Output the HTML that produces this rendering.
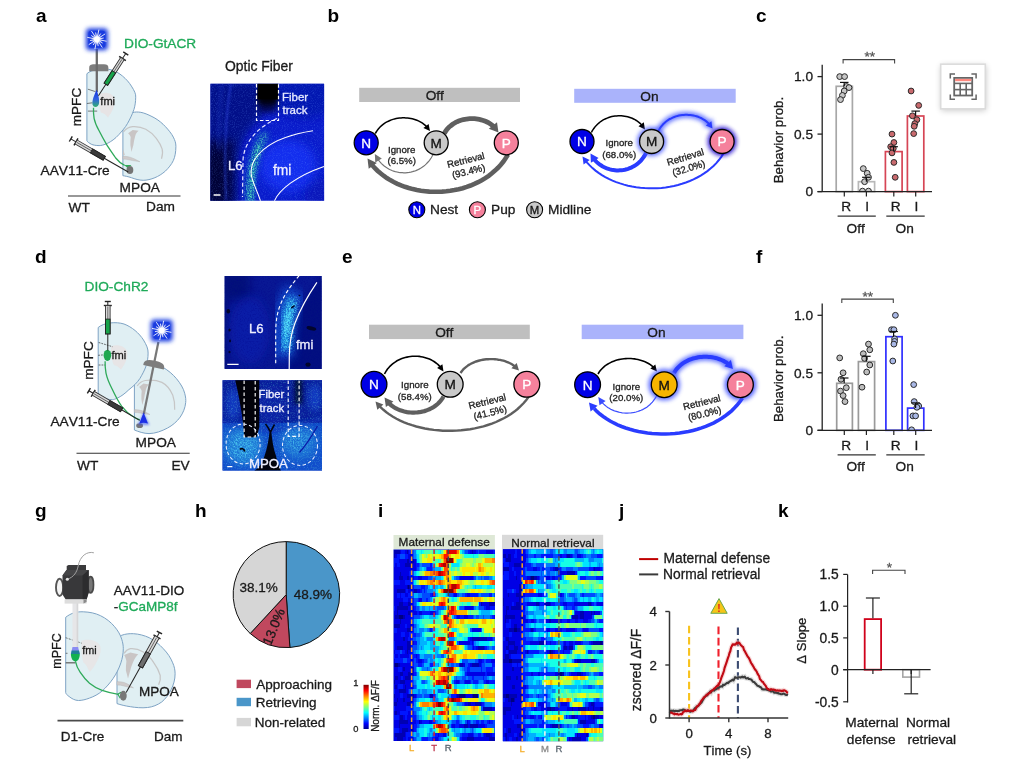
<!DOCTYPE html>
<html><head><meta charset="utf-8"><title>Figure</title>
<style>
html,body{margin:0;padding:0;background:#fff;}
body{width:1018px;height:765px;overflow:hidden;position:relative;font-family:"Liberation Sans",sans-serif;}
svg{position:absolute;left:0;top:0;display:block;}
svg text{font-family:"Liberation Sans",sans-serif;font-kerning:none;}
</style></head><body>
<svg width="1018" height="765" viewBox="0 0 1018 765">
<defs>
<filter id="blurh" x="-2%" y="-2%" width="104%" height="104%"><feGaussianBlur stdDeviation="0.55"/></filter>
<filter id="blur1" x="-50%" y="-50%" width="200%" height="200%"><feGaussianBlur stdDeviation="1"/></filter>
<filter id="blur2" x="-50%" y="-50%" width="200%" height="200%"><feGaussianBlur stdDeviation="2"/></filter>
<filter id="blur3" x="-50%" y="-50%" width="200%" height="200%"><feGaussianBlur stdDeviation="3"/></filter>
<filter id="blur5" x="-50%" y="-50%" width="200%" height="200%"><feGaussianBlur stdDeviation="5"/></filter>
<filter id="blur8" x="-50%" y="-50%" width="200%" height="200%"><feGaussianBlur stdDeviation="8"/></filter>
<filter id="noise" x="0" y="0" width="100%" height="100%">
  <feTurbulence type="fractalNoise" baseFrequency="0.9" numOctaves="2" seed="3" result="n"/>
  <feColorMatrix in="n" type="matrix" values="0 0 0 0 0.15  0 0 0 0 0.35  0 0 0 0 1  0 0 1.6 0 -0.75"/>
</filter>
<filter id="noisec" x="0" y="0" width="100%" height="100%">
  <feTurbulence type="fractalNoise" baseFrequency="0.8" numOctaves="2" seed="11" result="n"/>
  <feColorMatrix in="n" type="matrix" values="0 0 0 0 0.2  0 0 0 0 1  0 0 0 0 0.75  0 2.4 0 0 -1.15"/>
</filter>
<filter id="noiseg" x="0" y="0" width="100%" height="100%">
  <feTurbulence type="fractalNoise" baseFrequency="0.75" numOctaves="2" seed="5" result="n"/>
  <feColorMatrix in="n" type="matrix" values="0 0 0 0 0.12  0 0 0 0 0.85  0 0 0 0 0.55  0 3.0 0 0 -1.15"/>
</filter>
<filter id="noisecy" x="0" y="0" width="100%" height="100%">
  <feTurbulence type="fractalNoise" baseFrequency="0.75" numOctaves="2" seed="8" result="n"/>
  <feColorMatrix in="n" type="matrix" values="0 0 0 0 0.12  0 0 0 0 0.88  0 0 0 0 1  0 3.0 0 0 -1.2"/>
</filter>
<filter id="noised" x="0" y="0" width="100%" height="100%">
  <feTurbulence type="fractalNoise" baseFrequency="0.7" numOctaves="2" seed="7" result="n"/>
  <feColorMatrix in="n" type="matrix" values="0 0 0 0 0  0 0 0 0 0  0 0 0 0 0.25  1.8 0 0 0 -0.85"/>
</filter>
<radialGradient id="lightg" cx="50%" cy="50%" r="50%">
  <stop offset="0" stop-color="#fff"/><stop offset="0.25" stop-color="#dfe6ff"/><stop offset="0.45" stop-color="#2a4ae8"/><stop offset="1" stop-color="#1638dc"/>
</radialGradient>
<linearGradient id="coneg" x1="0" y1="0" x2="0" y2="1">
  <stop offset="0" stop-color="#1030e0"/><stop offset="0.55" stop-color="#3060e0"/><stop offset="1" stop-color="#30b070"/>
</linearGradient>
<linearGradient id="coned" x1="0" y1="0" x2="0" y2="1">
  <stop offset="0" stop-color="#1030e0"/><stop offset="1" stop-color="#5070f0" stop-opacity="0.5"/>
</linearGradient>
<linearGradient id="jet" x1="0" y1="1" x2="0" y2="0">
  <stop offset="0" stop-color="#00008f"/><stop offset="0.12" stop-color="#0000ff"/><stop offset="0.37" stop-color="#00ffff"/>
  <stop offset="0.62" stop-color="#ffff00"/><stop offset="0.87" stop-color="#ff0000"/><stop offset="1" stop-color="#800000"/>
</linearGradient>
<clipPath id="clipA"><rect x="210.4" y="83.8" width="113.7" height="116.9"/></clipPath>
<clipPath id="clipD1"><rect x="224.6" y="275.9" width="97.1" height="93"/></clipPath>
<clipPath id="clipD2"><rect x="222.6" y="380.2" width="99.4" height="90.3"/></clipPath>
</defs>
<text x="36" y="22" font-size="19" fill="#000" text-anchor="start" font-weight="bold">a</text>
<text x="327.5" y="22" font-size="19" fill="#000" text-anchor="start" font-weight="bold">b</text>
<text x="756" y="22" font-size="19" fill="#000" text-anchor="start" font-weight="bold">c</text>
<text x="35" y="263" font-size="19" fill="#000" text-anchor="start" font-weight="bold">d</text>
<text x="342" y="263" font-size="19" fill="#000" text-anchor="start" font-weight="bold">e</text>
<text x="756" y="263" font-size="19" fill="#000" text-anchor="start" font-weight="bold">f</text>
<text x="35" y="516.5" font-size="19" fill="#000" text-anchor="start" font-weight="bold">g</text>
<text x="195" y="516.5" font-size="19" fill="#000" text-anchor="start" font-weight="bold">h</text>
<text x="378" y="516.5" font-size="19" fill="#000" text-anchor="start" font-weight="bold">i</text>
<text x="619" y="516.5" font-size="19" fill="#000" text-anchor="start" font-weight="bold">j</text>
<text x="778" y="516.5" font-size="19" fill="#000" text-anchor="start" font-weight="bold">k</text>
<path d="M122.9,125 C126,117 130,113 134.3,112.2 C137,111.8 140,112 143.2,112.9 C147,114 151,116 154.9,118.1 C159,120.5 162.5,123.5 165.4,126.6 C168.5,130 171.5,133.5 173.3,137.1 C175,140.5 175.9,143 175.9,146.3 C175.9,152 175,157 173.3,160.6 C171.5,164.5 168.5,168 165.4,171.1 C162,174 158.5,176.2 154.9,177.7 C151,179.3 147,180.3 143.2,180.3 C139,180.3 135,179 131.4,177.7 C128,176.5 125,176 122.9,175.7 Z" fill="#e0eff3" stroke="#7ea3c4" stroke-width="1"/>
<path d="M123.5,131.9 C126,128.5 129,127 132.7,126.6 C137,126.3 141.5,127 145.8,129.2 C150,131.5 153.5,134.5 156.3,138.4 C159,142 161,145.5 162.1,148.9 C163,152 162.5,155.5 161.5,158.7" fill="none" stroke="#c6c6c6" stroke-width="1.2"/>
<path d="M128.1,133.2 L132.7,129.9 L138.6,130.8 C136.5,132.5 135.8,134 135.3,135.8 C134.3,139 133.8,142 133.4,144.9 L131.4,152.1 L130.4,144.9 C130.3,142 130.4,139.5 130.7,137.1 C130.2,135.5 129.3,134.2 128.1,133.2 Z" fill="#c9c5c5"/>
<path d="M122.9,156.1 L128.1,156.7 C130.5,157.2 132.3,157.9 134,158.7 L139.9,161.7 L132.7,160.6 L126.2,159.3 L122.9,159.1 Z" fill="#cfcbcb" stroke="#b4b0b0" stroke-width="0.4"/>
<path d="M123,148.5 L124.8,155 L123,155 Z" fill="#c9c5c5"/>
<path d="M86.9,73.7 C92,69 104,68 111.5,69.9 C119,72 127,79 131.4,86.1 C134.5,91 136,94 135.7,97.2 C135.7,102 135,106 133.9,109.6 C132,115 130,119 127.6,123.3 C125,128 122,131 119,134.5 C115,139 111,141.5 107.8,143.2 C104,145 101,145.6 99.1,145.6 C96,145.6 93,145 91.7,144.4 C89,143 87.5,142 86.9,140.7 Z" fill="#e0eff3" stroke="#7ea3c4" stroke-width="1"/>
<path d="M100,94 C105,91.5 113,93 114.5,99 C115.5,105 112,112 108,117.5 C106,115 104,113 101,112.5 C99,108 99.5,100 100,94 Z" fill="#e8e2e2" opacity="0.85"/>
<g stroke="#444" stroke-width="0.7"><line x1="87.9" y1="89.2" x2="95.4" y2="91.6"/><line x1="86.9" y1="103.5" x2="92.3" y2="102.8"/><line x1="87.9" y1="111.1" x2="97.2" y2="111.1"/></g>
<path d="M89.2,71.2 L89.2,68 C89.2,65 91,64.3 94,64.3 L104,64.3 C107,64.3 108.4,65.3 108.4,68 L108.4,71.2 Z" fill="#7d7d7d"/>
<line x1="96.8" y1="49" x2="96.8" y2="92" stroke="#6a6a6a" stroke-width="2.3"/>
<rect x="85.9" y="28.3" width="22" height="22" rx="4" fill="#1a3ce0" filter="url(#blur2)"/>
<rect x="88.4" y="30.8" width="17" height="17" rx="3" fill="#1a3ce0"/>
<g stroke="#fff" stroke-width="0.9" stroke-linecap="round" opacity="0.95"><line x1="96.9" y1="39.3" x2="106.2" y2="41.2"/><line x1="96.9" y1="39.3" x2="102.3" y2="42.9"/><line x1="96.9" y1="39.3" x2="102.1" y2="47.2"/><line x1="96.9" y1="39.3" x2="98.1" y2="45.7"/><line x1="96.9" y1="39.3" x2="95" y2="48.6"/><line x1="96.9" y1="39.3" x2="93.3" y2="44.7"/><line x1="96.9" y1="39.3" x2="89" y2="44.5"/><line x1="96.9" y1="39.3" x2="90.5" y2="40.5"/><line x1="96.9" y1="39.3" x2="87.6" y2="37.4"/><line x1="96.9" y1="39.3" x2="91.5" y2="35.7"/><line x1="96.9" y1="39.3" x2="91.7" y2="31.4"/><line x1="96.9" y1="39.3" x2="95.7" y2="32.9"/><line x1="96.9" y1="39.3" x2="98.8" y2="30"/><line x1="96.9" y1="39.3" x2="100.5" y2="33.9"/><line x1="96.9" y1="39.3" x2="104.8" y2="34.1"/><line x1="96.9" y1="39.3" x2="103.3" y2="38.1"/></g>
<circle cx="96.9" cy="39.3" r="3.6" fill="#fff" filter="url(#blur1)"/>
<circle cx="96.9" cy="39.3" r="2.6" fill="#fff"/>
<path d="M96.6,89.8 C98,94 99.6,99 99.1,103 C98.6,107.5 93.8,108.5 92.5,104.5 C91.8,100.5 94.5,94.5 96.6,89.8 Z" fill="url(#coneg)"/>
<path d="M93.5,107.8 C93.3,112 93.6,115 94.1,118.3 C95,123 97,127 99.1,130.7 C101.5,135.5 104,140 106.5,144.4 C109,148.5 112,152.5 115.7,158 C118.5,161.5 121,163.8 124.6,165.4" fill="none" stroke="#2faa5a" stroke-width="1.3"/>
<path d="M124.2,165 L131.4,165 L128.1,168.6 Z" fill="#2faa5a"/>
<ellipse cx="129.9" cy="169.9" rx="3.4" ry="4" fill="#757575"/>
<g transform="translate(122.5 58.5) rotate(122.9)">
<line x1="-6" y1="0" x2="0" y2="0" stroke="#222" stroke-width="1"/>
<line x1="-6" y1="-3" x2="-6" y2="3" stroke="#222" stroke-width="1.4"/>
<line x1="0" y1="-4" x2="0" y2="4" stroke="#222" stroke-width="1.4"/>
<rect x="0" y="-2.1" width="30.6" height="4.2" fill="#d8d8d8" stroke="#333" stroke-width="0.9"/>
<line x1="1" y1="0" x2="15.9" y2="0" stroke="#555" stroke-width="0.8"/>
<rect x="15.9" y="-2.1" width="14.7" height="4.2" fill="#16a34a" stroke="#222" stroke-width="0.9"/>
<line x1="30.6" y1="0" x2="44.3" y2="0" stroke="#222" stroke-width="1"/>
</g>
<g transform="translate(76 141.9) rotate(30)">
<line x1="-6" y1="0" x2="0" y2="0" stroke="#222" stroke-width="1"/>
<line x1="-6" y1="-3" x2="-6" y2="3" stroke="#222" stroke-width="1.4"/>
<line x1="0" y1="-4" x2="0" y2="4" stroke="#222" stroke-width="1.4"/>
<rect x="0" y="-2.2" width="32.6" height="4.4" fill="#d8d8d8" stroke="#333" stroke-width="0.9"/>
<line x1="1" y1="0" x2="17.9" y2="0" stroke="#555" stroke-width="0.8"/>
<rect x="17.9" y="-2.2" width="14.7" height="4.4" fill="#3a3a3a" stroke="#222" stroke-width="0.9"/>
<line x1="32.6" y1="0" x2="60.3" y2="0" stroke="#222" stroke-width="1"/>
</g>
<text x="124" y="48.2" font-size="13.7" fill="#1faa59" stroke="#1faa59" stroke-width="0.3" text-anchor="start">DIO-GtACR</text>
<text x="81" y="107" font-size="13.6" fill="#1a1a1a" stroke="#1a1a1a" stroke-width="0.3" text-anchor="middle" transform="rotate(-90 81 107)">mPFC</text>
<text x="100.3" y="105.3" font-size="11.1" fill="#1a1a1a" stroke="#1a1a1a" stroke-width="0.3" text-anchor="start">fmi</text>
<text x="40.5" y="174.8" font-size="13.7" fill="#1a1a1a" stroke="#1a1a1a" stroke-width="0.3" text-anchor="start">AAV11-Cre</text>
<text x="119.6" y="192" font-size="13.7" fill="#1a1a1a" stroke="#1a1a1a" stroke-width="0.3" text-anchor="start">MPOA</text>
<line x1="68" y1="196" x2="180.5" y2="196" stroke="#333" stroke-width="1.2"/>
<text x="68.5" y="212.3" font-size="13.7" fill="#1a1a1a" stroke="#1a1a1a" stroke-width="0.3" text-anchor="start">WT</text>
<text x="146" y="210.8" font-size="13.7" fill="#1a1a1a" stroke="#1a1a1a" stroke-width="0.3" text-anchor="start">Dam</text>
<text x="225" y="71.3" font-size="13.9" fill="#1a1a1a" stroke="#1a1a1a" stroke-width="0.3" text-anchor="start">Optic Fiber</text>
<mask id="mGreenA"><rect x="205" y="80" width="125" height="125" fill="#000"/><path d="M265,134 C255,150 249.5,170 249.5,203" fill="none" stroke="#ccc" stroke-width="7.5" filter="url(#blur3)"/><path d="M259,146 C252.5,160 250,180 250.5,203" fill="none" stroke="#fff" stroke-width="4.5" filter="url(#blur2)"/></mask>
<g clip-path="url(#clipA)">
<rect x="210" y="83" width="115" height="118" fill="#0a1ccc"/>
<path d="M205,80 L262,80 L262,118 C248,128 238,145 238,165 L238,206 L205,206 Z" fill="#040c78" opacity="0.8" filter="url(#blur5)"/>
<path d="M205,140 L234,140 L234,206 L205,206 Z" fill="#010336" opacity="0.7" filter="url(#blur5)"/>
<ellipse cx="216" cy="178" rx="10" ry="30" fill="#00021c" opacity="0.45" filter="url(#blur5)"/>
<ellipse cx="305" cy="96" rx="34" ry="22" fill="#0612a8" opacity="0.75" filter="url(#blur5)"/>
<ellipse cx="320" cy="194" rx="16" ry="16" fill="#0714b0" opacity="0.6" filter="url(#blur5)"/>
<ellipse cx="288" cy="166" rx="28" ry="26" fill="#1230f4" opacity="0.85" filter="url(#blur5)"/>
<path d="M231,84 C226,110 224,150 226,200" fill="none" stroke="#2a44e0" stroke-width="1.6" opacity="0.7" filter="url(#blur1)"/>
<path d="M222,84 C219,110 218,130 219,150" fill="none" stroke="#1a30c0" stroke-width="3" opacity="0.5" filter="url(#blur2)"/>
<rect x="210" y="83" width="115" height="118" filter="url(#noise)" opacity="0.4"/>
<path d="M266,132 C256,148 250,168 250,200" fill="none" stroke="#1090a8" stroke-width="6" opacity="0.4" filter="url(#blur3)"/>
<path d="M260,144 C253,160 250.5,178 250.5,201" fill="none" stroke="#20c890" stroke-width="3" opacity="0.5" filter="url(#blur2)"/>
<g mask="url(#mGreenA)"><rect x="210" y="83" width="115" height="118" filter="url(#noiseg)"/></g>
<rect x="259" y="92" width="17.5" height="20" fill="#00021e" opacity="0.75" filter="url(#blur3)"/>
<rect x="257.5" y="83" width="20.5" height="16.5" fill="#000"/>
<rect x="258.5" y="92" width="18.5" height="12" fill="#000" opacity="0.8" filter="url(#blur2)"/>
<path d="M256.5,84 V120.5 H278.5 V84" fill="none" stroke="#fff" stroke-width="1.2" stroke-dasharray="3.5 2.2"/>
<path d="M277,118.5 C258,127 244,142 243,160 L242.5,197" fill="none" stroke="#e8e8ff" stroke-width="1.2" stroke-dasharray="4 2.6"/>
<path d="M260.5,201 C257,190 252,182 251.2,174 C250,158 266,138 313,130.8" fill="none" stroke="#fff" stroke-width="1.1"/>
<path d="M274.4,201 C279,190 296,176 324,166.4" fill="none" stroke="#fff" stroke-width="1.1"/>
<line x1="213.6" y1="195" x2="220.5" y2="195" stroke="#fff" stroke-width="1.3"/>
</g>
<text x="282" y="100.8" font-size="11.5" fill="#e6e9ff" stroke="#e6e9ff" stroke-width="0.3" text-anchor="start">Fiber</text>
<text x="282.5" y="113.8" font-size="11.5" fill="#e6e9ff" stroke="#e6e9ff" stroke-width="0.3" text-anchor="start">track</text>
<text x="228" y="169.5" font-size="13.2" fill="#f0f0ff" stroke="#f0f0ff" stroke-width="0.3" text-anchor="start">L6</text>
<text x="273" y="175" font-size="13.8" fill="#f0f0ff" stroke="#f0f0ff" stroke-width="0.3" text-anchor="start">fmi</text>
<rect x="359.2" y="87.8" width="160.8" height="14.2" fill="#bfbfbf"/>
<text x="434.8" y="99.8" font-size="13.7" fill="#1a1a1a" stroke="#1a1a1a" stroke-width="0.3" text-anchor="middle">Off</text>
<path d="M508,154.5 L505.8,158.1 L503.4,161.5 L500.8,164.7 L498,167.8 L495,170.6 L491.9,173.3 L488.7,175.8 L485.3,178.1 L481.8,180.2 L478.1,182.2 L474.4,183.9 L470.6,185.5 L466.7,186.9 L462.7,188.2 L458.6,189.2 L454.5,190.1 L450.3,190.8 L446.2,191.3 L442,191.6 L437.8,191.8 L433.5,191.8 L429.3,191.6 L425.2,191.2 L421,190.7 L416.9,190 L412.8,189.1 L408.8,188 L404.9,186.8 L401.1,185.4 L397.4,183.8 L393.7,182 L390.2,180.1 L386.8,178 L383.6,175.7 L380.5,173.3 L377.5,170.7 L374.7,167.9 L372.1,164.9 L372.1,164.9" fill="none" stroke="#5f5f5f" stroke-width="4.6"/>
<polygon points="367.5,158.5 376.8,162.9 368.7,168.7" fill="#5f5f5f"/>
<path d="M433,154.5 L432.1,156.3 L431.1,158 L430,159.6 L428.9,161.1 L427.6,162.5 L426.3,163.9 L425,165.1 L423.6,166.2 L422.1,167.3 L420.6,168.3 L419.1,169.1 L417.5,169.9 L415.9,170.6 L414.2,171.2 L412.5,171.7 L410.8,172.1 L409.1,172.4 L407.4,172.6 L405.6,172.8 L403.9,172.8 L402.2,172.7 L400.4,172.6 L398.7,172.4 L397,172 L395.3,171.6 L393.6,171.1 L391.9,170.5 L390.3,169.8 L388.7,169 L387.2,168.1 L385.7,167.1 L384.2,166 L382.8,164.8 L381.5,163.6 L380.2,162.2 L378.9,160.7 L377.8,159.2 L377.8,159.2" fill="none" stroke="#757575" stroke-width="1.2"/>
<polygon points="374.8,154 381.8,158.6 375.3,162.4" fill="#757575"/>
<path d="M375.3,133.5 L376.2,132 L377.1,130.6 L378.1,129.2 L379.2,128 L380.3,126.8 L381.6,125.6 L382.8,124.6 L384.1,123.6 L385.5,122.7 L386.9,121.9 L388.4,121.2 L389.9,120.5 L391.4,119.9 L393,119.4 L394.5,118.9 L396.1,118.6 L397.7,118.3 L399.4,118 L401,117.9 L402.6,117.8 L404.3,117.8 L405.9,117.9 L407.6,118 L409.2,118.2 L410.8,118.5 L412.3,118.8 L413.9,119.2 L415.4,119.7 L416.9,120.3 L418.4,120.9 L419.8,121.6 L421.2,122.4 L422.5,123.2 L423.7,124.1 L425,125.1 L426.1,126.1 L426.7,126.7" fill="none" stroke="#000" stroke-width="1.5"/>
<polygon points="430,131 423.4,127.9 428.6,123.9" fill="#000"/>
<path d="M444.2,133.5 L445.1,132.1 L446,130.7 L447,129.4 L448.1,128.2 L449.2,127 L450.4,126 L451.7,125 L453,124 L454.3,123.2 L455.7,122.4 L457.2,121.7 L458.7,121.1 L460.2,120.5 L461.7,120 L463.3,119.6 L464.9,119.3 L466.5,119 L468.1,118.8 L469.7,118.7 L471.4,118.6 L473,118.6 L474.6,118.7 L476.2,118.9 L477.8,119.1 L479.4,119.4 L481,119.8 L482.5,120.2 L484,120.7 L485.5,121.3 L487,122 L488.4,122.7 L489.7,123.5 L491,124.4 L492.3,125.4 L493.5,126.4 L494.1,126.9" fill="none" stroke="#5f5f5f" stroke-width="4.8"/>
<polygon points="498.5,132.5 488.8,128.7 497,122.2" fill="#5f5f5f"/>
<circle cx="366.2" cy="142.8" r="12" fill="#0000e6" stroke="#000" stroke-width="1.3"/>
<text x="366.2" y="147.7" font-size="13.6" fill="#fff" stroke="#fff" stroke-width="0.3" text-anchor="middle">N</text>
<circle cx="436.2" cy="142.8" r="12" fill="#c9c9c9" stroke="#000" stroke-width="1.3"/>
<text x="436.2" y="147.7" font-size="13.6" fill="#111" stroke="#111" stroke-width="0.3" text-anchor="middle">M</text>
<circle cx="506.3" cy="142.8" r="12" fill="#f5819c" stroke="#000" stroke-width="1.3"/>
<text x="506.3" y="147.7" font-size="13.6" fill="#fff" stroke="#fff" stroke-width="0.3" text-anchor="middle">P</text>
<text x="401.7" y="153" font-size="9.7" fill="#222" stroke="#222" stroke-width="0.3" text-anchor="middle">Ignore</text>
<text x="401.7" y="164.2" font-size="9.7" fill="#222" stroke="#222" stroke-width="0.3" text-anchor="middle">(6.5%)</text>
<g transform="rotate(-14 468 168.9)">
<text x="468" y="163.2" font-size="9.7" fill="#222" stroke="#222" stroke-width="0.3" text-anchor="middle">Retrieval</text>
<text x="468" y="174.7" font-size="9.7" fill="#222" stroke="#222" stroke-width="0.3" text-anchor="middle">(93.4%)</text>
</g>
<rect x="574.2" y="88.8" width="161.5" height="14" fill="#aab3fb"/>
<text x="649.5" y="100.6" font-size="13.7" fill="#1a1a1a" stroke="#1a1a1a" stroke-width="0.3" text-anchor="middle">On</text>
<path d="M723.5,153.5 L721.3,156.9 L718.9,160 L716.3,163.1 L713.5,165.9 L710.5,168.6 L707.4,171.1 L704.1,173.4 L700.7,175.6 L697.2,177.5 L693.5,179.4 L689.8,181 L685.9,182.5 L682,183.8 L678,185 L673.9,185.9 L669.8,186.7 L665.6,187.4 L661.4,187.9 L657.2,188.2 L653,188.3 L648.8,188.3 L644.6,188.1 L640.4,187.7 L636.2,187.2 L632.1,186.5 L628,185.7 L624,184.6 L620.1,183.4 L616.2,182.1 L612.5,180.6 L608.8,178.9 L605.3,177.1 L601.9,175.1 L598.6,172.9 L595.5,170.6 L592.5,168.1 L589.7,165.4 L587.1,162.6 L585.9,161.1" fill="none" stroke="#2a3cff" stroke-width="2"/>
<polygon points="582.5,156.5 589.7,159.9 583.6,164.4" fill="#2a3cff"/>
<path d="M646,153 L645.1,154.7 L644.2,156.3 L643.1,157.8 L642,159.2 L640.9,160.6 L639.7,161.8 L638.4,163 L637,164.1 L635.6,165.1 L634.2,166 L632.7,166.8 L631.2,167.6 L629.7,168.2 L628.1,168.8 L626.5,169.3 L624.9,169.7 L623.2,170 L621.6,170.2 L619.9,170.3 L618.2,170.4 L616.6,170.4 L614.9,170.2 L613.3,170 L611.6,169.8 L610,169.4 L608.4,168.9 L606.8,168.4 L605.3,167.7 L603.8,167 L602.3,166.2 L600.9,165.3 L599.5,164.4 L598.1,163.3 L596.8,162.1 L595.6,160.9 L594.5,159.6 L593.9,158.9" fill="none" stroke="#2a3cff" stroke-width="4"/>
<polygon points="590.5,153.5 598.6,157.9 590.9,162.7" fill="#2a3cff"/>
<path d="M591.4,132.5 L592.2,130.9 L593.2,129.4 L594.2,128 L595.2,126.6 L596.3,125.4 L597.5,124.2 L598.8,123.1 L600.1,122 L601.4,121.1 L602.8,120.2 L604.2,119.4 L605.7,118.7 L607.2,118.1 L608.7,117.5 L610.2,117 L611.8,116.6 L613.4,116.3 L615,116.1 L616.6,115.9 L618.2,115.8 L619.8,115.8 L621.4,115.8 L623,116 L624.6,116.2 L626.2,116.5 L627.7,116.8 L629.2,117.3 L630.7,117.8 L632.2,118.3 L633.6,119 L635,119.7 L636.3,120.5 L637.6,121.4 L638.9,122.3 L640.1,123.3 L641.2,124.4 L641.7,125" fill="none" stroke="#000" stroke-width="1.5"/>
<polygon points="645,129.5 638.5,126.2 643.8,122.3" fill="#000"/>
<g filter="url(#blur2)" opacity="0.9"><path d="M658.3,131 L659.2,129.5 L660.1,128 L661.1,126.6 L662.2,125.3 L663.3,124 L664.5,122.9 L665.8,121.8 L667.1,120.8 L668.4,119.9 L669.8,119 L671.3,118.3 L672.7,117.6 L674.3,117 L675.8,116.4 L677.4,116 L678.9,115.6 L680.5,115.3 L682.2,115 L683.8,114.9 L685.4,114.8 L687,114.8 L688.6,114.9 L690.3,115 L691.9,115.2 L693.4,115.5 L695,115.9 L696.5,116.3 L698.1,116.8 L699.5,117.4 L701,118 L702.4,118.8 L703.7,119.6 L705,120.4 L706.3,121.4 L707.5,122.4 L708.6,123.5 L709.2,124" fill="none" stroke="#5a6cff" stroke-width="6" stroke-linecap="round"/><polygon points="712.5,128.5 705.8,125.4 711.4,121.2" fill="#5a6cff" stroke="#5a6cff" stroke-width="3"/></g>
<path d="M658.3,131 L659.2,129.5 L660.1,128 L661.1,126.6 L662.2,125.3 L663.3,124 L664.5,122.9 L665.8,121.8 L667.1,120.8 L668.4,119.9 L669.8,119 L671.3,118.3 L672.7,117.6 L674.3,117 L675.8,116.4 L677.4,116 L678.9,115.6 L680.5,115.3 L682.2,115 L683.8,114.9 L685.4,114.8 L687,114.8 L688.6,114.9 L690.3,115 L691.9,115.2 L693.4,115.5 L695,115.9 L696.5,116.3 L698.1,116.8 L699.5,117.4 L701,118 L702.4,118.8 L703.7,119.6 L705,120.4 L706.3,121.4 L707.5,122.4 L708.6,123.5 L709.2,124" fill="none" stroke="#2a3cff" stroke-width="2"/>
<polygon points="712.5,128.5 705.8,125.4 711.4,121.2" fill="#2a3cff"/>
<circle cx="582" cy="141.5" r="12" fill="#0000e6" stroke="#000" stroke-width="1.3"/>
<text x="582" y="146.4" font-size="13.6" fill="#fff" stroke="#fff" stroke-width="0.3" text-anchor="middle">N</text>
<circle cx="651.6" cy="141.5" r="14.5" fill="#4a5cff" opacity="0.85" filter="url(#blur2)"/>
<circle cx="651.6" cy="141.5" r="12" fill="#c9c9c9" stroke="#000" stroke-width="1.3"/>
<text x="651.6" y="146.4" font-size="13.6" fill="#111" stroke="#111" stroke-width="0.3" text-anchor="middle">M</text>
<circle cx="722.1" cy="141.5" r="14.5" fill="#2a18d0" opacity="0.95" filter="url(#blur2)"/>
<circle cx="722.1" cy="141.5" r="12" fill="#f5819c" stroke="#000" stroke-width="1.3"/>
<text x="722.1" y="146.4" font-size="13.6" fill="#fff" stroke="#fff" stroke-width="0.3" text-anchor="middle">P</text>
<text x="619.2" y="146.4" font-size="9.7" fill="#222" stroke="#222" stroke-width="0.3" text-anchor="middle">Ignore</text>
<text x="619.2" y="157.9" font-size="9.7" fill="#222" stroke="#222" stroke-width="0.3" text-anchor="middle">(68.0%)</text>
<g transform="rotate(-17 688 165.8)">
<text x="688" y="160" font-size="9.7" fill="#222" stroke="#222" stroke-width="0.3" text-anchor="middle">Retrieval</text>
<text x="688" y="171.5" font-size="9.7" fill="#222" stroke="#222" stroke-width="0.3" text-anchor="middle">(32.0%)</text>
</g>
<circle cx="416.8" cy="209.7" r="8" fill="#0000e6" stroke="#000" stroke-width="1.1"/>
<text x="416.8" y="213.8" font-size="11.4" fill="#fff" stroke="#fff" stroke-width="0.3" text-anchor="middle">N</text>
<text x="430" y="214.3" font-size="13.7" fill="#1a1a1a" stroke="#1a1a1a" stroke-width="0.3" text-anchor="start">Nest</text>
<circle cx="477.4" cy="209.7" r="8" fill="#f5819c" stroke="#000" stroke-width="1.1"/>
<text x="477.4" y="213.8" font-size="11.4" fill="#fff" stroke="#fff" stroke-width="0.3" text-anchor="middle">P</text>
<text x="491" y="214.3" font-size="13.7" fill="#1a1a1a" stroke="#1a1a1a" stroke-width="0.3" text-anchor="start">Pup</text>
<circle cx="534.6" cy="209.7" r="8" fill="#c9c9c9" stroke="#000" stroke-width="1.1"/>
<text x="534.6" y="213.8" font-size="11.4" fill="#111" stroke="#111" stroke-width="0.3" text-anchor="middle">M</text>
<text x="548" y="214.3" font-size="13.7" fill="#1a1a1a" stroke="#1a1a1a" stroke-width="0.3" text-anchor="start">Midline</text>
<rect x="369" y="324.7" width="160.8" height="14.4" fill="#bfbfbf"/>
<text x="444.3" y="336.9" font-size="13.7" fill="#1a1a1a" stroke="#1a1a1a" stroke-width="0.3" text-anchor="middle">Off</text>
<path d="M528.5,397 L526.1,400.2 L523.5,403.3 L520.6,406.2 L517.6,409 L514.4,411.6 L511,414 L507.5,416.2 L503.8,418.3 L499.9,420.2 L496,422 L491.9,423.6 L487.7,425 L483.5,426.3 L479.1,427.4 L474.7,428.4 L470.2,429.2 L465.7,429.8 L461.2,430.3 L456.6,430.6 L452,430.8 L447.4,430.8 L442.8,430.7 L438.3,430.3 L433.8,429.9 L429.3,429.3 L424.9,428.5 L420.5,427.5 L416.3,426.5 L412.1,425.2 L408,423.8 L404.1,422.3 L400.2,420.6 L396.5,418.7 L393,416.7 L389.6,414.6 L386.4,412.2 L383.4,409.8 L380.5,407.2 L379.2,405.8" fill="none" stroke="#5f5f5f" stroke-width="2.4"/>
<polygon points="375.5,401.5 383.4,404.6 377.3,409.8" fill="#5f5f5f"/>
<path d="M443.5,396.5 L442.6,398.1 L441.6,399.5 L440.5,400.9 L439.3,402.3 L438.1,403.5 L436.8,404.7 L435.4,405.7 L434,406.7 L432.5,407.7 L431,408.5 L429.4,409.3 L427.8,409.9 L426.1,410.6 L424.5,411.1 L422.8,411.5 L421,411.9 L419.3,412.2 L417.5,412.4 L415.8,412.5 L414,412.6 L412.2,412.6 L410.5,412.5 L408.7,412.3 L407,412.1 L405.2,411.7 L403.5,411.3 L401.9,410.8 L400.2,410.3 L398.6,409.6 L397,408.9 L395.5,408.1 L394,407.2 L392.6,406.3 L391.2,405.3 L389.9,404.2 L388.7,403 L388.7,403" fill="none" stroke="#5f5f5f" stroke-width="4.2"/>
<polygon points="384.5,397.5 393.4,401.4 385.9,407.1" fill="#5f5f5f"/>
<path d="M384.5,374 L385.4,372.3 L386.4,370.7 L387.5,369.1 L388.7,367.7 L389.9,366.3 L391.2,365.1 L392.6,363.9 L394,362.8 L395.5,361.8 L397,360.8 L398.6,360 L400.2,359.2 L401.9,358.6 L403.5,358 L405.2,357.5 L407,357.1 L408.7,356.7 L410.5,356.5 L412.2,356.3 L414,356.2 L415.8,356.2 L417.5,356.3 L419.3,356.4 L421,356.7 L422.8,357 L424.5,357.4 L426.1,357.9 L427.8,358.5 L429.4,359.1 L431,359.8 L432.5,360.6 L434,361.5 L435.4,362.5 L436.8,363.5 L438.1,364.7 L439.3,365.9 L440.5,367.2 L440.5,367.2" fill="none" stroke="#000" stroke-width="1.6"/>
<polygon points="443.5,371.5 437.1,368 442.4,364.3" fill="#000"/>
<path d="M460.5,373 L461.4,371.7 L462.4,370.4 L463.5,369.2 L464.7,368.1 L465.9,367.1 L467.2,366.1 L468.5,365.1 L470,364.3 L471.4,363.5 L472.9,362.8 L474.5,362.1 L476.1,361.5 L477.7,361 L479.4,360.5 L481.1,360.1 L482.8,359.8 L484.5,359.5 L486.2,359.3 L488,359.2 L489.8,359.1 L491.5,359.1 L493.3,359.1 L495,359.2 L496.7,359.4 L498.4,359.7 L500.1,359.9 L501.8,360.3 L503.4,360.7 L505,361.2 L506.6,361.8 L508.1,362.4 L509.5,363 L511,363.7 L512.3,364.5 L513.6,365.4 L514.8,366.3 L514.8,366.3" fill="none" stroke="#5f5f5f" stroke-width="2.4"/>
<polygon points="519,370.5 511.4,368.2 516.7,362.9" fill="#5f5f5f"/>
<circle cx="374" cy="384.3" r="12.9" fill="#0000e6" stroke="#000" stroke-width="1.3"/>
<text x="374" y="389.2" font-size="13.6" fill="#fff" stroke="#fff" stroke-width="0.3" text-anchor="middle">N</text>
<circle cx="450.2" cy="384.3" r="12.9" fill="#c9c9c9" stroke="#000" stroke-width="1.3"/>
<text x="450.2" y="389.2" font-size="13.6" fill="#111" stroke="#111" stroke-width="0.3" text-anchor="middle">M</text>
<circle cx="526.8" cy="384.3" r="12.9" fill="#f5819c" stroke="#000" stroke-width="1.3"/>
<text x="526.8" y="389.2" font-size="13.6" fill="#fff" stroke="#fff" stroke-width="0.3" text-anchor="middle">P</text>
<text x="414.8" y="388.2" font-size="9.7" fill="#222" stroke="#222" stroke-width="0.3" text-anchor="middle">Ignore</text>
<text x="414.8" y="399.6" font-size="9.7" fill="#222" stroke="#222" stroke-width="0.3" text-anchor="middle">(58.4%)</text>
<g transform="rotate(-14 489.5 410.2)">
<text x="489.5" y="404.5" font-size="9.7" fill="#222" stroke="#222" stroke-width="0.3" text-anchor="middle">Retrieval</text>
<text x="489.5" y="416" font-size="9.7" fill="#222" stroke="#222" stroke-width="0.3" text-anchor="middle">(41.5%)</text>
</g>
<rect x="581.7" y="324.7" width="161.7" height="14.4" fill="#aab3fb"/>
<text x="656.4" y="336.9" font-size="13.7" fill="#1a1a1a" stroke="#1a1a1a" stroke-width="0.3" text-anchor="middle">On</text>
<path d="M742.5,398 L740.1,401.5 L737.4,404.7 L734.6,407.8 L731.6,410.8 L728.3,413.5 L725,416.1 L721.4,418.5 L717.7,420.7 L713.9,422.8 L709.9,424.6 L705.8,426.4 L701.6,427.9 L697.3,429.3 L693,430.4 L688.5,431.5 L684,432.3 L679.5,433 L674.9,433.5 L670.4,433.8 L665.8,434 L661.1,434 L656.6,433.8 L652,433.5 L647.5,433 L643,432.3 L638.5,431.5 L634.2,430.5 L629.9,429.3 L625.7,428 L621.6,426.5 L617.6,424.8 L613.8,423 L610.1,421 L606.5,418.8 L603.2,416.5 L599.9,414 L596.9,411.4 L594.1,408.6 L594.1,408.6" fill="none" stroke="#2a3cff" stroke-width="3.6"/>
<polygon points="589,402.5 597.6,405.8 590.6,411.5" fill="#2a3cff"/>
<path d="M656.5,396 L655.6,397.7 L654.6,399.2 L653.5,400.7 L652.4,402.1 L651.1,403.4 L649.8,404.7 L648.5,405.8 L647.1,406.9 L645.6,407.9 L644.1,408.7 L642.6,409.6 L641,410.3 L639.4,410.9 L637.7,411.5 L636,412 L634.3,412.4 L632.6,412.7 L630.9,412.9 L629.1,413 L627.4,413.1 L625.7,413.1 L623.9,413 L622.2,412.8 L620.5,412.5 L618.8,412.2 L617.1,411.7 L615.4,411.2 L613.8,410.6 L612.2,409.9 L610.7,409.2 L609.2,408.3 L607.7,407.4 L606.3,406.4 L605,405.3 L603.7,404.1 L602.4,402.8 L601.9,402.2" fill="none" stroke="#3a4cff" stroke-width="1.2"/>
<polygon points="598.3,397 605.6,401.1 599.5,405.3" fill="#3a4cff"/>
<path d="M598,374 L598.9,372.5 L599.9,371.1 L601,369.8 L602.2,368.5 L603.4,367.4 L604.7,366.2 L606.1,365.2 L607.5,364.3 L609,363.4 L610.5,362.6 L612.1,361.8 L613.7,361.2 L615.4,360.6 L617,360.1 L618.7,359.6 L620.5,359.3 L622.2,359 L624,358.7 L625.7,358.6 L627.5,358.5 L629.3,358.5 L631,358.5 L632.8,358.7 L634.5,358.9 L636.3,359.2 L638,359.5 L639.6,359.9 L641.3,360.4 L642.9,360.9 L644.5,361.6 L646,362.2 L647.5,363 L648.9,363.8 L650.3,364.7 L651.6,365.7 L652.8,366.7 L653.4,367.2" fill="none" stroke="#000" stroke-width="1.6"/>
<polygon points="657,371.5 650.3,368.6 655.3,364.4" fill="#000"/>
<g filter="url(#blur2)" opacity="0.9"><path d="M674,373 L674.9,371.5 L675.9,370 L677,368.6 L678.2,367.3 L679.4,366.1 L680.7,365 L682.1,363.9 L683.5,362.9 L685,362 L686.5,361.2 L688.1,360.4 L689.7,359.7 L691.4,359.1 L693,358.5 L694.7,358.1 L696.5,357.7 L698.2,357.3 L700,357.1 L701.7,356.9 L703.5,356.8 L705.3,356.8 L707,356.8 L708.8,356.9 L710.5,357.1 L712.3,357.3 L714,357.6 L715.6,358 L717.3,358.4 L718.9,359 L720.5,359.5 L722,360.2 L723.5,360.9 L724.9,361.7 L726.3,362.5 L727.6,363.5 L728.8,364.4 L728.8,364.4" fill="none" stroke="#5a6cff" stroke-width="8" stroke-linecap="round"/><polygon points="733,369 724.3,366.2 730.9,360.1" fill="#5a6cff" stroke="#5a6cff" stroke-width="3"/></g>
<path d="M674,373 L674.9,371.5 L675.9,370 L677,368.6 L678.2,367.3 L679.4,366.1 L680.7,365 L682.1,363.9 L683.5,362.9 L685,362 L686.5,361.2 L688.1,360.4 L689.7,359.7 L691.4,359.1 L693,358.5 L694.7,358.1 L696.5,357.7 L698.2,357.3 L700,357.1 L701.7,356.9 L703.5,356.8 L705.3,356.8 L707,356.8 L708.8,356.9 L710.5,357.1 L712.3,357.3 L714,357.6 L715.6,358 L717.3,358.4 L718.9,359 L720.5,359.5 L722,360.2 L723.5,360.9 L724.9,361.7 L726.3,362.5 L727.6,363.5 L728.8,364.4 L728.8,364.4" fill="none" stroke="#2a3cff" stroke-width="4"/>
<polygon points="733,369 724.3,366.2 730.9,360.1" fill="#2a3cff"/>
<circle cx="587.6" cy="384.7" r="12.9" fill="#0000e6" stroke="#000" stroke-width="1.3"/>
<text x="587.6" y="389.6" font-size="13.6" fill="#fff" stroke="#fff" stroke-width="0.3" text-anchor="middle">N</text>
<circle cx="664.2" cy="384.7" r="15.9" fill="#4a5cff" opacity="0.85" filter="url(#blur2)"/>
<circle cx="664.2" cy="384.7" r="12.9" fill="#f7b500" stroke="#000" stroke-width="1.3"/>
<text x="664.2" y="389.6" font-size="13.6" fill="#111" stroke="#111" stroke-width="0.3" text-anchor="middle">M</text>
<circle cx="740.4" cy="384.7" r="15.9" fill="#3a4cff" opacity="0.85" filter="url(#blur2)"/>
<circle cx="740.4" cy="384.7" r="12.9" fill="#f5819c" stroke="#000" stroke-width="1.3"/>
<text x="740.4" y="389.6" font-size="13.6" fill="#fff" stroke="#fff" stroke-width="0.3" text-anchor="middle">P</text>
<text x="626.3" y="389.6" font-size="9.7" fill="#222" stroke="#222" stroke-width="0.3" text-anchor="middle">Ignore</text>
<text x="626.3" y="401.4" font-size="9.7" fill="#222" stroke="#222" stroke-width="0.3" text-anchor="middle">(20.0%)</text>
<g transform="rotate(-14 704 411.2)">
<text x="704" y="405.5" font-size="9.7" fill="#222" stroke="#222" stroke-width="0.3" text-anchor="middle">Retrieval</text>
<text x="704" y="417" font-size="9.7" fill="#222" stroke="#222" stroke-width="0.3" text-anchor="middle">(80.0%)</text>
</g>
<rect x="836.2" y="86.3" width="16.2" height="105.3" fill="#fff" stroke="#a8a8a8" stroke-width="1.7"/>
<rect x="858.4" y="181.7" width="16.2" height="9.9" fill="#fff" stroke="#b8b8b8" stroke-width="1.7"/>
<rect x="885.4" y="151.6" width="16.7" height="40" fill="#fff" stroke="#d64555" stroke-width="1.7"/>
<rect x="907.4" y="116" width="16.4" height="75.6" fill="#fff" stroke="#d64555" stroke-width="1.7"/>
<clipPath id="cl191"><rect x="820" y="51.6" width="120" height="140.3"/></clipPath><g clip-path="url(#cl191)">
<g fill="#c6c6c6" stroke="#2a2a2a" stroke-width="1"><circle cx="839.7" cy="76.6" r="2.9"/><circle cx="844.6" cy="76.6" r="2.9"/><circle cx="846.5" cy="86.5" r="2.9"/><circle cx="849" cy="87.6" r="2.9"/><circle cx="844.2" cy="91" r="2.9"/><circle cx="842.4" cy="95.4" r="2.9"/><circle cx="840.5" cy="99.6" r="2.9"/></g>
<g fill="#c6c6c6" stroke="#2a2a2a" stroke-width="1"><circle cx="863.3" cy="168.6" r="2.9"/><circle cx="867.2" cy="173.3" r="2.9"/><circle cx="868.5" cy="177.3" r="2.9"/><circle cx="864.6" cy="181.7" r="2.9"/><circle cx="862.5" cy="191.1" r="2.9"/><circle cx="868.5" cy="191.1" r="2.9"/></g>
<g fill="#c96a6e" stroke="#2a2a2a" stroke-width="1"><circle cx="892" cy="134.1" r="2.9"/><circle cx="893.9" cy="142.5" r="2.9"/><circle cx="890.7" cy="146.7" r="2.9"/><circle cx="893.3" cy="148.5" r="2.9"/><circle cx="892" cy="152.9" r="2.9"/><circle cx="893.9" cy="162.4" r="2.9"/><circle cx="895.2" cy="177.3" r="2.9"/></g>
<g fill="#c96a6e" stroke="#2a2a2a" stroke-width="1"><circle cx="911.1" cy="91" r="2.9"/><circle cx="918.7" cy="105.4" r="2.9"/><circle cx="912.4" cy="115.8" r="2.9"/><circle cx="916.9" cy="119.7" r="2.9"/><circle cx="914.8" cy="123.7" r="2.9"/><circle cx="914.2" cy="126.3" r="2.9"/><circle cx="913.7" cy="133.6" r="2.9"/></g>
</g>
<line x1="844.2" y1="82.4" x2="844.2" y2="86.3" stroke="#111" stroke-width="1.2"/>
<line x1="840" y1="82.4" x2="848.5" y2="82.4" stroke="#111" stroke-width="1.2"/>
<line x1="866.4" y1="177.3" x2="866.4" y2="181.7" stroke="#111" stroke-width="1.2"/>
<line x1="862.1" y1="177.3" x2="870.6" y2="177.3" stroke="#111" stroke-width="1.2"/>
<line x1="893.6" y1="146.7" x2="893.6" y2="151.6" stroke="#111" stroke-width="1.2"/>
<line x1="889.4" y1="146.7" x2="897.9" y2="146.7" stroke="#111" stroke-width="1.2"/>
<line x1="915.6" y1="111.1" x2="915.6" y2="116" stroke="#111" stroke-width="1.2"/>
<line x1="911.4" y1="111.1" x2="919.9" y2="111.1" stroke="#111" stroke-width="1.2"/>
<line x1="822.2" y1="64.8" x2="822.2" y2="191.6" stroke="#222" stroke-width="1.3"/>
<line x1="817.5" y1="191.6" x2="932" y2="191.6" stroke="#222" stroke-width="1.3"/>
<line x1="817.5" y1="76.6" x2="822.2" y2="76.6" stroke="#222" stroke-width="1.3"/>
<text x="813" y="81.4" font-size="13.7" fill="#1a1a1a" stroke="#1a1a1a" stroke-width="0.3" text-anchor="end">1.0</text>
<line x1="817.5" y1="134.1" x2="822.2" y2="134.1" stroke="#222" stroke-width="1.3"/>
<text x="813" y="138.9" font-size="13.7" fill="#1a1a1a" stroke="#1a1a1a" stroke-width="0.3" text-anchor="end">0.5</text>
<line x1="817.5" y1="191.6" x2="822.2" y2="191.6" stroke="#222" stroke-width="1.3"/>
<text x="813" y="196.4" font-size="13.7" fill="#1a1a1a" stroke="#1a1a1a" stroke-width="0.3" text-anchor="end">0</text>
<line x1="844.3" y1="191.6" x2="844.3" y2="196.4" stroke="#222" stroke-width="1.2"/>
<text x="846.3" y="210.7" font-size="13.7" fill="#1a1a1a" stroke="#1a1a1a" stroke-width="0.3" text-anchor="middle">R</text>
<line x1="866.4" y1="191.6" x2="866.4" y2="196.4" stroke="#222" stroke-width="1.2"/>
<text x="867.2" y="210.7" font-size="13.7" fill="#1a1a1a" stroke="#1a1a1a" stroke-width="0.3" text-anchor="middle">I</text>
<line x1="893.8" y1="191.6" x2="893.8" y2="196.4" stroke="#222" stroke-width="1.2"/>
<text x="895.8" y="210.7" font-size="13.7" fill="#1a1a1a" stroke="#1a1a1a" stroke-width="0.3" text-anchor="middle">R</text>
<line x1="915.7" y1="191.6" x2="915.7" y2="196.4" stroke="#222" stroke-width="1.2"/>
<text x="916.5" y="210.7" font-size="13.7" fill="#1a1a1a" stroke="#1a1a1a" stroke-width="0.3" text-anchor="middle">I</text>
<line x1="837.6" y1="216.2" x2="875.8" y2="216.2" stroke="#333" stroke-width="1.3"/>
<line x1="886.3" y1="216.2" x2="924.7" y2="216.2" stroke="#333" stroke-width="1.3"/>
<text x="855.7" y="232.7" font-size="13.7" fill="#1a1a1a" stroke="#1a1a1a" stroke-width="0.3" text-anchor="middle">Off</text>
<text x="904.7" y="232.7" font-size="13.7" fill="#1a1a1a" stroke="#1a1a1a" stroke-width="0.3" text-anchor="middle">On</text>
<text x="782.6" y="140.1" font-size="13.3" fill="#1a1a1a" stroke="#1a1a1a" stroke-width="0.3" text-anchor="middle" transform="rotate(-90 782.6 140.1)">Behavior prob.</text>
<path d="M843.1,63.6 V59.6 H894.6 V63.6" fill="none" stroke="#444" stroke-width="1.1"/>
<text x="869.8" y="61.2" font-size="13.6" fill="#555" stroke="#555" stroke-width="0.3" text-anchor="middle">**</text>
<rect x="941" y="65.5" width="45" height="45" fill="#000" opacity="0.22" filter="url(#blur3)"/>
<rect x="940.7" y="64.2" width="44.6" height="44.6" fill="#fff" stroke="#dcdcdc" stroke-width="1.6"/>
<g fill="none" stroke="#666" stroke-width="1.5"><path d="M950.3,78.6 V73.9 H955"/><path d="M971.4,73.9 H976.1 V78.6"/><path d="M950.3,94.6 V99.3 H955"/><path d="M971.4,99.3 H976.1 V94.6"/></g>
<rect x="954.2" y="77.9" width="18" height="17.6" fill="#fff" stroke="#666" stroke-width="1.8"/>
<rect x="955.1" y="78.9" width="16.2" height="2.3" fill="#ff8a80"/>
<g stroke="#666" stroke-width="1.6"><line x1="954.2" y1="83.4" x2="972.2" y2="83.4"/><line x1="954.2" y1="89.6" x2="972.2" y2="89.6"/><line x1="960.2" y1="83.4" x2="960.2" y2="95.5"/><line x1="966.2" y1="83.4" x2="966.2" y2="95.5"/></g>
<rect x="836.7" y="383.3" width="15.7" height="47" fill="#fff" stroke="#9a9a9a" stroke-width="1.7"/>
<rect x="858.4" y="361.6" width="16.2" height="68.7" fill="#fff" stroke="#9a9a9a" stroke-width="1.7"/>
<rect x="885.9" y="336.7" width="16.2" height="93.6" fill="#fff" stroke="#3030ff" stroke-width="1.7"/>
<rect x="907.6" y="408.1" width="16.2" height="22.2" fill="#fff" stroke="#3030ff" stroke-width="1.7"/>
<clipPath id="cl430"><rect x="820" y="290.3" width="120" height="140.3"/></clipPath><g clip-path="url(#cl430)">
<g fill="#bdbdbd" stroke="#2a2a2a" stroke-width="1"><circle cx="839.7" cy="357.9" r="2.9"/><circle cx="843.1" cy="372.8" r="2.9"/><circle cx="841" cy="379.3" r="2.9"/><circle cx="846.3" cy="387.7" r="2.9"/><circle cx="840.5" cy="391.1" r="2.9"/><circle cx="843.1" cy="395.6" r="2.9"/><circle cx="845" cy="401.6" r="2.9"/></g>
<g fill="#bdbdbd" stroke="#2a2a2a" stroke-width="1"><circle cx="868.5" cy="344.1" r="2.9"/><circle cx="869.8" cy="349.8" r="2.9"/><circle cx="863.3" cy="353.7" r="2.9"/><circle cx="864.6" cy="358.4" r="2.9"/><circle cx="869.8" cy="365" r="2.9"/><circle cx="866.7" cy="372" r="2.9"/><circle cx="862" cy="387.2" r="2.9"/></g>
<g fill="#a9b8e6" stroke="#2a2a2a" stroke-width="1"><circle cx="895.4" cy="315.3" r="2.9"/><circle cx="891.5" cy="329.7" r="2.9"/><circle cx="893.9" cy="329.7" r="2.9"/><circle cx="894.6" cy="338.8" r="2.9"/><circle cx="894.6" cy="341.4" r="2.9"/><circle cx="893.9" cy="344.1" r="2.9"/><circle cx="892.8" cy="361" r="2.9"/></g>
<g fill="#a9b8e6" stroke="#2a2a2a" stroke-width="1"><circle cx="913.7" cy="384.6" r="2.9"/><circle cx="914.2" cy="401.6" r="2.9"/><circle cx="918.7" cy="406" r="2.9"/><circle cx="916.9" cy="407.3" r="2.9"/><circle cx="912.9" cy="415.9" r="2.9"/><circle cx="915.6" cy="415.9" r="2.9"/><circle cx="911.6" cy="429.8" r="2.9"/></g>
</g>
<line x1="844.2" y1="378" x2="844.2" y2="383.3" stroke="#111" stroke-width="1.2"/>
<line x1="840" y1="378" x2="848.5" y2="378" stroke="#111" stroke-width="1.2"/>
<line x1="866.4" y1="356.3" x2="866.4" y2="361.6" stroke="#111" stroke-width="1.2"/>
<line x1="862.1" y1="356.3" x2="870.6" y2="356.3" stroke="#111" stroke-width="1.2"/>
<line x1="893.6" y1="331.5" x2="893.6" y2="336.7" stroke="#111" stroke-width="1.2"/>
<line x1="889.4" y1="331.5" x2="897.9" y2="331.5" stroke="#111" stroke-width="1.2"/>
<line x1="915.6" y1="402.9" x2="915.6" y2="408.1" stroke="#111" stroke-width="1.2"/>
<line x1="911.4" y1="402.9" x2="919.9" y2="402.9" stroke="#111" stroke-width="1.2"/>
<line x1="822.2" y1="303.5" x2="822.2" y2="430.3" stroke="#222" stroke-width="1.3"/>
<line x1="817.5" y1="430.3" x2="932" y2="430.3" stroke="#222" stroke-width="1.3"/>
<line x1="817.5" y1="315.3" x2="822.2" y2="315.3" stroke="#222" stroke-width="1.3"/>
<text x="813" y="320.1" font-size="13.7" fill="#1a1a1a" stroke="#1a1a1a" stroke-width="0.3" text-anchor="end">1.0</text>
<line x1="817.5" y1="372.8" x2="822.2" y2="372.8" stroke="#222" stroke-width="1.3"/>
<text x="813" y="377.6" font-size="13.7" fill="#1a1a1a" stroke="#1a1a1a" stroke-width="0.3" text-anchor="end">0.5</text>
<line x1="817.5" y1="430.3" x2="822.2" y2="430.3" stroke="#222" stroke-width="1.3"/>
<text x="813" y="435.1" font-size="13.7" fill="#1a1a1a" stroke="#1a1a1a" stroke-width="0.3" text-anchor="end">0</text>
<line x1="844.3" y1="430.3" x2="844.3" y2="435.1" stroke="#222" stroke-width="1.2"/>
<text x="846.3" y="450.1" font-size="13.7" fill="#1a1a1a" stroke="#1a1a1a" stroke-width="0.3" text-anchor="middle">R</text>
<line x1="866.4" y1="430.3" x2="866.4" y2="435.1" stroke="#222" stroke-width="1.2"/>
<text x="867.2" y="450.1" font-size="13.7" fill="#1a1a1a" stroke="#1a1a1a" stroke-width="0.3" text-anchor="middle">I</text>
<line x1="893.8" y1="430.3" x2="893.8" y2="435.1" stroke="#222" stroke-width="1.2"/>
<text x="895.8" y="450.1" font-size="13.7" fill="#1a1a1a" stroke="#1a1a1a" stroke-width="0.3" text-anchor="middle">R</text>
<line x1="915.7" y1="430.3" x2="915.7" y2="435.1" stroke="#222" stroke-width="1.2"/>
<text x="916.5" y="450.1" font-size="13.7" fill="#1a1a1a" stroke="#1a1a1a" stroke-width="0.3" text-anchor="middle">I</text>
<line x1="837.6" y1="454.9" x2="875.8" y2="454.9" stroke="#333" stroke-width="1.3"/>
<line x1="886.3" y1="454.9" x2="924.7" y2="454.9" stroke="#333" stroke-width="1.3"/>
<text x="855.7" y="471.3" font-size="13.7" fill="#1a1a1a" stroke="#1a1a1a" stroke-width="0.3" text-anchor="middle">Off</text>
<text x="904.7" y="471.3" font-size="13.7" fill="#1a1a1a" stroke="#1a1a1a" stroke-width="0.3" text-anchor="middle">On</text>
<text x="782.6" y="378.8" font-size="13.3" fill="#1a1a1a" stroke="#1a1a1a" stroke-width="0.3" text-anchor="middle" transform="rotate(-90 782.6 378.8)">Behavior prob.</text>
<path d="M841.8,303.1 V299.1 H893.3 V303.1" fill="none" stroke="#444" stroke-width="1.1"/>
<text x="867.7" y="300.7" font-size="13.6" fill="#555" stroke="#555" stroke-width="0.3" text-anchor="middle">**</text>
<path d="M134.4,385 C136,372 140,364.5 146,363.2 C151,362.5 157,364.5 161.9,366.8 C168,370 173,374.5 176.5,378.7 C180.5,383.5 183.5,388.5 184.7,393.3 C185.7,397 186,400 185.7,402.5 C185.2,408 183,413 180.2,417.1 C177,421.5 172.5,425.5 167.4,428.1 C162,431 155,433.6 149,433.6 C144,433.6 138,431.5 134.4,430 Z" fill="#e0eff3" stroke="#7ea3c4" stroke-width="1"/>
<path d="M137.2,386 C139.5,382.5 142,381 145.4,380.5 C151,379.8 157,380.3 161.9,382.4 C167,385 170.5,390 172.8,395.2 C174.5,400 175,405 174.7,409.8" fill="none" stroke="#c6c6c6" stroke-width="1.2"/>
<path d="M139,387 L143.5,383.5 L149,384.5 C147,386.2 146.3,388 145.8,390 C145,393 144.5,396 144,399 L142.3,405 L141.4,399 C141.3,396 141.4,393.5 141.7,391 C141.2,389.4 140.3,388 139,387 Z" fill="#c9c5c5"/>
<path d="M134.4,409.5 L139.5,410.1 C142,410.6 143.8,411.3 145.5,412.1 L150,414.5 L144,413.8 L137.7,412.6 L134.4,412.4 Z" fill="#cfcbcb" stroke="#b4b0b0" stroke-width="0.4"/>
<path d="M98.2,327.5 C104,322.5 116,321.5 124,324 C132,327 139,333 143.5,340 C146.5,345 148.3,349 148.1,353.1 C148.1,358 147.3,362 146.2,365.6 C144.5,370.5 142.5,374 139.9,378.5 C137,383 133,386.5 128.9,389.7 C125,393.5 121,396.5 117.5,398 C115,399.2 113.5,399.7 112.5,399.7 C108,399.7 104.5,398.5 102.5,397.5 C100.3,396.3 98.8,394.5 98.2,392.5 Z" fill="#e0eff3" stroke="#7ea3c4" stroke-width="1"/>
<path d="M111,346.5 C116,344 125,345.5 127,351.5 C128.5,357.5 125,364 121,369.5 C119,367.5 117,365.5 114,365 C111.5,361 111,353 111,346.5 Z" fill="#e8e3e3" opacity="0.85"/>
<g stroke="#333" stroke-width="0.7" stroke-dasharray="1.8 1"><line x1="98.7" y1="342.5" x2="112.5" y2="346.7"/><line x1="98.2" y1="355.3" x2="103.3" y2="354.9"/><line x1="98.7" y1="365" x2="105.2" y2="365"/></g>
<path d="M105.1,361.3 C105,365.5 105.3,369.5 106,373.2 C107.2,379 109.7,384.5 112.5,389.7 C115,395 118,401 121.6,406.1 C125,410.5 128.5,413.8 132.6,416.2 C135,417.8 137.5,419 139.9,419.9" fill="none" stroke="#2faa5a" stroke-width="1.3"/>
<ellipse cx="139.6" cy="425.7" rx="3.4" ry="2.4" fill="#777"/>
<line x1="158.4" y1="342" x2="143.8" y2="414" stroke="#777" stroke-width="2.2"/>
<g transform="rotate(12 154.2 364.1)"><path d="M143.7,367.3 L143.7,365.3 C144.2,361.7 148.2,360.7 154.2,360.7 C160.2,360.7 164.2,361.7 164.7,365.3 L164.7,367.3 Z" fill="#7d7d7d"/></g>
<rect x="150.7" y="319.4" width="22" height="22" rx="4" fill="#1a3ce0" filter="url(#blur2)"/>
<rect x="153.2" y="321.9" width="17" height="17" rx="3" fill="#1a3ce0"/>
<g stroke="#fff" stroke-width="0.9" stroke-linecap="round" opacity="0.95"><line x1="161.7" y1="330.4" x2="171" y2="332.3"/><line x1="161.7" y1="330.4" x2="167.1" y2="334"/><line x1="161.7" y1="330.4" x2="166.9" y2="338.3"/><line x1="161.7" y1="330.4" x2="162.9" y2="336.8"/><line x1="161.7" y1="330.4" x2="159.8" y2="339.7"/><line x1="161.7" y1="330.4" x2="158.1" y2="335.8"/><line x1="161.7" y1="330.4" x2="153.8" y2="335.6"/><line x1="161.7" y1="330.4" x2="155.3" y2="331.6"/><line x1="161.7" y1="330.4" x2="152.4" y2="328.5"/><line x1="161.7" y1="330.4" x2="156.3" y2="326.8"/><line x1="161.7" y1="330.4" x2="156.5" y2="322.5"/><line x1="161.7" y1="330.4" x2="160.5" y2="324"/><line x1="161.7" y1="330.4" x2="163.6" y2="321.1"/><line x1="161.7" y1="330.4" x2="165.3" y2="325"/><line x1="161.7" y1="330.4" x2="169.6" y2="325.2"/><line x1="161.7" y1="330.4" x2="168.1" y2="329.2"/></g>
<circle cx="161.7" cy="330.4" r="3.6" fill="#fff" filter="url(#blur1)"/>
<circle cx="161.7" cy="330.4" r="2.6" fill="#fff"/>
<path d="M143.6,412.2 L137.6,425 L149.6,425 Z" fill="#3048f0" opacity="0.55" filter="url(#blur1)"/>
<path d="M143.6,412.6 L139.3,423.6 C142,422.4 145.2,422.4 148,423.6 Z" fill="#1c30e6"/>
<ellipse cx="107.4" cy="355.3" rx="3.8" ry="5.6" fill="#1fa851"/>
<g transform="translate(107.8 305.5) rotate(90)">
<line x1="-4" y1="0" x2="0" y2="0" stroke="#222" stroke-width="1"/>
<line x1="-4" y1="-3" x2="-4" y2="3" stroke="#222" stroke-width="1.4"/>
<line x1="0" y1="-4" x2="0" y2="4" stroke="#222" stroke-width="1.4"/>
<rect x="0" y="-2.3" width="28.4" height="4.6" fill="#d8d8d8" stroke="#333" stroke-width="0.9"/>
<line x1="1" y1="0" x2="13.6" y2="0" stroke="#555" stroke-width="0.8"/>
<rect x="13.6" y="-2.3" width="14.8" height="4.6" fill="#16a34a" stroke="#222" stroke-width="0.9"/>
<line x1="28.4" y1="0" x2="45" y2="0" stroke="#222" stroke-width="1"/>
</g>
<g transform="translate(93.2 393.3) rotate(30.2)">
<line x1="-5" y1="0" x2="0" y2="0" stroke="#222" stroke-width="1"/>
<line x1="-5" y1="-3" x2="-5" y2="3" stroke="#222" stroke-width="1.4"/>
<line x1="0" y1="-4" x2="0" y2="4" stroke="#222" stroke-width="1.4"/>
<rect x="0" y="-2.2" width="32.8" height="4.4" fill="#d8d8d8" stroke="#333" stroke-width="0.9"/>
<line x1="1" y1="0" x2="18.1" y2="0" stroke="#555" stroke-width="0.8"/>
<rect x="18.1" y="-2.2" width="14.8" height="4.4" fill="#3a3a3a" stroke="#222" stroke-width="0.9"/>
<line x1="32.8" y1="0" x2="53.7" y2="0" stroke="#222" stroke-width="1"/>
</g>
<text x="84.5" y="291.4" font-size="13.7" fill="#1faa59" stroke="#1faa59" stroke-width="0.3" text-anchor="start">DIO-ChR2</text>
<text x="93" y="360.5" font-size="13.6" fill="#1a1a1a" stroke="#1a1a1a" stroke-width="0.3" text-anchor="middle" transform="rotate(-90 93 360.5)">mPFC</text>
<text x="111.5" y="358.8" font-size="11.1" fill="#1a1a1a" stroke="#1a1a1a" stroke-width="0.3" text-anchor="start">fmi</text>
<text x="50.4" y="426" font-size="13.7" fill="#1a1a1a" stroke="#1a1a1a" stroke-width="0.3" text-anchor="start">AAV11-Cre</text>
<text x="135.6" y="446.6" font-size="13.7" fill="#1a1a1a" stroke="#1a1a1a" stroke-width="0.3" text-anchor="start">MPOA</text>
<line x1="76.5" y1="453.2" x2="189.7" y2="453.2" stroke="#333" stroke-width="1.1"/>
<text x="77" y="470" font-size="13.7" fill="#1a1a1a" stroke="#1a1a1a" stroke-width="0.3" text-anchor="start">WT</text>
<text x="189.7" y="470" font-size="13.7" fill="#1a1a1a" stroke="#1a1a1a" stroke-width="0.3" text-anchor="end">EV</text>
<mask id="mCyanD"><rect x="220" y="272" width="106" height="100" fill="#000"/><path d="M295,298 C288,312 285.5,328 286.5,352" fill="none" stroke="#fff" stroke-width="11" filter="url(#blur3)"/><path d="M291,310 C287.5,318 286,326 286.5,338" fill="none" stroke="#fff" stroke-width="6" filter="url(#blur2)"/></mask>
<g clip-path="url(#clipD1)">
<rect x="224" y="275" width="98" height="95" fill="#091894"/>
<rect x="220" y="270" width="30" height="30" fill="#050e70" opacity="0.7" filter="url(#blur5)"/>
<rect x="221" y="300" width="7" height="70" fill="#050e70" opacity="0.6" filter="url(#blur2)"/>
<ellipse cx="250" cy="330" rx="20" ry="34" fill="#0c22b4" opacity="0.6" filter="url(#blur5)"/>
<path d="M318,281 C304,300 293,322 291,342 L289.5,372 L326,372 L326,270 Z" fill="#06107a" opacity="0.75" filter="url(#blur2)"/>
<path d="M296,290 C285,308 281,328 283,358" fill="none" stroke="#1860e4" stroke-width="24" opacity="0.65" filter="url(#blur5)"/>
<path d="M293,300 C287,314 284.5,328 285.5,348" fill="none" stroke="#22b0f0" stroke-width="10" opacity="0.75" filter="url(#blur3)"/>
<path d="M290.5,311 C287.5,318 286.3,325 286.6,334" fill="none" stroke="#60f0ff" stroke-width="3.5" opacity="0.75" filter="url(#blur2)"/>
<g mask="url(#mCyanD)"><rect x="224" y="275" width="98" height="95" filter="url(#noisecy)"/></g>
<rect x="224" y="275" width="98" height="95" filter="url(#noised)" opacity="0.55"/>
<g fill="#02052c"><ellipse cx="311.4" cy="328.4" rx="5" ry="1.9" transform="rotate(14 311.4 328.4)"/><ellipse cx="308" cy="364.6" rx="2.6" ry="2.2"/><ellipse cx="292.9" cy="306.8" rx="2.4" ry="0.9" transform="rotate(-35 292.9 306.8)"/><ellipse cx="228.3" cy="311.2" rx="1.8" ry="2.2"/><ellipse cx="229.5" cy="330" rx="1.1" ry="1.5"/><ellipse cx="230" cy="341" rx="1" ry="1.4"/><ellipse cx="229.5" cy="352" rx="1" ry="1.3"/><ellipse cx="299.5" cy="295.5" rx="1" ry="0.8"/></g>
<path d="M299,275.8 C293,283 284,294 279.5,307 C276,317 275.7,326 275.7,336 L275.7,365" fill="none" stroke="#fff" stroke-width="1.1" stroke-dasharray="3.6 2.4"/>
<path d="M316.9,282.4 C309,294 300,310 295,323 C290.5,335 289.4,346 289.3,356 L289.2,369" fill="none" stroke="#fff" stroke-width="1.2"/>
<line x1="227.3" y1="364.4" x2="238.6" y2="364.4" stroke="#fff" stroke-width="1.4"/>
</g>
<text x="248.9" y="332.5" font-size="13.2" fill="#f0f0ff" stroke="#f0f0ff" stroke-width="0.3" text-anchor="start">L6</text>
<text x="296" y="348.6" font-size="13" fill="#f0f0ff" stroke="#f0f0ff" stroke-width="0.3" text-anchor="start">fmi</text>
<mask id="mCyanD2"><rect x="220" y="376" width="106" height="98" fill="#000"/><ellipse cx="243" cy="447" rx="15" ry="15" fill="#fff" filter="url(#blur5)"/><ellipse cx="297" cy="440" rx="14" ry="12" fill="#ccc" filter="url(#blur5)"/></mask>
<g clip-path="url(#clipD2)">
<rect x="222" y="379" width="101" height="92" fill="#0c2cc0"/>
<rect x="222" y="379" width="101" height="44" fill="#091e9c"/>
<rect x="222" y="423" width="101" height="48" fill="#124ecc"/>
<ellipse cx="233" cy="404" rx="7" ry="16" fill="#1648d4" opacity="0.65" filter="url(#blur3)"/>
<ellipse cx="315" cy="398" rx="7" ry="14" fill="#1648d4" opacity="0.65" filter="url(#blur3)"/>
<ellipse cx="273" cy="405" rx="14" ry="20" fill="#0c20a8" opacity="0.8" filter="url(#blur3)"/>
<rect x="294.5" y="377" width="8" height="27" fill="#020836" opacity="0.9" filter="url(#blur2)"/>
<path d="M222,421 C240,428 258,428 270,431 C283,428 303,426 323,418" fill="none" stroke="#0c30bc" stroke-width="5" opacity="0.8" filter="url(#blur2)"/>
<ellipse cx="243" cy="446" rx="19" ry="19" fill="#2aa4e2" opacity="0.5" filter="url(#blur5)"/>
<ellipse cx="299" cy="443" rx="19" ry="17" fill="#2898e0" opacity="0.45" filter="url(#blur5)"/>
<rect x="222" y="379" width="101" height="92" filter="url(#noisec)" opacity="0.3"/>
<g mask="url(#mCyanD2)" opacity="0.6"><rect x="222" y="379" width="101" height="92" filter="url(#noisecy)"/></g>
<path d="M269.6,431 C270,429.5 271,429.5 271.3,431 C272,440 273.5,449 276,456 C277.5,462 279,467 281,471 L254,471 C259,468 262.5,463 264.5,456 C267,449 268.8,440 269.6,431 Z" fill="#02040f"/>
<path d="M265.5,424 C267.5,426.5 269,428.5 270,431.5 M274.5,424.5 C273,427 272,429 271,431.5" fill="none" stroke="#02040f" stroke-width="1.5"/>
<path d="M235,379 L259.3,379 L259.3,427 C258.5,431 257.5,434 256.5,437.3 L244.2,437.3 C243.8,433 243.5,429 243.2,425 C241.5,409 238.5,394 235,379 Z" fill="#02020a"/>
<path d="M317.5,426 C312,436 306,445 299.5,452.5" fill="none" stroke="#0a1aa8" stroke-width="1.3"/>
<path d="M240,449.5 C241.5,447.8 244,448.5 244.8,451.5" fill="none" stroke="#02040f" stroke-width="1.8"/>
<g fill="none" stroke="#fff" stroke-width="1.15" stroke-dasharray="3.6 2.4"><path d="M244.1,380.5 V437 H255.2 V380.5"/><path d="M288.2,380.5 V436.4 H299.1 V380.5"/></g>
<g fill="none" stroke="#e8eeff" stroke-width="1.05" stroke-dasharray="3.4 2.4"><ellipse cx="243.1" cy="444" rx="17" ry="20"/><ellipse cx="300" cy="445.4" rx="17.5" ry="20"/></g>
<line x1="227.2" y1="466.6" x2="232.3" y2="466.6" stroke="#fff" stroke-width="1.2"/>
</g>
<text x="258.6" y="398.3" font-size="11.3" fill="#f0f0ff" stroke="#f0f0ff" stroke-width="0.3" text-anchor="start">Fiber</text>
<text x="259.6" y="411.8" font-size="11.3" fill="#f0f0ff" stroke="#f0f0ff" stroke-width="0.3" text-anchor="start">track</text>
<text x="249" y="467.6" font-size="13.2" fill="#f0f0ff" stroke="#f0f0ff" stroke-width="0.3" text-anchor="start">MPOA</text>
<path d="M117,650 C117.5,641 119,636 121.7,635.3 C125,634 129,633.5 133.5,633.7 C139,634 144.5,635.5 149.2,637.7 C154.5,640.3 159.5,644.5 163.3,648.7 C167.5,653 170.8,658 172.7,662.8 C174.3,666.5 175.1,670 175.1,673.8 C175.1,679.5 173.5,685 171.2,689.5 C169,694.5 165.5,698.8 161.7,702 C157.5,705 152.5,707 147.6,707.5 C141.5,708.2 135.5,707.5 130.3,706.7 C125.5,706 120.5,704.8 117,703.6 Z" fill="#e0eff3" stroke="#7ea3c4" stroke-width="1"/>
<path d="M124.1,653.4 C125.8,650.5 127.8,649.2 130.3,648.7 C134.5,648.3 139,649.5 142.9,651.8 C147,654.3 151,658.3 153.9,662.8 C156.8,666.8 159,671 160.2,675.3 C160.8,678.5 160,682 158.6,684.8" fill="none" stroke="#c6c6c6" stroke-width="1.3"/>
<path d="M124.1,654.9 L130.3,652.6 L138.2,654.2 C136,656.5 134.5,658.7 133.5,661.2 C132,664.5 131,667.5 130.3,670.6 L128,678.5 L125.9,670.6 C125.8,667.5 126,664.5 126.4,661.2 C126,658.8 125.2,656.6 124.1,654.9 Z" fill="#c9c5c5"/>
<path d="M117,681.6 L122,682 C125,682.6 127,683.6 129,684.8 L133.5,687.9 L127,686.8 L120.5,685.2 L117,685 Z" fill="#cfcbcb" stroke="#b4b0b0" stroke-width="0.4"/>
<path d="M65.7,617.3 C71,613 77,611.5 83.3,611.8 C89.5,612 95.5,613.2 100.5,615.7 C106,618.3 111,622.3 114.6,626.7 C118,630.7 120.5,635 121.7,639.2 C122.8,642.5 123.3,645.5 123.3,648.7 C123.3,653.5 122.3,658.5 120.9,662.8 C119,668.5 116.3,673.8 113.1,678.5 C110,683 106.3,687.3 102.1,691 C98.3,694.3 94,696.5 89.5,698.1 C85.8,699.5 82,700.5 78.5,700.5 C75,700.5 71.5,698.5 69.1,696.5 C67,695 66,694 65.7,692.6 Z" fill="#e0eff3" stroke="#7ea3c4" stroke-width="1"/>
<path d="M81.5,641 C86,638.5 97,639.5 100,645.5 C102,651.5 99,658 96.5,662 C95,665 93,669 89.5,672 C87.5,668 86.5,664.5 83.5,662.5 C81.5,657 81,648 81.5,641 Z" fill="#e8e4e4" opacity="0.85"/>
<line x1="65.7" y1="637.7" x2="81.7" y2="643.2" stroke="#444" stroke-width="0.7" stroke-dasharray="2 1.2"/>
<line x1="65.7" y1="653.3" x2="67.5" y2="653.3" stroke="#555" stroke-width="0.8"/>
<line x1="65.7" y1="662.8" x2="75.4" y2="662.8" stroke="#666" stroke-width="1.3"/>
<rect x="72.5" y="603" width="5.7" height="45" fill="#e6e6e8"/>
<rect x="76.6" y="603" width="1.6" height="45" fill="#d6d6d8"/>
<path d="M72.5,647 L78.1,647 L79.8,653.9 L70.9,653.9 Z" fill="#8a8cf2"/>
<path d="M71.7,650.4 L79,650.4 L79.8,653.9 L70.9,653.9 Z" fill="#1f7f96"/>
<path d="M70.9,653.9 L79.8,653.9 C79.8,658.5 77.8,661.2 75.4,661.2 C72.9,661.2 70.9,658.5 70.9,653.9 Z" fill="#12b04e"/>
<path d="M75.4,661.2 C76.3,665.5 77.8,669 80.1,672.2 C82.8,676.3 85.8,680 89.5,683.2 C93.3,686.3 97.5,688.7 102.1,690.3 C107,692 112.5,693.3 118.5,694.3" fill="none" stroke="#2faa5a" stroke-width="1.3"/>
<path d="M121,692.3 L117.8,694.2 L120.3,698.3" fill="none" stroke="#2faa5a" stroke-width="1.1"/>
<ellipse cx="123.3" cy="695.7" rx="3.4" ry="5" fill="#787878"/>
<g transform="translate(157 636.9) rotate(119)">
<line x1="-5" y1="0" x2="0" y2="0" stroke="#222" stroke-width="1"/>
<line x1="-5" y1="-3" x2="-5" y2="3" stroke="#222" stroke-width="1.4"/>
<line x1="0" y1="-4" x2="0" y2="4" stroke="#222" stroke-width="1.4"/>
<rect x="0" y="-2.4" width="34.1" height="4.8" fill="#d8d8d8" stroke="#333" stroke-width="0.9"/>
<line x1="1" y1="0" x2="18.1" y2="0" stroke="#555" stroke-width="0.8"/>
<rect x="18.1" y="-2.4" width="16" height="4.8" fill="#6e6e6e" stroke="#222" stroke-width="0.9"/>
<line x1="34.1" y1="0" x2="63.6" y2="0" stroke="#222" stroke-width="1"/>
</g>
<ellipse cx="59.6" cy="587.4" rx="3.6" ry="8.6" fill="#f4f4f4" stroke="#555" stroke-width="1.9"/>
<ellipse cx="90.6" cy="584.7" rx="2.9" ry="8.1" fill="#777" stroke="#4a4a4a" stroke-width="1.7"/>
<path d="M66.7,571 L66.7,566 L68.5,564.9 L86,564.9 L86,571 Z" fill="#3a3a3c"/>
<path d="M62.5,575.5 L66.5,570 L88.7,570 L88.7,592.5 L86.6,599.4 L65.7,599.4 L62.5,594.5 Z" fill="#38383a"/>
<path d="M62.5,575.5 L66.5,570 L88.7,570 L82.6,575.5 Z" fill="#454547"/>
<path d="M82.6,575.5 L88.7,570 L88.7,592.5 L86.6,599.4 L82.6,599.4 Z" fill="#2c2c2e"/>
<rect x="64.6" y="599.4" width="22" height="4.2" fill="#dddddd"/>
<path d="M83.5,599.4 L86.6,599.4 L86.6,602 L83.5,603.6 Z" fill="#8a8a8a"/>
<path d="M67.3,579.3 C74,577 77,572 78.2,565.9 C80,556 87,551 93.9,552.8" fill="none" stroke="#a2a2a2" stroke-width="1"/>
<circle cx="67.3" cy="579.3" r="1.5" fill="#e4e4e4"/>
<text x="113.8" y="595" font-size="13.5" fill="#1a1a1a" stroke="#1a1a1a" stroke-width="0.3" text-anchor="start">AAV11-DIO</text>
<text x="113.8" y="610.9" font-size="13.5" fill="#1a1a1a" stroke="#1a1a1a" stroke-width="0.3" text-anchor="start">-</text>
<text x="118.3" y="610.9" font-size="13.5" fill="#1faa59" stroke="#1faa59" stroke-width="0.3" text-anchor="start">GCaMP8f</text>
<text x="60.8" y="651" font-size="12.5" fill="#1a1a1a" stroke="#1a1a1a" stroke-width="0.3" text-anchor="middle" transform="rotate(-90 60.8 651)">mPFC</text>
<text x="82.2" y="654.3" font-size="10.8" fill="#1a1a1a" stroke="#1a1a1a" stroke-width="0.3" text-anchor="start">fmi</text>
<text x="139" y="696" font-size="13.5" fill="#1a1a1a" stroke="#1a1a1a" stroke-width="0.3" text-anchor="start">MPOA</text>
<line x1="57.5" y1="720.7" x2="183.3" y2="720.7" stroke="#4a4a4a" stroke-width="1.8"/>
<text x="60.8" y="740.5" font-size="13.5" fill="#1a1a1a" stroke="#1a1a1a" stroke-width="0.3" text-anchor="start">D1-Cre</text>
<text x="154.1" y="740.5" font-size="13.5" fill="#1a1a1a" stroke="#1a1a1a" stroke-width="0.3" text-anchor="start">Dam</text>
<path d="M286.2,594.6 L286.2,541.6 A53,53 0 0 1 289.9,647.5 Z" fill="#4a96c9" stroke="#111" stroke-width="1" stroke-linejoin="round"/>
<path d="M286.2,594.6 L289.9,647.5 A53,53 0 0 1 250.2,633.5 Z" fill="#c0485e" stroke="#111" stroke-width="1" stroke-linejoin="round"/>
<path d="M286.2,594.6 L250.2,633.5 A53,53 0 0 1 286.2,541.6 Z" fill="#d6d6d6" stroke="#111" stroke-width="1" stroke-linejoin="round"/>
<text x="293.8" y="598.8" font-size="13.5" fill="#1a1a1a" stroke="#1a1a1a" stroke-width="0.3" text-anchor="start">48.9%</text>
<text x="239.6" y="592.2" font-size="13.5" fill="#1a1a1a" stroke="#1a1a1a" stroke-width="0.3" text-anchor="start">38.1%</text>
<clipPath id="clipPie"><circle cx="286.2" cy="594.6" r="52.4"/></clipPath>
<g clip-path="url(#clipPie)">
<text x="278" y="628.5" font-size="13.5" fill="#1a1a1a" stroke="#1a1a1a" stroke-width="0.3" text-anchor="middle" transform="rotate(-68 278 628.5)">13.0%</text>
</g>
<rect x="236.6" y="679.7" width="14.4" height="8.4" fill="#c0485e"/>
<text x="256.2" y="689.1" font-size="13.5" fill="#1a1a1a" stroke="#1a1a1a" stroke-width="0.3" text-anchor="start">Approaching</text>
<rect x="236.6" y="697.8" width="14.4" height="8.4" fill="#4a96c9"/>
<text x="255.8" y="707.2" font-size="13.5" fill="#1a1a1a" stroke="#1a1a1a" stroke-width="0.3" text-anchor="start">Retrieving</text>
<rect x="236.6" y="717.9" width="14.4" height="8.4" fill="#d6d6d6"/>
<text x="254.7" y="727.3" font-size="13.5" fill="#1a1a1a" stroke="#1a1a1a" stroke-width="0.3" text-anchor="start">Non-related</text>
<rect x="393.5" y="535" width="101.4" height="14.6" fill="#dee8d6"/>
<text x="444.2" y="546.4" font-size="11.8" fill="#1a1a1a" stroke="#1a1a1a" stroke-width="0.3" text-anchor="middle">Maternal defense</text>
<rect x="502" y="534.8" width="101.2" height="14.4" fill="#d9d9d9"/>
<text x="552.9" y="547" font-size="11.8" fill="#1a1a1a" stroke="#1a1a1a" stroke-width="0.3" text-anchor="middle">Normal retrieval</text>
<clipPath id="hm1"><rect x="393.5" y="549.5" width="101.4" height="191.5"/></clipPath>
<rect x="393.5" y="549.5" width="101.4" height="191.5" fill="#0010c0"/>
<g clip-path="url(#hm1)"><g filter="url(#blurh)" shape-rendering="crispEdges">
<path fill="#00007f" d="M407.8,584.3h1.9v4.7h-1.9zM398.3,614.8h5.1v4.7h-5.1zM395.1,662.7h3.5v4.7h-3.5zM458.5,693.1h6.6v4.7h-6.6zM472.7,693.1h5.1v4.7h-5.1z"/>
<path fill="#0000b2" d="M393.5,549.5h6.6v4.7h-6.6zM406.2,549.5h1.9v4.7h-1.9zM471.1,549.5h1.9v4.7h-1.9zM393.5,553.9h1.9v4.7h-1.9zM409.3,553.9h1.9v4.7h-1.9zM406.2,558.2h3.5v4.7h-3.5zM410.9,558.2h3.5v4.7h-3.5zM404.6,562.6h8.2v4.7h-8.2zM399.8,571.3h1.9v4.7h-1.9zM398.3,575.6h5.1v4.7h-5.1zM406.2,575.6h3.5v4.7h-3.5zM406.2,584.3h1.9v4.7h-1.9zM409.3,584.3h1.9v4.7h-1.9zM396.7,588.7h8.2v4.7h-8.2zM414.1,588.7h3.5v4.7h-3.5zM398.3,601.7h5.1v4.7h-5.1zM407.8,601.7h3.5v4.7h-3.5zM480.6,601.7h1.9v4.7h-1.9zM488.6,601.7h6.6v4.7h-6.6zM396.7,606.1h11.4v4.7h-11.4zM396.7,610.4h1.9v4.7h-1.9zM407.8,610.4h3.5v4.7h-3.5zM395.1,614.8h3.5v4.7h-3.5zM403,614.8h1.9v4.7h-1.9zM399.8,619.1h1.9v4.7h-1.9zM393.5,623.5h6.6v4.7h-6.6zM409.3,623.5h1.9v4.7h-1.9zM406.2,627.8h5.1v4.7h-5.1zM403,636.5h1.9v4.7h-1.9zM471.1,636.5h16.1v4.7h-16.1zM406.2,640.9h6.6v4.7h-6.6zM396.7,645.2h6.6v4.7h-6.6zM406.2,645.2h5.1v4.7h-5.1zM477.5,645.2h6.6v4.7h-6.6zM406.2,649.6h1.9v4.7h-1.9zM393.5,662.7h1.9v4.7h-1.9zM398.3,662.7h1.9v4.7h-1.9zM460,662.7h3.5v4.7h-3.5zM471.1,662.7h8.2v4.7h-8.2zM403,667h1.9v4.7h-1.9zM410.9,667h1.9v4.7h-1.9zM399.8,671.4h3.5v4.7h-3.5zM407.8,671.4h5.1v4.7h-5.1zM395.1,675.7h3.5v4.7h-3.5zM404.6,675.7h6.6v4.7h-6.6zM393.5,680.1h1.9v4.7h-1.9zM399.8,680.1h5.1v4.7h-5.1zM395.1,684.4h1.9v4.7h-1.9zM404.6,684.4h1.9v4.7h-1.9zM398.3,688.8h8.2v4.7h-8.2zM393.5,693.1h1.9v4.7h-1.9zM406.2,693.1h8.2v4.7h-8.2zM429.9,693.1h3.5v4.7h-3.5zM456.9,693.1h1.9v4.7h-1.9zM464.8,693.1h1.9v4.7h-1.9zM471.1,693.1h1.9v4.7h-1.9zM396.7,697.5h1.9v4.7h-1.9zM403,697.5h1.9v4.7h-1.9zM409.3,697.5h3.5v4.7h-3.5zM393.5,701.8h3.5v4.7h-3.5zM406.2,701.8h5.1v4.7h-5.1zM468,701.8h3.5v4.7h-3.5zM474.3,701.8h6.6v4.7h-6.6zM482.2,706.2h9.8v4.7h-9.8zM395.1,710.5h1.9v4.7h-1.9zM399.8,714.9h3.5v4.7h-3.5zM398.3,719.2h9.8v4.7h-9.8zM409.3,719.2h1.9v4.7h-1.9zM418.9,719.2h1.9v4.7h-1.9zM398.3,723.6h1.9v4.7h-1.9zM463.2,723.6h5.1v4.7h-5.1zM469.6,723.6h8.2v4.7h-8.2zM401.4,727.9h6.6v4.7h-6.6zM410.9,727.9h1.9v4.7h-1.9zM395.1,732.3h9.8v4.7h-9.8zM485.4,732.3h5.1v4.7h-5.1zM396.7,736.6h6.6v4.7h-6.6zM466.4,736.6h8.2v4.7h-8.2zM488.6,736.6h6.6v4.7h-6.6z"/>
<path fill="#0000e5" d="M399.8,549.5h1.9v4.7h-1.9zM404.6,549.5h1.9v4.7h-1.9zM407.8,549.5h1.9v4.7h-1.9zM469.6,549.5h1.9v4.7h-1.9zM472.7,549.5h3.5v4.7h-3.5zM485.4,549.5h8.2v4.7h-8.2zM395.1,553.9h1.9v4.7h-1.9zM407.8,553.9h1.9v4.7h-1.9zM410.9,553.9h1.9v4.7h-1.9zM398.3,558.2h8.2v4.7h-8.2zM409.3,558.2h1.9v4.7h-1.9zM414.1,558.2h1.9v4.7h-1.9zM395.1,562.6h1.9v4.7h-1.9zM399.8,562.6h5.1v4.7h-5.1zM412.5,562.6h3.5v4.7h-3.5zM393.5,566.9h22.5v4.7h-22.5zM393.5,571.3h6.6v4.7h-6.6zM401.4,571.3h8.2v4.7h-8.2zM393.5,575.6h5.1v4.7h-5.1zM403,575.6h3.5v4.7h-3.5zM409.3,575.6h5.1v4.7h-5.1zM417.3,575.6h5.1v4.7h-5.1zM460,575.6h13v4.7h-13zM399.8,580h5.1v4.7h-5.1zM393.5,584.3h13v4.7h-13zM410.9,584.3h1.9v4.7h-1.9zM393.5,588.7h3.5v4.7h-3.5zM404.6,588.7h1.9v4.7h-1.9zM407.8,588.7h6.6v4.7h-6.6zM417.3,588.7h3.5v4.7h-3.5zM393.5,593h3.5v4.7h-3.5zM399.8,593h1.9v4.7h-1.9zM404.6,593h3.5v4.7h-3.5zM431.5,593h1.9v4.7h-1.9zM453.7,593h3.5v4.7h-3.5zM466.4,593h3.5v4.7h-3.5zM393.5,597.4h9.8v4.7h-9.8zM407.8,597.4h5.1v4.7h-5.1zM418.9,597.4h3.5v4.7h-3.5zM393.5,601.7h5.1v4.7h-5.1zM403,601.7h5.1v4.7h-5.1zM410.9,601.7h1.9v4.7h-1.9zM482.2,601.7h6.6v4.7h-6.6zM395.1,606.1h1.9v4.7h-1.9zM407.8,606.1h6.6v4.7h-6.6zM464.8,606.1h8.2v4.7h-8.2zM485.4,606.1h5.1v4.7h-5.1zM393.5,610.4h3.5v4.7h-3.5zM398.3,610.4h9.8v4.7h-9.8zM410.9,610.4h6.6v4.7h-6.6zM418.9,610.4h3.5v4.7h-3.5zM429.9,610.4h5.1v4.7h-5.1zM393.5,614.8h1.9v4.7h-1.9zM404.6,614.8h6.6v4.7h-6.6zM456.9,614.8h3.5v4.7h-3.5zM463.2,614.8h5.1v4.7h-5.1zM493.3,614.8h1.9v4.7h-1.9zM393.5,619.1h6.6v4.7h-6.6zM401.4,619.1h9.8v4.7h-9.8zM399.8,623.5h5.1v4.7h-5.1zM406.2,623.5h3.5v4.7h-3.5zM410.9,623.5h3.5v4.7h-3.5zM396.7,627.8h9.8v4.7h-9.8zM410.9,627.8h1.9v4.7h-1.9zM471.1,627.8h9.8v4.7h-9.8zM393.5,632.2h8.2v4.7h-8.2zM404.6,632.2h5.1v4.7h-5.1zM393.5,636.5h9.8v4.7h-9.8zM404.6,636.5h3.5v4.7h-3.5zM409.3,636.5h1.9v4.7h-1.9zM469.6,636.5h1.9v4.7h-1.9zM487,636.5h5.1v4.7h-5.1zM395.1,640.9h11.4v4.7h-11.4zM412.5,640.9h1.9v4.7h-1.9zM458.5,640.9h11.4v4.7h-11.4zM471.1,640.9h1.9v4.7h-1.9zM395.1,645.2h1.9v4.7h-1.9zM403,645.2h3.5v4.7h-3.5zM472.7,645.2h1.9v4.7h-1.9zM475.9,645.2h1.9v4.7h-1.9zM483.8,645.2h1.9v4.7h-1.9zM393.5,649.6h1.9v4.7h-1.9zM404.6,649.6h1.9v4.7h-1.9zM407.8,649.6h3.5v4.7h-3.5zM395.1,654h3.5v4.7h-3.5zM399.8,654h9.8v4.7h-9.8zM415.7,654h1.9v4.7h-1.9zM393.5,658.3h1.9v4.7h-1.9zM409.3,658.3h3.5v4.7h-3.5zM417.3,658.3h5.1v4.7h-5.1zM479.1,658.3h3.5v4.7h-3.5zM490.1,658.3h5.1v4.7h-5.1zM399.8,662.7h11.4v4.7h-11.4zM458.5,662.7h1.9v4.7h-1.9zM463.2,662.7h1.9v4.7h-1.9zM469.6,662.7h1.9v4.7h-1.9zM479.1,662.7h1.9v4.7h-1.9zM393.5,667h5.1v4.7h-5.1zM401.4,667h1.9v4.7h-1.9zM404.6,667h6.6v4.7h-6.6zM412.5,667h1.9v4.7h-1.9zM393.5,671.4h6.6v4.7h-6.6zM403,671.4h5.1v4.7h-5.1zM412.5,671.4h1.9v4.7h-1.9zM466.4,671.4h19.3v4.7h-19.3zM487,671.4h8.2v4.7h-8.2zM393.5,675.7h1.9v4.7h-1.9zM398.3,675.7h3.5v4.7h-3.5zM403,675.7h1.9v4.7h-1.9zM395.1,680.1h5.1v4.7h-5.1zM404.6,680.1h6.6v4.7h-6.6zM455.3,680.1h3.5v4.7h-3.5zM464.8,680.1h5.1v4.7h-5.1zM485.4,680.1h3.5v4.7h-3.5zM393.5,684.4h1.9v4.7h-1.9zM396.7,684.4h1.9v4.7h-1.9zM403,684.4h1.9v4.7h-1.9zM406.2,684.4h6.6v4.7h-6.6zM395.1,688.8h3.5v4.7h-3.5zM406.2,688.8h1.9v4.7h-1.9zM395.1,693.1h5.1v4.7h-5.1zM403,693.1h3.5v4.7h-3.5zM414.1,693.1h1.9v4.7h-1.9zM455.3,693.1h1.9v4.7h-1.9zM466.4,693.1h5.1v4.7h-5.1zM393.5,697.5h3.5v4.7h-3.5zM398.3,697.5h5.1v4.7h-5.1zM404.6,697.5h5.1v4.7h-5.1zM396.7,701.8h9.8v4.7h-9.8zM410.9,701.8h1.9v4.7h-1.9zM464.8,701.8h3.5v4.7h-3.5zM471.1,701.8h3.5v4.7h-3.5zM480.6,701.8h1.9v4.7h-1.9zM395.1,706.2h11.4v4.7h-11.4zM491.7,706.2h3.5v4.7h-3.5zM393.5,710.5h1.9v4.7h-1.9zM396.7,710.5h3.5v4.7h-3.5zM407.8,710.5h5.1v4.7h-5.1zM398.3,714.9h1.9v4.7h-1.9zM403,714.9h1.9v4.7h-1.9zM406.2,714.9h5.1v4.7h-5.1zM393.5,719.2h5.1v4.7h-5.1zM407.8,719.2h1.9v4.7h-1.9zM410.9,719.2h5.1v4.7h-5.1zM420.4,719.2h1.9v4.7h-1.9zM428.4,719.2h3.5v4.7h-3.5zM466.4,719.2h1.9v4.7h-1.9zM488.6,719.2h1.9v4.7h-1.9zM393.5,723.6h5.1v4.7h-5.1zM399.8,723.6h14.6v4.7h-14.6zM452.1,723.6h3.5v4.7h-3.5zM458.5,723.6h5.1v4.7h-5.1zM468,723.6h1.9v4.7h-1.9zM477.5,723.6h8.2v4.7h-8.2zM398.3,727.9h3.5v4.7h-3.5zM407.8,727.9h3.5v4.7h-3.5zM412.5,727.9h1.9v4.7h-1.9zM393.5,732.3h1.9v4.7h-1.9zM404.6,732.3h1.9v4.7h-1.9zM437.9,732.3h1.9v4.7h-1.9zM442.6,732.3h3.5v4.7h-3.5zM468,732.3h5.1v4.7h-5.1zM483.8,732.3h1.9v4.7h-1.9zM490.1,732.3h1.9v4.7h-1.9zM393.5,736.6h3.5v4.7h-3.5zM403,736.6h3.5v4.7h-3.5zM407.8,736.6h5.1v4.7h-5.1zM434.7,736.6h3.5v4.7h-3.5zM461.6,736.6h5.1v4.7h-5.1zM474.3,736.6h14.6v4.7h-14.6z"/>
<path fill="#0019ff" d="M401.4,549.5h3.5v4.7h-3.5zM409.3,549.5h3.5v4.7h-3.5zM468,549.5h1.9v4.7h-1.9zM475.9,549.5h1.9v4.7h-1.9zM479.1,549.5h6.6v4.7h-6.6zM493.3,549.5h1.9v4.7h-1.9zM396.7,553.9h3.5v4.7h-3.5zM404.6,553.9h3.5v4.7h-3.5zM393.5,558.2h5.1v4.7h-5.1zM393.5,562.6h1.9v4.7h-1.9zM396.7,562.6h3.5v4.7h-3.5zM415.7,562.6h3.5v4.7h-3.5zM429.9,562.6h1.9v4.7h-1.9zM415.7,566.9h1.9v4.7h-1.9zM426.8,566.9h5.1v4.7h-5.1zM409.3,571.3h3.5v4.7h-3.5zM414.1,575.6h3.5v4.7h-3.5zM422,575.6h6.6v4.7h-6.6zM458.5,575.6h1.9v4.7h-1.9zM472.7,575.6h1.9v4.7h-1.9zM393.5,580h6.6v4.7h-6.6zM404.6,580h8.2v4.7h-8.2zM412.5,584.3h1.9v4.7h-1.9zM420.4,584.3h5.1v4.7h-5.1zM406.2,588.7h1.9v4.7h-1.9zM420.4,588.7h1.9v4.7h-1.9zM423.6,588.7h1.9v4.7h-1.9zM396.7,593h3.5v4.7h-3.5zM401.4,593h3.5v4.7h-3.5zM407.8,593h3.5v4.7h-3.5zM429.9,593h1.9v4.7h-1.9zM433.1,593h1.9v4.7h-1.9zM452.1,593h1.9v4.7h-1.9zM464.8,593h1.9v4.7h-1.9zM469.6,593h8.2v4.7h-8.2zM488.6,593h3.5v4.7h-3.5zM403,597.4h5.1v4.7h-5.1zM412.5,597.4h1.9v4.7h-1.9zM417.3,597.4h1.9v4.7h-1.9zM425.2,597.4h3.5v4.7h-3.5zM412.5,601.7h1.9v4.7h-1.9zM479.1,601.7h1.9v4.7h-1.9zM393.5,606.1h1.9v4.7h-1.9zM414.1,606.1h1.9v4.7h-1.9zM463.2,606.1h1.9v4.7h-1.9zM472.7,606.1h1.9v4.7h-1.9zM483.8,606.1h1.9v4.7h-1.9zM490.1,606.1h5.1v4.7h-5.1zM417.3,610.4h1.9v4.7h-1.9zM422,610.4h8.2v4.7h-8.2zM434.7,610.4h1.9v4.7h-1.9zM410.9,614.8h3.5v4.7h-3.5zM455.3,614.8h1.9v4.7h-1.9zM460,614.8h3.5v4.7h-3.5zM468,614.8h5.1v4.7h-5.1zM491.7,614.8h1.9v4.7h-1.9zM410.9,619.1h1.9v4.7h-1.9zM404.6,623.5h1.9v4.7h-1.9zM393.5,627.8h3.5v4.7h-3.5zM412.5,627.8h1.9v4.7h-1.9zM429.9,627.8h1.9v4.7h-1.9zM401.4,632.2h3.5v4.7h-3.5zM409.3,632.2h6.6v4.7h-6.6zM407.8,636.5h1.9v4.7h-1.9zM410.9,636.5h1.9v4.7h-1.9zM468,636.5h1.9v4.7h-1.9zM491.7,636.5h1.9v4.7h-1.9zM393.5,640.9h1.9v4.7h-1.9zM414.1,640.9h3.5v4.7h-3.5zM469.6,640.9h1.9v4.7h-1.9zM472.7,640.9h1.9v4.7h-1.9zM393.5,645.2h1.9v4.7h-1.9zM410.9,645.2h1.9v4.7h-1.9zM471.1,645.2h1.9v4.7h-1.9zM474.3,645.2h1.9v4.7h-1.9zM485.4,645.2h1.9v4.7h-1.9zM395.1,649.6h5.1v4.7h-5.1zM401.4,649.6h3.5v4.7h-3.5zM410.9,649.6h1.9v4.7h-1.9zM393.5,654h1.9v4.7h-1.9zM398.3,654h1.9v4.7h-1.9zM409.3,654h6.6v4.7h-6.6zM417.3,654h1.9v4.7h-1.9zM395.1,658.3h8.2v4.7h-8.2zM406.2,658.3h3.5v4.7h-3.5zM412.5,658.3h1.9v4.7h-1.9zM415.7,658.3h1.9v4.7h-1.9zM422,658.3h1.9v4.7h-1.9zM477.5,658.3h1.9v4.7h-1.9zM482.2,658.3h1.9v4.7h-1.9zM485.4,658.3h5.1v4.7h-5.1zM410.9,662.7h3.5v4.7h-3.5zM417.3,662.7h5.1v4.7h-5.1zM429.9,662.7h3.5v4.7h-3.5zM468,662.7h1.9v4.7h-1.9zM480.6,662.7h1.9v4.7h-1.9zM491.7,662.7h3.5v4.7h-3.5zM398.3,667h3.5v4.7h-3.5zM466.4,667h3.5v4.7h-3.5zM480.6,667h1.9v4.7h-1.9zM485.4,667h8.2v4.7h-8.2zM414.1,671.4h1.9v4.7h-1.9zM464.8,671.4h1.9v4.7h-1.9zM485.4,671.4h1.9v4.7h-1.9zM401.4,675.7h1.9v4.7h-1.9zM410.9,675.7h1.9v4.7h-1.9zM471.1,675.7h3.5v4.7h-3.5zM482.2,675.7h1.9v4.7h-1.9zM410.9,680.1h1.9v4.7h-1.9zM453.7,680.1h1.9v4.7h-1.9zM458.5,680.1h1.9v4.7h-1.9zM463.2,680.1h1.9v4.7h-1.9zM469.6,680.1h1.9v4.7h-1.9zM472.7,680.1h5.1v4.7h-5.1zM483.8,680.1h1.9v4.7h-1.9zM488.6,680.1h6.6v4.7h-6.6zM398.3,684.4h5.1v4.7h-5.1zM412.5,684.4h1.9v4.7h-1.9zM393.5,688.8h1.9v4.7h-1.9zM407.8,688.8h1.9v4.7h-1.9zM399.8,693.1h3.5v4.7h-3.5zM415.7,693.1h1.9v4.7h-1.9zM428.4,693.1h1.9v4.7h-1.9zM433.1,693.1h1.9v4.7h-1.9zM450.5,693.1h5.1v4.7h-5.1zM412.5,697.5h1.9v4.7h-1.9zM412.5,701.8h1.9v4.7h-1.9zM463.2,701.8h1.9v4.7h-1.9zM482.2,701.8h1.9v4.7h-1.9zM393.5,706.2h1.9v4.7h-1.9zM406.2,706.2h6.6v4.7h-6.6zM399.8,710.5h8.2v4.7h-8.2zM412.5,710.5h1.9v4.7h-1.9zM393.5,714.9h5.1v4.7h-5.1zM404.6,714.9h1.9v4.7h-1.9zM410.9,714.9h5.1v4.7h-5.1zM415.7,719.2h3.5v4.7h-3.5zM422,719.2h6.6v4.7h-6.6zM431.5,719.2h3.5v4.7h-3.5zM455.3,719.2h3.5v4.7h-3.5zM468,719.2h1.9v4.7h-1.9zM475.9,719.2h3.5v4.7h-3.5zM480.6,719.2h3.5v4.7h-3.5zM487,719.2h1.9v4.7h-1.9zM490.1,719.2h3.5v4.7h-3.5zM414.1,723.6h3.5v4.7h-3.5zM450.5,723.6h1.9v4.7h-1.9zM455.3,723.6h3.5v4.7h-3.5zM485.4,723.6h1.9v4.7h-1.9zM393.5,727.9h5.1v4.7h-5.1zM414.1,727.9h1.9v4.7h-1.9zM406.2,732.3h5.1v4.7h-5.1zM434.7,732.3h3.5v4.7h-3.5zM439.4,732.3h3.5v4.7h-3.5zM461.6,732.3h6.6v4.7h-6.6zM472.7,732.3h1.9v4.7h-1.9zM477.5,732.3h3.5v4.7h-3.5zM482.2,732.3h1.9v4.7h-1.9zM491.7,732.3h3.5v4.7h-3.5zM406.2,736.6h1.9v4.7h-1.9zM412.5,736.6h1.9v4.7h-1.9zM422,736.6h6.6v4.7h-6.6zM431.5,736.6h3.5v4.7h-3.5zM437.9,736.6h1.9v4.7h-1.9zM460,736.6h1.9v4.7h-1.9z"/>
<path fill="#004cff" d="M412.5,549.5h1.9v4.7h-1.9zM464.8,549.5h3.5v4.7h-3.5zM477.5,549.5h1.9v4.7h-1.9zM399.8,553.9h5.1v4.7h-5.1zM412.5,553.9h1.9v4.7h-1.9zM415.7,558.2h1.9v4.7h-1.9zM418.9,562.6h1.9v4.7h-1.9zM422,562.6h8.2v4.7h-8.2zM417.3,566.9h1.9v4.7h-1.9zM425.2,566.9h1.9v4.7h-1.9zM431.5,566.9h1.9v4.7h-1.9zM412.5,571.3h1.9v4.7h-1.9zM428.4,575.6h3.5v4.7h-3.5zM455.3,575.6h3.5v4.7h-3.5zM474.3,575.6h1.9v4.7h-1.9zM480.6,575.6h1.9v4.7h-1.9zM483.8,575.6h5.1v4.7h-5.1zM414.1,584.3h6.6v4.7h-6.6zM425.2,584.3h3.5v4.7h-3.5zM422,588.7h1.9v4.7h-1.9zM425.2,588.7h1.9v4.7h-1.9zM410.9,593h3.5v4.7h-3.5zM422,593h8.2v4.7h-8.2zM434.7,593h1.9v4.7h-1.9zM449,593h3.5v4.7h-3.5zM456.9,593h1.9v4.7h-1.9zM461.6,593h3.5v4.7h-3.5zM477.5,593h1.9v4.7h-1.9zM480.6,593h8.2v4.7h-8.2zM493.3,593h1.9v4.7h-1.9zM414.1,597.4h3.5v4.7h-3.5zM422,597.4h3.5v4.7h-3.5zM428.4,597.4h1.9v4.7h-1.9zM414.1,601.7h1.9v4.7h-1.9zM415.7,606.1h3.5v4.7h-3.5zM436.3,606.1h8.2v4.7h-8.2zM460,606.1h3.5v4.7h-3.5zM479.1,606.1h5.1v4.7h-5.1zM436.3,610.4h1.9v4.7h-1.9zM414.1,614.8h6.6v4.7h-6.6zM453.7,614.8h1.9v4.7h-1.9zM472.7,614.8h1.9v4.7h-1.9zM475.9,614.8h3.5v4.7h-3.5zM482.2,614.8h1.9v4.7h-1.9zM490.1,614.8h1.9v4.7h-1.9zM412.5,619.1h1.9v4.7h-1.9zM414.1,623.5h1.9v4.7h-1.9zM428.4,627.8h1.9v4.7h-1.9zM431.5,627.8h1.9v4.7h-1.9zM469.6,627.8h1.9v4.7h-1.9zM480.6,627.8h1.9v4.7h-1.9zM415.7,632.2h5.1v4.7h-5.1zM412.5,636.5h3.5v4.7h-3.5zM493.3,636.5h1.9v4.7h-1.9zM456.9,640.9h1.9v4.7h-1.9zM412.5,645.2h5.1v4.7h-5.1zM468,645.2h3.5v4.7h-3.5zM487,645.2h1.9v4.7h-1.9zM491.7,645.2h3.5v4.7h-3.5zM399.8,649.6h1.9v4.7h-1.9zM412.5,649.6h1.9v4.7h-1.9zM418.9,654h1.9v4.7h-1.9zM441,654h3.5v4.7h-3.5zM403,658.3h3.5v4.7h-3.5zM414.1,658.3h1.9v4.7h-1.9zM423.6,658.3h3.5v4.7h-3.5zM461.6,658.3h6.6v4.7h-6.6zM474.3,658.3h3.5v4.7h-3.5zM483.8,658.3h1.9v4.7h-1.9zM414.1,662.7h3.5v4.7h-3.5zM422,662.7h1.9v4.7h-1.9zM450.5,662.7h3.5v4.7h-3.5zM455.3,662.7h3.5v4.7h-3.5zM464.8,662.7h3.5v4.7h-3.5zM482.2,662.7h3.5v4.7h-3.5zM414.1,667h1.9v4.7h-1.9zM426.8,667h1.9v4.7h-1.9zM463.2,667h3.5v4.7h-3.5zM469.6,667h11.4v4.7h-11.4zM482.2,667h3.5v4.7h-3.5zM493.3,667h1.9v4.7h-1.9zM415.7,671.4h1.9v4.7h-1.9zM455.3,675.7h1.9v4.7h-1.9zM461.6,675.7h5.1v4.7h-5.1zM468,675.7h3.5v4.7h-3.5zM474.3,675.7h8.2v4.7h-8.2zM483.8,675.7h3.5v4.7h-3.5zM412.5,680.1h1.9v4.7h-1.9zM422,680.1h3.5v4.7h-3.5zM460,680.1h3.5v4.7h-3.5zM471.1,680.1h1.9v4.7h-1.9zM477.5,680.1h1.9v4.7h-1.9zM482.2,680.1h1.9v4.7h-1.9zM414.1,684.4h1.9v4.7h-1.9zM409.3,688.8h3.5v4.7h-3.5zM437.9,688.8h6.6v4.7h-6.6zM417.3,693.1h5.1v4.7h-5.1zM423.6,693.1h5.1v4.7h-5.1zM434.7,693.1h1.9v4.7h-1.9zM477.5,693.1h1.9v4.7h-1.9zM414.1,697.5h1.9v4.7h-1.9zM461.6,701.8h1.9v4.7h-1.9zM483.8,701.8h1.9v4.7h-1.9zM412.5,706.2h1.9v4.7h-1.9zM480.6,706.2h1.9v4.7h-1.9zM414.1,710.5h1.9v4.7h-1.9zM415.7,714.9h1.9v4.7h-1.9zM434.7,719.2h1.9v4.7h-1.9zM452.1,719.2h3.5v4.7h-3.5zM458.5,719.2h1.9v4.7h-1.9zM464.8,719.2h1.9v4.7h-1.9zM469.6,719.2h1.9v4.7h-1.9zM472.7,719.2h3.5v4.7h-3.5zM479.1,719.2h1.9v4.7h-1.9zM483.8,719.2h3.5v4.7h-3.5zM493.3,719.2h1.9v4.7h-1.9zM417.3,723.6h1.9v4.7h-1.9zM487,723.6h8.2v4.7h-8.2zM415.7,727.9h1.9v4.7h-1.9zM471.1,727.9h1.9v4.7h-1.9zM410.9,732.3h1.9v4.7h-1.9zM433.1,732.3h1.9v4.7h-1.9zM445.8,732.3h1.9v4.7h-1.9zM460,732.3h1.9v4.7h-1.9zM474.3,732.3h3.5v4.7h-3.5zM480.6,732.3h1.9v4.7h-1.9zM414.1,736.6h1.9v4.7h-1.9zM420.4,736.6h1.9v4.7h-1.9zM428.4,736.6h3.5v4.7h-3.5zM439.4,736.6h1.9v4.7h-1.9z"/>
<path fill="#007fff" d="M414.1,549.5h1.9v4.7h-1.9zM463.2,549.5h1.9v4.7h-1.9zM414.1,553.9h1.9v4.7h-1.9zM420.4,562.6h1.9v4.7h-1.9zM431.5,562.6h1.9v4.7h-1.9zM418.9,566.9h1.9v4.7h-1.9zM433.1,566.9h1.9v4.7h-1.9zM431.5,575.6h1.9v4.7h-1.9zM434.7,575.6h1.9v4.7h-1.9zM453.7,575.6h1.9v4.7h-1.9zM477.5,575.6h3.5v4.7h-3.5zM482.2,575.6h1.9v4.7h-1.9zM488.6,575.6h3.5v4.7h-3.5zM412.5,580h1.9v4.7h-1.9zM426.8,588.7h6.6v4.7h-6.6zM417.3,593h5.1v4.7h-5.1zM447.4,593h1.9v4.7h-1.9zM458.5,593h3.5v4.7h-3.5zM479.1,593h1.9v4.7h-1.9zM491.7,593h1.9v4.7h-1.9zM429.9,597.4h1.9v4.7h-1.9zM415.7,601.7h1.9v4.7h-1.9zM418.9,606.1h1.9v4.7h-1.9zM422,606.1h3.5v4.7h-3.5zM428.4,606.1h1.9v4.7h-1.9zM434.7,606.1h1.9v4.7h-1.9zM444.2,606.1h1.9v4.7h-1.9zM458.5,606.1h1.9v4.7h-1.9zM474.3,606.1h1.9v4.7h-1.9zM477.5,606.1h1.9v4.7h-1.9zM437.9,610.4h1.9v4.7h-1.9zM420.4,614.8h1.9v4.7h-1.9zM474.3,614.8h1.9v4.7h-1.9zM479.1,614.8h3.5v4.7h-3.5zM483.8,614.8h6.6v4.7h-6.6zM415.7,623.5h1.9v4.7h-1.9zM414.1,627.8h3.5v4.7h-3.5zM418.9,627.8h5.1v4.7h-5.1zM426.8,627.8h1.9v4.7h-1.9zM420.4,632.2h1.9v4.7h-1.9zM415.7,636.5h5.1v4.7h-5.1zM426.8,636.5h6.6v4.7h-6.6zM449,636.5h5.1v4.7h-5.1zM417.3,640.9h3.5v4.7h-3.5zM474.3,640.9h1.9v4.7h-1.9zM417.3,645.2h1.9v4.7h-1.9zM420.4,645.2h1.9v4.7h-1.9zM466.4,645.2h1.9v4.7h-1.9zM488.6,645.2h3.5v4.7h-3.5zM414.1,649.6h1.9v4.7h-1.9zM423.6,654h8.2v4.7h-8.2zM436.3,654h5.1v4.7h-5.1zM426.8,658.3h1.9v4.7h-1.9zM429.9,658.3h3.5v4.7h-3.5zM468,658.3h6.6v4.7h-6.6zM428.4,662.7h1.9v4.7h-1.9zM433.1,662.7h1.9v4.7h-1.9zM437.9,662.7h1.9v4.7h-1.9zM449,662.7h1.9v4.7h-1.9zM453.7,662.7h1.9v4.7h-1.9zM485.4,662.7h6.6v4.7h-6.6zM422,667h5.1v4.7h-5.1zM428.4,667h1.9v4.7h-1.9zM461.6,667h1.9v4.7h-1.9zM463.2,671.4h1.9v4.7h-1.9zM412.5,675.7h1.9v4.7h-1.9zM453.7,675.7h1.9v4.7h-1.9zM456.9,675.7h5.1v4.7h-5.1zM466.4,675.7h1.9v4.7h-1.9zM487,675.7h1.9v4.7h-1.9zM491.7,675.7h3.5v4.7h-3.5zM414.1,680.1h1.9v4.7h-1.9zM420.4,680.1h1.9v4.7h-1.9zM425.2,680.1h1.9v4.7h-1.9zM452.1,680.1h1.9v4.7h-1.9zM479.1,680.1h3.5v4.7h-3.5zM415.7,684.4h1.9v4.7h-1.9zM417.3,688.8h3.5v4.7h-3.5zM422,688.8h5.1v4.7h-5.1zM444.2,688.8h1.9v4.7h-1.9zM422,693.1h1.9v4.7h-1.9zM449,693.1h1.9v4.7h-1.9zM415.7,697.5h1.9v4.7h-1.9zM431.5,697.5h6.6v4.7h-6.6zM414.1,701.8h1.9v4.7h-1.9zM456.9,701.8h5.1v4.7h-5.1zM485.4,701.8h6.6v4.7h-6.6zM414.1,706.2h6.6v4.7h-6.6zM415.7,710.5h1.9v4.7h-1.9zM417.3,714.9h1.9v4.7h-1.9zM456.9,714.9h1.9v4.7h-1.9zM436.3,719.2h1.9v4.7h-1.9zM450.5,719.2h1.9v4.7h-1.9zM460,719.2h1.9v4.7h-1.9zM471.1,719.2h1.9v4.7h-1.9zM418.9,723.6h1.9v4.7h-1.9zM449,723.6h1.9v4.7h-1.9zM429.9,727.9h1.9v4.7h-1.9zM453.7,727.9h1.9v4.7h-1.9zM463.2,727.9h3.5v4.7h-3.5zM469.6,727.9h1.9v4.7h-1.9zM472.7,727.9h1.9v4.7h-1.9zM493.3,727.9h1.9v4.7h-1.9zM412.5,732.3h1.9v4.7h-1.9zM415.7,732.3h3.5v4.7h-3.5zM428.4,732.3h1.9v4.7h-1.9zM431.5,732.3h1.9v4.7h-1.9zM455.3,732.3h5.1v4.7h-5.1zM415.7,736.6h1.9v4.7h-1.9zM441,736.6h1.9v4.7h-1.9zM458.5,736.6h1.9v4.7h-1.9z"/>
<path fill="#00b2ff" d="M461.6,549.5h1.9v4.7h-1.9zM415.7,553.9h1.9v4.7h-1.9zM420.4,566.9h1.9v4.7h-1.9zM423.6,566.9h1.9v4.7h-1.9zM434.7,566.9h6.6v4.7h-6.6zM414.1,571.3h1.9v4.7h-1.9zM433.1,575.6h1.9v4.7h-1.9zM436.3,575.6h5.1v4.7h-5.1zM475.9,575.6h1.9v4.7h-1.9zM491.7,575.6h1.9v4.7h-1.9zM428.4,584.3h1.9v4.7h-1.9zM431.5,584.3h6.6v4.7h-6.6zM439.4,584.3h3.5v4.7h-3.5zM474.3,584.3h1.9v4.7h-1.9zM433.1,588.7h3.5v4.7h-3.5zM414.1,593h3.5v4.7h-3.5zM436.3,593h1.9v4.7h-1.9zM445.8,593h1.9v4.7h-1.9zM420.4,606.1h1.9v4.7h-1.9zM425.2,606.1h3.5v4.7h-3.5zM429.9,606.1h5.1v4.7h-5.1zM475.9,606.1h1.9v4.7h-1.9zM439.4,610.4h1.9v4.7h-1.9zM480.6,610.4h9.8v4.7h-9.8zM422,614.8h1.9v4.7h-1.9zM428.4,614.8h8.2v4.7h-8.2zM452.1,614.8h1.9v4.7h-1.9zM414.1,619.1h3.5v4.7h-3.5zM417.3,623.5h1.9v4.7h-1.9zM417.3,627.8h1.9v4.7h-1.9zM423.6,627.8h3.5v4.7h-3.5zM433.1,627.8h1.9v4.7h-1.9zM420.4,636.5h3.5v4.7h-3.5zM425.2,636.5h1.9v4.7h-1.9zM453.7,636.5h1.9v4.7h-1.9zM466.4,636.5h1.9v4.7h-1.9zM420.4,640.9h6.6v4.7h-6.6zM429.9,640.9h5.1v4.7h-5.1zM475.9,640.9h3.5v4.7h-3.5zM418.9,645.2h1.9v4.7h-1.9zM422,645.2h1.9v4.7h-1.9zM429.9,645.2h9.8v4.7h-9.8zM464.8,645.2h1.9v4.7h-1.9zM415.7,649.6h3.5v4.7h-3.5zM434.7,649.6h3.5v4.7h-3.5zM420.4,654h3.5v4.7h-3.5zM431.5,654h1.9v4.7h-1.9zM434.7,654h1.9v4.7h-1.9zM444.2,654h1.9v4.7h-1.9zM428.4,658.3h1.9v4.7h-1.9zM433.1,658.3h1.9v4.7h-1.9zM423.6,662.7h5.1v4.7h-5.1zM434.7,662.7h3.5v4.7h-3.5zM447.4,662.7h1.9v4.7h-1.9zM415.7,667h1.9v4.7h-1.9zM420.4,667h1.9v4.7h-1.9zM429.9,667h1.9v4.7h-1.9zM460,667h1.9v4.7h-1.9zM417.3,671.4h1.9v4.7h-1.9zM461.6,671.4h1.9v4.7h-1.9zM414.1,675.7h5.1v4.7h-5.1zM488.6,675.7h3.5v4.7h-3.5zM415.7,680.1h1.9v4.7h-1.9zM426.8,680.1h1.9v4.7h-1.9zM453.7,684.4h3.5v4.7h-3.5zM474.3,684.4h3.5v4.7h-3.5zM412.5,688.8h5.1v4.7h-5.1zM420.4,688.8h1.9v4.7h-1.9zM426.8,688.8h5.1v4.7h-5.1zM436.3,688.8h1.9v4.7h-1.9zM445.8,688.8h1.9v4.7h-1.9zM436.3,693.1h1.9v4.7h-1.9zM447.4,693.1h1.9v4.7h-1.9zM417.3,697.5h1.9v4.7h-1.9zM429.9,697.5h1.9v4.7h-1.9zM437.9,697.5h1.9v4.7h-1.9zM455.3,701.8h1.9v4.7h-1.9zM491.7,701.8h3.5v4.7h-3.5zM420.4,706.2h1.9v4.7h-1.9zM428.4,706.2h1.9v4.7h-1.9zM417.3,710.5h1.9v4.7h-1.9zM418.9,714.9h3.5v4.7h-3.5zM431.5,714.9h1.9v4.7h-1.9zM455.3,714.9h1.9v4.7h-1.9zM458.5,714.9h1.9v4.7h-1.9zM437.9,719.2h3.5v4.7h-3.5zM445.8,719.2h1.9v4.7h-1.9zM449,719.2h1.9v4.7h-1.9zM461.6,719.2h3.5v4.7h-3.5zM420.4,723.6h3.5v4.7h-3.5zM417.3,727.9h1.9v4.7h-1.9zM428.4,727.9h1.9v4.7h-1.9zM431.5,727.9h1.9v4.7h-1.9zM452.1,727.9h1.9v4.7h-1.9zM455.3,727.9h5.1v4.7h-5.1zM461.6,727.9h1.9v4.7h-1.9zM466.4,727.9h3.5v4.7h-3.5zM474.3,727.9h1.9v4.7h-1.9zM414.1,732.3h1.9v4.7h-1.9zM418.9,732.3h1.9v4.7h-1.9zM426.8,732.3h1.9v4.7h-1.9zM429.9,732.3h1.9v4.7h-1.9zM453.7,732.3h1.9v4.7h-1.9zM417.3,736.6h3.5v4.7h-3.5zM442.6,736.6h1.9v4.7h-1.9z"/>
<path fill="#00e5ff" d="M415.7,549.5h1.9v4.7h-1.9zM420.4,549.5h1.9v4.7h-1.9zM439.4,549.5h1.9v4.7h-1.9zM417.3,553.9h1.9v4.7h-1.9zM472.7,553.9h1.9v4.7h-1.9zM417.3,558.2h1.9v4.7h-1.9zM433.1,562.6h1.9v4.7h-1.9zM452.1,562.6h6.6v4.7h-6.6zM422,566.9h1.9v4.7h-1.9zM415.7,571.3h1.9v4.7h-1.9zM441,575.6h1.9v4.7h-1.9zM452.1,575.6h1.9v4.7h-1.9zM493.3,575.6h1.9v4.7h-1.9zM414.1,580h1.9v4.7h-1.9zM429.9,584.3h1.9v4.7h-1.9zM437.9,584.3h1.9v4.7h-1.9zM442.6,584.3h1.9v4.7h-1.9zM472.7,584.3h1.9v4.7h-1.9zM475.9,584.3h6.6v4.7h-6.6zM487,584.3h5.1v4.7h-5.1zM444.2,593h1.9v4.7h-1.9zM431.5,597.4h1.9v4.7h-1.9zM452.1,597.4h1.9v4.7h-1.9zM417.3,601.7h1.9v4.7h-1.9zM445.8,606.1h1.9v4.7h-1.9zM479.1,610.4h1.9v4.7h-1.9zM490.1,610.4h1.9v4.7h-1.9zM423.6,614.8h5.1v4.7h-5.1zM436.3,614.8h1.9v4.7h-1.9zM417.3,619.1h3.5v4.7h-3.5zM418.9,623.5h1.9v4.7h-1.9zM434.7,627.8h1.9v4.7h-1.9zM452.1,627.8h5.1v4.7h-5.1zM422,632.2h1.9v4.7h-1.9zM458.5,632.2h3.5v4.7h-3.5zM471.1,632.2h1.9v4.7h-1.9zM423.6,636.5h1.9v4.7h-1.9zM433.1,636.5h1.9v4.7h-1.9zM447.4,636.5h1.9v4.7h-1.9zM455.3,636.5h1.9v4.7h-1.9zM463.2,636.5h3.5v4.7h-3.5zM426.8,640.9h3.5v4.7h-3.5zM434.7,640.9h1.9v4.7h-1.9zM439.4,640.9h3.5v4.7h-3.5zM479.1,640.9h9.8v4.7h-9.8zM493.3,640.9h1.9v4.7h-1.9zM423.6,645.2h6.6v4.7h-6.6zM439.4,645.2h1.9v4.7h-1.9zM418.9,649.6h6.6v4.7h-6.6zM437.9,649.6h1.9v4.7h-1.9zM433.1,654h1.9v4.7h-1.9zM437.9,658.3h3.5v4.7h-3.5zM460,658.3h1.9v4.7h-1.9zM439.4,662.7h1.9v4.7h-1.9zM418.9,667h1.9v4.7h-1.9zM460,671.4h1.9v4.7h-1.9zM418.9,675.7h1.9v4.7h-1.9zM417.3,680.1h3.5v4.7h-3.5zM428.4,680.1h1.9v4.7h-1.9zM417.3,684.4h8.2v4.7h-8.2zM426.8,684.4h3.5v4.7h-3.5zM434.7,684.4h6.6v4.7h-6.6zM456.9,684.4h8.2v4.7h-8.2zM466.4,684.4h1.9v4.7h-1.9zM472.7,684.4h1.9v4.7h-1.9zM477.5,684.4h5.1v4.7h-5.1zM493.3,684.4h1.9v4.7h-1.9zM431.5,688.8h1.9v4.7h-1.9zM434.7,688.8h1.9v4.7h-1.9zM441,693.1h6.6v4.7h-6.6zM418.9,697.5h6.6v4.7h-6.6zM439.4,697.5h3.5v4.7h-3.5zM415.7,701.8h1.9v4.7h-1.9zM453.7,701.8h1.9v4.7h-1.9zM426.8,706.2h1.9v4.7h-1.9zM429.9,706.2h1.9v4.7h-1.9zM418.9,710.5h3.5v4.7h-3.5zM425.2,710.5h1.9v4.7h-1.9zM422,714.9h1.9v4.7h-1.9zM433.1,714.9h1.9v4.7h-1.9zM437.9,714.9h3.5v4.7h-3.5zM453.7,714.9h1.9v4.7h-1.9zM460,714.9h1.9v4.7h-1.9zM441,719.2h5.1v4.7h-5.1zM447.4,719.2h1.9v4.7h-1.9zM423.6,723.6h8.2v4.7h-8.2zM447.4,723.6h1.9v4.7h-1.9zM418.9,727.9h5.1v4.7h-5.1zM426.8,727.9h1.9v4.7h-1.9zM433.1,727.9h1.9v4.7h-1.9zM450.5,727.9h1.9v4.7h-1.9zM460,727.9h1.9v4.7h-1.9zM475.9,727.9h5.1v4.7h-5.1zM420.4,732.3h3.5v4.7h-3.5zM447.4,732.3h1.9v4.7h-1.9zM444.2,736.6h5.1v4.7h-5.1zM456.9,736.6h1.9v4.7h-1.9z"/>
<path fill="#19ffe5" d="M417.3,549.5h3.5v4.7h-3.5zM422,549.5h1.9v4.7h-1.9zM434.7,549.5h1.9v4.7h-1.9zM437.9,549.5h1.9v4.7h-1.9zM460,549.5h1.9v4.7h-1.9zM463.2,553.9h9.8v4.7h-9.8zM474.3,553.9h3.5v4.7h-3.5zM493.3,553.9h1.9v4.7h-1.9zM418.9,558.2h1.9v4.7h-1.9zM437.9,558.2h1.9v4.7h-1.9zM456.9,558.2h3.5v4.7h-3.5zM434.7,562.6h1.9v4.7h-1.9zM450.5,562.6h1.9v4.7h-1.9zM458.5,562.6h1.9v4.7h-1.9zM450.5,566.9h1.9v4.7h-1.9zM417.3,571.3h1.9v4.7h-1.9zM466.4,584.3h1.9v4.7h-1.9zM471.1,584.3h1.9v4.7h-1.9zM482.2,584.3h5.1v4.7h-5.1zM491.7,584.3h3.5v4.7h-3.5zM436.3,588.7h1.9v4.7h-1.9zM437.9,593h1.9v4.7h-1.9zM442.6,593h1.9v4.7h-1.9zM450.5,597.4h1.9v4.7h-1.9zM453.7,597.4h3.5v4.7h-3.5zM461.6,601.7h1.9v4.7h-1.9zM466.4,601.7h3.5v4.7h-3.5zM477.5,601.7h1.9v4.7h-1.9zM456.9,606.1h1.9v4.7h-1.9zM441,610.4h1.9v4.7h-1.9zM491.7,610.4h1.9v4.7h-1.9zM437.9,614.8h1.9v4.7h-1.9zM420.4,619.1h1.9v4.7h-1.9zM429.9,619.1h3.5v4.7h-3.5zM420.4,623.5h3.5v4.7h-3.5zM444.2,623.5h1.9v4.7h-1.9zM436.3,627.8h1.9v4.7h-1.9zM468,627.8h1.9v4.7h-1.9zM423.6,632.2h1.9v4.7h-1.9zM431.5,632.2h6.6v4.7h-6.6zM456.9,632.2h1.9v4.7h-1.9zM461.6,632.2h1.9v4.7h-1.9zM468,632.2h3.5v4.7h-3.5zM472.7,632.2h6.6v4.7h-6.6zM480.6,632.2h3.5v4.7h-3.5zM488.6,632.2h1.9v4.7h-1.9zM461.6,636.5h1.9v4.7h-1.9zM442.6,640.9h1.9v4.7h-1.9zM455.3,640.9h1.9v4.7h-1.9zM488.6,640.9h1.9v4.7h-1.9zM491.7,640.9h1.9v4.7h-1.9zM441,645.2h1.9v4.7h-1.9zM463.2,645.2h1.9v4.7h-1.9zM425.2,649.6h1.9v4.7h-1.9zM429.9,649.6h5.1v4.7h-5.1zM487,654h6.6v4.7h-6.6zM434.7,658.3h3.5v4.7h-3.5zM445.8,662.7h1.9v4.7h-1.9zM417.3,667h1.9v4.7h-1.9zM431.5,667h6.6v4.7h-6.6zM458.5,667h1.9v4.7h-1.9zM456.9,671.4h3.5v4.7h-3.5zM426.8,675.7h1.9v4.7h-1.9zM452.1,675.7h1.9v4.7h-1.9zM450.5,680.1h1.9v4.7h-1.9zM425.2,684.4h1.9v4.7h-1.9zM429.9,684.4h5.1v4.7h-5.1zM441,684.4h1.9v4.7h-1.9zM464.8,684.4h1.9v4.7h-1.9zM468,684.4h1.9v4.7h-1.9zM471.1,684.4h1.9v4.7h-1.9zM482.2,684.4h1.9v4.7h-1.9zM488.6,684.4h5.1v4.7h-5.1zM433.1,688.8h1.9v4.7h-1.9zM447.4,688.8h1.9v4.7h-1.9zM437.9,693.1h3.5v4.7h-3.5zM425.2,697.5h5.1v4.7h-5.1zM442.6,697.5h1.9v4.7h-1.9zM480.6,697.5h3.5v4.7h-3.5zM452.1,701.8h1.9v4.7h-1.9zM422,706.2h1.9v4.7h-1.9zM431.5,706.2h1.9v4.7h-1.9zM439.4,706.2h3.5v4.7h-3.5zM422,710.5h3.5v4.7h-3.5zM426.8,710.5h1.9v4.7h-1.9zM433.1,710.5h1.9v4.7h-1.9zM423.6,714.9h3.5v4.7h-3.5zM429.9,714.9h1.9v4.7h-1.9zM434.7,714.9h3.5v4.7h-3.5zM452.1,714.9h1.9v4.7h-1.9zM461.6,714.9h3.5v4.7h-3.5zM469.6,714.9h6.6v4.7h-6.6zM483.8,714.9h1.9v4.7h-1.9zM431.5,723.6h1.9v4.7h-1.9zM423.6,727.9h3.5v4.7h-3.5zM434.7,727.9h1.9v4.7h-1.9zM423.6,732.3h3.5v4.7h-3.5zM452.1,732.3h1.9v4.7h-1.9z"/>
<path fill="#4cffb2" d="M423.6,549.5h6.6v4.7h-6.6zM431.5,549.5h3.5v4.7h-3.5zM436.3,549.5h1.9v4.7h-1.9zM441,549.5h1.9v4.7h-1.9zM418.9,553.9h1.9v4.7h-1.9zM477.5,553.9h1.9v4.7h-1.9zM483.8,553.9h9.8v4.7h-9.8zM433.1,558.2h5.1v4.7h-5.1zM439.4,558.2h1.9v4.7h-1.9zM460,558.2h1.9v4.7h-1.9zM441,566.9h1.9v4.7h-1.9zM452.1,566.9h3.5v4.7h-3.5zM456.9,566.9h1.9v4.7h-1.9zM418.9,571.3h1.9v4.7h-1.9zM442.6,575.6h1.9v4.7h-1.9zM415.7,580h1.9v4.7h-1.9zM444.2,584.3h1.9v4.7h-1.9zM464.8,584.3h1.9v4.7h-1.9zM468,584.3h3.5v4.7h-3.5zM458.5,588.7h6.6v4.7h-6.6zM439.4,593h3.5v4.7h-3.5zM433.1,597.4h1.9v4.7h-1.9zM449,597.4h1.9v4.7h-1.9zM418.9,601.7h1.9v4.7h-1.9zM460,601.7h1.9v4.7h-1.9zM463.2,601.7h3.5v4.7h-3.5zM469.6,601.7h1.9v4.7h-1.9zM442.6,610.4h1.9v4.7h-1.9zM469.6,610.4h1.9v4.7h-1.9zM477.5,610.4h1.9v4.7h-1.9zM493.3,610.4h1.9v4.7h-1.9zM439.4,614.8h1.9v4.7h-1.9zM422,619.1h8.2v4.7h-8.2zM433.1,619.1h8.2v4.7h-8.2zM423.6,623.5h1.9v4.7h-1.9zM441,623.5h3.5v4.7h-3.5zM445.8,623.5h1.9v4.7h-1.9zM466.4,623.5h11.4v4.7h-11.4zM437.9,627.8h1.9v4.7h-1.9zM450.5,627.8h1.9v4.7h-1.9zM456.9,627.8h1.9v4.7h-1.9zM482.2,627.8h1.9v4.7h-1.9zM425.2,632.2h6.6v4.7h-6.6zM437.9,632.2h6.6v4.7h-6.6zM463.2,632.2h5.1v4.7h-5.1zM479.1,632.2h1.9v4.7h-1.9zM483.8,632.2h5.1v4.7h-5.1zM456.9,636.5h5.1v4.7h-5.1zM436.3,640.9h3.5v4.7h-3.5zM490.1,640.9h1.9v4.7h-1.9zM442.6,645.2h3.5v4.7h-3.5zM426.8,649.6h3.5v4.7h-3.5zM439.4,649.6h1.9v4.7h-1.9zM453.7,649.6h8.2v4.7h-8.2zM445.8,654h1.9v4.7h-1.9zM477.5,654h3.5v4.7h-3.5zM482.2,654h5.1v4.7h-5.1zM493.3,654h1.9v4.7h-1.9zM441,658.3h1.9v4.7h-1.9zM418.9,671.4h1.9v4.7h-1.9zM455.3,671.4h1.9v4.7h-1.9zM420.4,675.7h1.9v4.7h-1.9zM425.2,675.7h1.9v4.7h-1.9zM428.4,675.7h1.9v4.7h-1.9zM450.5,675.7h1.9v4.7h-1.9zM429.9,680.1h1.9v4.7h-1.9zM469.6,684.4h1.9v4.7h-1.9zM487,684.4h1.9v4.7h-1.9zM460,688.8h3.5v4.7h-3.5zM483.8,697.5h1.9v4.7h-1.9zM417.3,701.8h1.9v4.7h-1.9zM423.6,706.2h3.5v4.7h-3.5zM433.1,706.2h6.6v4.7h-6.6zM452.1,706.2h5.1v4.7h-5.1zM458.5,706.2h3.5v4.7h-3.5zM428.4,710.5h1.9v4.7h-1.9zM431.5,710.5h1.9v4.7h-1.9zM434.7,710.5h1.9v4.7h-1.9zM426.8,714.9h1.9v4.7h-1.9zM441,714.9h1.9v4.7h-1.9zM464.8,714.9h5.1v4.7h-5.1zM475.9,714.9h3.5v4.7h-3.5zM482.2,714.9h1.9v4.7h-1.9zM485.4,714.9h3.5v4.7h-3.5zM449,727.9h1.9v4.7h-1.9zM480.6,727.9h1.9v4.7h-1.9zM449,732.3h3.5v4.7h-3.5zM449,736.6h1.9v4.7h-1.9z"/>
<path fill="#7fff7f" d="M429.9,549.5h1.9v4.7h-1.9zM420.4,553.9h1.9v4.7h-1.9zM425.2,553.9h1.9v4.7h-1.9zM461.6,553.9h1.9v4.7h-1.9zM479.1,553.9h5.1v4.7h-5.1zM420.4,558.2h1.9v4.7h-1.9zM455.3,558.2h1.9v4.7h-1.9zM461.6,558.2h1.9v4.7h-1.9zM472.7,558.2h3.5v4.7h-3.5zM460,562.6h1.9v4.7h-1.9zM471.1,562.6h3.5v4.7h-3.5zM449,566.9h1.9v4.7h-1.9zM455.3,566.9h1.9v4.7h-1.9zM458.5,566.9h1.9v4.7h-1.9zM420.4,571.3h1.9v4.7h-1.9zM450.5,575.6h1.9v4.7h-1.9zM417.3,580h1.9v4.7h-1.9zM469.6,580h5.1v4.7h-5.1zM463.2,584.3h1.9v4.7h-1.9zM456.9,588.7h1.9v4.7h-1.9zM464.8,588.7h3.5v4.7h-3.5zM485.4,588.7h5.1v4.7h-5.1zM434.7,597.4h1.9v4.7h-1.9zM456.9,597.4h1.9v4.7h-1.9zM458.5,601.7h1.9v4.7h-1.9zM471.1,601.7h1.9v4.7h-1.9zM444.2,610.4h1.9v4.7h-1.9zM468,610.4h1.9v4.7h-1.9zM471.1,610.4h6.6v4.7h-6.6zM450.5,614.8h1.9v4.7h-1.9zM441,619.1h1.9v4.7h-1.9zM455.3,619.1h3.5v4.7h-3.5zM425.2,623.5h3.5v4.7h-3.5zM439.4,623.5h1.9v4.7h-1.9zM463.2,623.5h3.5v4.7h-3.5zM439.4,627.8h1.9v4.7h-1.9zM444.2,632.2h1.9v4.7h-1.9zM455.3,632.2h1.9v4.7h-1.9zM490.1,632.2h1.9v4.7h-1.9zM434.7,636.5h1.9v4.7h-1.9zM444.2,640.9h1.9v4.7h-1.9zM445.8,645.2h1.9v4.7h-1.9zM461.6,649.6h1.9v4.7h-1.9zM480.6,654h1.9v4.7h-1.9zM442.6,658.3h1.9v4.7h-1.9zM458.5,658.3h1.9v4.7h-1.9zM441,662.7h1.9v4.7h-1.9zM437.9,667h1.9v4.7h-1.9zM422,675.7h3.5v4.7h-3.5zM431.5,680.1h1.9v4.7h-1.9zM442.6,684.4h1.9v4.7h-1.9zM452.1,684.4h1.9v4.7h-1.9zM483.8,684.4h3.5v4.7h-3.5zM449,688.8h1.9v4.7h-1.9zM458.5,688.8h1.9v4.7h-1.9zM463.2,688.8h1.9v4.7h-1.9zM479.1,697.5h1.9v4.7h-1.9zM449,701.8h3.5v4.7h-3.5zM450.5,706.2h1.9v4.7h-1.9zM456.9,706.2h1.9v4.7h-1.9zM461.6,706.2h3.5v4.7h-3.5zM479.1,706.2h1.9v4.7h-1.9zM429.9,710.5h1.9v4.7h-1.9zM479.1,710.5h5.1v4.7h-5.1zM428.4,714.9h1.9v4.7h-1.9zM450.5,714.9h1.9v4.7h-1.9zM479.1,714.9h3.5v4.7h-3.5zM488.6,714.9h1.9v4.7h-1.9zM436.3,727.9h1.9v4.7h-1.9zM450.5,736.6h1.9v4.7h-1.9zM455.3,736.6h1.9v4.7h-1.9z"/>
<path fill="#b2ff4c" d="M442.6,549.5h1.9v4.7h-1.9zM423.6,553.9h1.9v4.7h-1.9zM426.8,553.9h1.9v4.7h-1.9zM431.5,553.9h1.9v4.7h-1.9zM460,553.9h1.9v4.7h-1.9zM431.5,558.2h1.9v4.7h-1.9zM441,558.2h1.9v4.7h-1.9zM463.2,558.2h9.8v4.7h-9.8zM475.9,558.2h6.6v4.7h-6.6zM436.3,562.6h1.9v4.7h-1.9zM449,562.6h1.9v4.7h-1.9zM461.6,562.6h5.1v4.7h-5.1zM469.6,562.6h1.9v4.7h-1.9zM474.3,562.6h1.9v4.7h-1.9zM482.2,562.6h11.4v4.7h-11.4zM422,571.3h1.9v4.7h-1.9zM450.5,571.3h3.5v4.7h-3.5zM456.9,571.3h5.1v4.7h-5.1zM472.7,571.3h5.1v4.7h-5.1zM485.4,571.3h3.5v4.7h-3.5zM468,580h1.9v4.7h-1.9zM474.3,580h1.9v4.7h-1.9zM461.6,584.3h1.9v4.7h-1.9zM437.9,588.7h1.9v4.7h-1.9zM468,588.7h1.9v4.7h-1.9zM482.2,588.7h3.5v4.7h-3.5zM490.1,588.7h1.9v4.7h-1.9zM493.3,588.7h1.9v4.7h-1.9zM436.3,597.4h3.5v4.7h-3.5zM447.4,597.4h1.9v4.7h-1.9zM483.8,597.4h3.5v4.7h-3.5zM493.3,597.4h1.9v4.7h-1.9zM420.4,601.7h1.9v4.7h-1.9zM434.7,601.7h1.9v4.7h-1.9zM449,601.7h5.1v4.7h-5.1zM456.9,601.7h1.9v4.7h-1.9zM472.7,601.7h5.1v4.7h-5.1zM493.3,619.1h1.9v4.7h-1.9zM428.4,623.5h1.9v4.7h-1.9zM434.7,623.5h5.1v4.7h-5.1zM461.6,623.5h1.9v4.7h-1.9zM477.5,623.5h1.9v4.7h-1.9zM490.1,623.5h3.5v4.7h-3.5zM441,627.8h1.9v4.7h-1.9zM449,627.8h1.9v4.7h-1.9zM458.5,627.8h1.9v4.7h-1.9zM463.2,627.8h5.1v4.7h-5.1zM445.8,632.2h1.9v4.7h-1.9zM491.7,632.2h3.5v4.7h-3.5zM445.8,636.5h1.9v4.7h-1.9zM461.6,645.2h1.9v4.7h-1.9zM447.4,654h1.9v4.7h-1.9zM475.9,654h1.9v4.7h-1.9zM444.2,662.7h1.9v4.7h-1.9zM456.9,667h1.9v4.7h-1.9zM453.7,671.4h1.9v4.7h-1.9zM429.9,675.7h3.5v4.7h-3.5zM433.1,680.1h1.9v4.7h-1.9zM449,680.1h1.9v4.7h-1.9zM450.5,688.8h1.9v4.7h-1.9zM464.8,688.8h1.9v4.7h-1.9zM471.1,688.8h6.6v4.7h-6.6zM479.1,693.1h1.9v4.7h-1.9zM444.2,697.5h1.9v4.7h-1.9zM464.8,697.5h3.5v4.7h-3.5zM477.5,697.5h1.9v4.7h-1.9zM485.4,697.5h1.9v4.7h-1.9zM447.4,701.8h1.9v4.7h-1.9zM442.6,706.2h1.9v4.7h-1.9zM464.8,706.2h3.5v4.7h-3.5zM477.5,710.5h1.9v4.7h-1.9zM483.8,710.5h1.9v4.7h-1.9zM488.6,710.5h6.6v4.7h-6.6zM442.6,714.9h1.9v4.7h-1.9zM490.1,714.9h1.9v4.7h-1.9zM493.3,714.9h1.9v4.7h-1.9zM433.1,723.6h1.9v4.7h-1.9zM445.8,723.6h1.9v4.7h-1.9zM491.7,727.9h1.9v4.7h-1.9zM453.7,736.6h1.9v4.7h-1.9z"/>
<path fill="#e5ff19" d="M458.5,549.5h1.9v4.7h-1.9zM422,553.9h1.9v4.7h-1.9zM429.9,553.9h1.9v4.7h-1.9zM433.1,553.9h6.6v4.7h-6.6zM450.5,553.9h5.1v4.7h-5.1zM458.5,553.9h1.9v4.7h-1.9zM422,558.2h5.1v4.7h-5.1zM453.7,558.2h1.9v4.7h-1.9zM482.2,558.2h1.9v4.7h-1.9zM466.4,562.6h3.5v4.7h-3.5zM475.9,562.6h1.9v4.7h-1.9zM493.3,562.6h1.9v4.7h-1.9zM460,566.9h1.9v4.7h-1.9zM474.3,566.9h1.9v4.7h-1.9zM485.4,566.9h5.1v4.7h-5.1zM491.7,566.9h3.5v4.7h-3.5zM453.7,571.3h3.5v4.7h-3.5zM461.6,571.3h1.9v4.7h-1.9zM464.8,571.3h5.1v4.7h-5.1zM477.5,571.3h3.5v4.7h-3.5zM483.8,571.3h1.9v4.7h-1.9zM488.6,571.3h6.6v4.7h-6.6zM418.9,580h1.9v4.7h-1.9zM423.6,580h1.9v4.7h-1.9zM463.2,580h5.1v4.7h-5.1zM475.9,580h5.1v4.7h-5.1zM483.8,580h3.5v4.7h-3.5zM445.8,584.3h1.9v4.7h-1.9zM469.6,588.7h1.9v4.7h-1.9zM474.3,588.7h3.5v4.7h-3.5zM480.6,588.7h1.9v4.7h-1.9zM491.7,588.7h1.9v4.7h-1.9zM482.2,597.4h1.9v4.7h-1.9zM487,597.4h1.9v4.7h-1.9zM491.7,597.4h1.9v4.7h-1.9zM425.2,601.7h5.1v4.7h-5.1zM431.5,601.7h3.5v4.7h-3.5zM436.3,601.7h1.9v4.7h-1.9zM447.4,601.7h1.9v4.7h-1.9zM453.7,601.7h3.5v4.7h-3.5zM447.4,606.1h1.9v4.7h-1.9zM455.3,606.1h1.9v4.7h-1.9zM466.4,610.4h1.9v4.7h-1.9zM441,614.8h1.9v4.7h-1.9zM442.6,619.1h1.9v4.7h-1.9zM453.7,619.1h1.9v4.7h-1.9zM458.5,619.1h1.9v4.7h-1.9zM464.8,619.1h3.5v4.7h-3.5zM477.5,619.1h3.5v4.7h-3.5zM487,619.1h3.5v4.7h-3.5zM491.7,619.1h1.9v4.7h-1.9zM429.9,623.5h5.1v4.7h-5.1zM456.9,623.5h5.1v4.7h-5.1zM479.1,623.5h11.4v4.7h-11.4zM493.3,623.5h1.9v4.7h-1.9zM442.6,627.8h1.9v4.7h-1.9zM460,627.8h3.5v4.7h-3.5zM483.8,627.8h8.2v4.7h-8.2zM447.4,645.2h1.9v4.7h-1.9zM460,645.2h1.9v4.7h-1.9zM441,649.6h1.9v4.7h-1.9zM452.1,649.6h1.9v4.7h-1.9zM463.2,649.6h1.9v4.7h-1.9zM466.4,649.6h3.5v4.7h-3.5zM482.2,649.6h3.5v4.7h-3.5zM456.9,654h3.5v4.7h-3.5zM474.3,654h1.9v4.7h-1.9zM444.2,658.3h1.9v4.7h-1.9zM456.9,658.3h1.9v4.7h-1.9zM442.6,662.7h1.9v4.7h-1.9zM455.3,667h1.9v4.7h-1.9zM420.4,671.4h8.2v4.7h-8.2zM442.6,671.4h1.9v4.7h-1.9zM433.1,675.7h5.1v4.7h-5.1zM449,675.7h1.9v4.7h-1.9zM456.9,688.8h1.9v4.7h-1.9zM466.4,688.8h1.9v4.7h-1.9zM469.6,688.8h1.9v4.7h-1.9zM477.5,688.8h1.9v4.7h-1.9zM482.2,688.8h1.9v4.7h-1.9zM490.1,688.8h3.5v4.7h-3.5zM463.2,697.5h1.9v4.7h-1.9zM468,697.5h1.9v4.7h-1.9zM487,697.5h8.2v4.7h-8.2zM418.9,701.8h1.9v4.7h-1.9zM445.8,701.8h1.9v4.7h-1.9zM449,706.2h1.9v4.7h-1.9zM468,706.2h1.9v4.7h-1.9zM436.3,710.5h1.9v4.7h-1.9zM447.4,710.5h6.6v4.7h-6.6zM458.5,710.5h5.1v4.7h-5.1zM466.4,710.5h5.1v4.7h-5.1zM475.9,710.5h1.9v4.7h-1.9zM485.4,710.5h3.5v4.7h-3.5zM449,714.9h1.9v4.7h-1.9zM491.7,714.9h1.9v4.7h-1.9zM482.2,727.9h1.9v4.7h-1.9zM452.1,736.6h1.9v4.7h-1.9z"/>
<path fill="#ffe500" d="M444.2,549.5h1.9v4.7h-1.9zM428.4,553.9h1.9v4.7h-1.9zM439.4,553.9h1.9v4.7h-1.9zM455.3,553.9h3.5v4.7h-3.5zM426.8,558.2h5.1v4.7h-5.1zM483.8,558.2h1.9v4.7h-1.9zM480.6,562.6h1.9v4.7h-1.9zM442.6,566.9h1.9v4.7h-1.9zM461.6,566.9h13v4.7h-13zM475.9,566.9h1.9v4.7h-1.9zM483.8,566.9h1.9v4.7h-1.9zM490.1,566.9h1.9v4.7h-1.9zM423.6,571.3h1.9v4.7h-1.9zM449,571.3h1.9v4.7h-1.9zM463.2,571.3h1.9v4.7h-1.9zM469.6,571.3h3.5v4.7h-3.5zM480.6,571.3h3.5v4.7h-3.5zM444.2,575.6h1.9v4.7h-1.9zM449,575.6h1.9v4.7h-1.9zM420.4,580h3.5v4.7h-3.5zM425.2,580h1.9v4.7h-1.9zM434.7,580h1.9v4.7h-1.9zM444.2,580h3.5v4.7h-3.5zM450.5,580h6.6v4.7h-6.6zM461.6,580h1.9v4.7h-1.9zM480.6,580h3.5v4.7h-3.5zM487,580h1.9v4.7h-1.9zM460,584.3h1.9v4.7h-1.9zM439.4,588.7h1.9v4.7h-1.9zM455.3,588.7h1.9v4.7h-1.9zM471.1,588.7h3.5v4.7h-3.5zM477.5,588.7h3.5v4.7h-3.5zM439.4,597.4h1.9v4.7h-1.9zM445.8,597.4h1.9v4.7h-1.9zM458.5,597.4h1.9v4.7h-1.9zM472.7,597.4h1.9v4.7h-1.9zM480.6,597.4h1.9v4.7h-1.9zM488.6,597.4h3.5v4.7h-3.5zM422,601.7h3.5v4.7h-3.5zM429.9,601.7h1.9v4.7h-1.9zM445.8,601.7h1.9v4.7h-1.9zM445.8,610.4h1.9v4.7h-1.9zM463.2,619.1h1.9v4.7h-1.9zM468,619.1h9.8v4.7h-9.8zM480.6,619.1h1.9v4.7h-1.9zM485.4,619.1h1.9v4.7h-1.9zM490.1,619.1h1.9v4.7h-1.9zM447.4,623.5h1.9v4.7h-1.9zM453.7,623.5h3.5v4.7h-3.5zM447.4,627.8h1.9v4.7h-1.9zM491.7,627.8h1.9v4.7h-1.9zM453.7,632.2h1.9v4.7h-1.9zM453.7,640.9h1.9v4.7h-1.9zM458.5,645.2h1.9v4.7h-1.9zM464.8,649.6h1.9v4.7h-1.9zM469.6,649.6h13v4.7h-13zM485.4,649.6h8.2v4.7h-8.2zM449,654h1.9v4.7h-1.9zM455.3,654h1.9v4.7h-1.9zM460,654h3.5v4.7h-3.5zM466.4,654h8.2v4.7h-8.2zM455.3,658.3h1.9v4.7h-1.9zM439.4,667h1.9v4.7h-1.9zM428.4,671.4h1.9v4.7h-1.9zM434.7,671.4h3.5v4.7h-3.5zM441,671.4h1.9v4.7h-1.9zM444.2,671.4h1.9v4.7h-1.9zM452.1,671.4h1.9v4.7h-1.9zM468,688.8h1.9v4.7h-1.9zM479.1,688.8h3.5v4.7h-3.5zM488.6,688.8h1.9v4.7h-1.9zM493.3,688.8h1.9v4.7h-1.9zM445.8,697.5h1.9v4.7h-1.9zM461.6,697.5h1.9v4.7h-1.9zM469.6,697.5h8.2v4.7h-8.2zM469.6,706.2h1.9v4.7h-1.9zM477.5,706.2h1.9v4.7h-1.9zM456.9,710.5h1.9v4.7h-1.9zM463.2,710.5h3.5v4.7h-3.5zM471.1,710.5h5.1v4.7h-5.1zM444.2,714.9h1.9v4.7h-1.9zM447.4,714.9h1.9v4.7h-1.9zM437.9,727.9h1.9v4.7h-1.9zM447.4,727.9h1.9v4.7h-1.9zM483.8,727.9h8.2v4.7h-8.2z"/>
<path fill="#ffb200" d="M441,553.9h1.9v4.7h-1.9zM449,553.9h1.9v4.7h-1.9zM442.6,558.2h1.9v4.7h-1.9zM485.4,558.2h6.6v4.7h-6.6zM437.9,562.6h1.9v4.7h-1.9zM447.4,562.6h1.9v4.7h-1.9zM477.5,562.6h3.5v4.7h-3.5zM447.4,566.9h1.9v4.7h-1.9zM477.5,566.9h1.9v4.7h-1.9zM480.6,566.9h3.5v4.7h-3.5zM425.2,571.3h5.1v4.7h-5.1zM433.1,571.3h1.9v4.7h-1.9zM426.8,580h3.5v4.7h-3.5zM433.1,580h1.9v4.7h-1.9zM436.3,580h1.9v4.7h-1.9zM442.6,580h1.9v4.7h-1.9zM447.4,580h3.5v4.7h-3.5zM456.9,580h5.1v4.7h-5.1zM488.6,580h1.9v4.7h-1.9zM447.4,584.3h1.9v4.7h-1.9zM441,597.4h1.9v4.7h-1.9zM444.2,597.4h1.9v4.7h-1.9zM460,597.4h13v4.7h-13zM474.3,597.4h6.6v4.7h-6.6zM437.9,601.7h1.9v4.7h-1.9zM456.9,610.4h9.8v4.7h-9.8zM449,614.8h1.9v4.7h-1.9zM452.1,619.1h1.9v4.7h-1.9zM460,619.1h3.5v4.7h-3.5zM482.2,619.1h3.5v4.7h-3.5zM452.1,623.5h1.9v4.7h-1.9zM444.2,627.8h3.5v4.7h-3.5zM447.4,632.2h1.9v4.7h-1.9zM436.3,636.5h1.9v4.7h-1.9zM445.8,640.9h1.9v4.7h-1.9zM449,645.2h1.9v4.7h-1.9zM456.9,645.2h1.9v4.7h-1.9zM450.5,649.6h1.9v4.7h-1.9zM493.3,649.6h1.9v4.7h-1.9zM450.5,654h1.9v4.7h-1.9zM463.2,654h3.5v4.7h-3.5zM453.7,667h1.9v4.7h-1.9zM433.1,671.4h1.9v4.7h-1.9zM437.9,671.4h3.5v4.7h-3.5zM445.8,671.4h6.6v4.7h-6.6zM437.9,675.7h1.9v4.7h-1.9zM447.4,675.7h1.9v4.7h-1.9zM434.7,680.1h1.9v4.7h-1.9zM444.2,684.4h1.9v4.7h-1.9zM452.1,688.8h1.9v4.7h-1.9zM483.8,688.8h5.1v4.7h-5.1zM482.2,693.1h13v4.7h-13zM420.4,701.8h1.9v4.7h-1.9zM428.4,701.8h3.5v4.7h-3.5zM444.2,701.8h1.9v4.7h-1.9zM444.2,706.2h1.9v4.7h-1.9zM471.1,706.2h1.9v4.7h-1.9zM474.3,706.2h3.5v4.7h-3.5zM445.8,710.5h1.9v4.7h-1.9zM453.7,710.5h3.5v4.7h-3.5zM445.8,714.9h1.9v4.7h-1.9zM434.7,723.6h1.9v4.7h-1.9zM444.2,723.6h1.9v4.7h-1.9z"/>
<path fill="#ff7f00" d="M456.9,549.5h1.9v4.7h-1.9zM442.6,553.9h1.9v4.7h-1.9zM491.7,558.2h3.5v4.7h-3.5zM479.1,566.9h1.9v4.7h-1.9zM429.9,571.3h3.5v4.7h-3.5zM434.7,571.3h1.9v4.7h-1.9zM445.8,571.3h3.5v4.7h-3.5zM445.8,575.6h3.5v4.7h-3.5zM429.9,580h3.5v4.7h-3.5zM437.9,580h1.9v4.7h-1.9zM441,580h1.9v4.7h-1.9zM490.1,580h1.9v4.7h-1.9zM441,588.7h1.9v4.7h-1.9zM442.6,597.4h1.9v4.7h-1.9zM444.2,601.7h1.9v4.7h-1.9zM449,606.1h1.9v4.7h-1.9zM447.4,610.4h1.9v4.7h-1.9zM455.3,610.4h1.9v4.7h-1.9zM444.2,619.1h1.9v4.7h-1.9zM450.5,623.5h1.9v4.7h-1.9zM493.3,627.8h1.9v4.7h-1.9zM455.3,645.2h1.9v4.7h-1.9zM442.6,649.6h1.9v4.7h-1.9zM449,649.6h1.9v4.7h-1.9zM452.1,654h3.5v4.7h-3.5zM445.8,658.3h1.9v4.7h-1.9zM453.7,658.3h1.9v4.7h-1.9zM429.9,671.4h1.9v4.7h-1.9zM439.4,675.7h1.9v4.7h-1.9zM447.4,680.1h1.9v4.7h-1.9zM450.5,684.4h1.9v4.7h-1.9zM455.3,688.8h1.9v4.7h-1.9zM480.6,693.1h1.9v4.7h-1.9zM447.4,697.5h1.9v4.7h-1.9zM422,701.8h6.6v4.7h-6.6zM431.5,701.8h1.9v4.7h-1.9zM447.4,706.2h1.9v4.7h-1.9zM472.7,706.2h1.9v4.7h-1.9zM437.9,710.5h1.9v4.7h-1.9zM439.4,727.9h1.9v4.7h-1.9zM445.8,727.9h1.9v4.7h-1.9z"/>
<path fill="#ff4c00" d="M445.8,549.5h1.9v4.7h-1.9zM447.4,553.9h1.9v4.7h-1.9zM444.2,558.2h1.9v4.7h-1.9zM452.1,558.2h1.9v4.7h-1.9zM445.8,562.6h1.9v4.7h-1.9zM444.2,566.9h3.5v4.7h-3.5zM436.3,571.3h1.9v4.7h-1.9zM444.2,571.3h1.9v4.7h-1.9zM439.4,580h1.9v4.7h-1.9zM491.7,580h3.5v4.7h-3.5zM449,584.3h1.9v4.7h-1.9zM458.5,584.3h1.9v4.7h-1.9zM453.7,588.7h1.9v4.7h-1.9zM453.7,606.1h1.9v4.7h-1.9zM453.7,610.4h1.9v4.7h-1.9zM442.6,614.8h1.9v4.7h-1.9zM447.4,614.8h1.9v4.7h-1.9zM445.8,619.1h6.6v4.7h-6.6zM449,623.5h1.9v4.7h-1.9zM444.2,636.5h1.9v4.7h-1.9zM450.5,645.2h5.1v4.7h-5.1zM444.2,649.6h1.9v4.7h-1.9zM447.4,649.6h1.9v4.7h-1.9zM447.4,658.3h1.9v4.7h-1.9zM452.1,658.3h1.9v4.7h-1.9zM441,667h1.9v4.7h-1.9zM431.5,671.4h1.9v4.7h-1.9zM441,675.7h1.9v4.7h-1.9zM444.2,675.7h3.5v4.7h-3.5zM453.7,688.8h1.9v4.7h-1.9zM460,697.5h1.9v4.7h-1.9zM433.1,701.8h3.5v4.7h-3.5zM442.6,701.8h1.9v4.7h-1.9zM445.8,706.2h1.9v4.7h-1.9zM444.2,710.5h1.9v4.7h-1.9zM442.6,723.6h1.9v4.7h-1.9zM441,727.9h5.1v4.7h-5.1z"/>
<path fill="#ff1900" d="M455.3,549.5h1.9v4.7h-1.9zM444.2,553.9h3.5v4.7h-3.5zM439.4,562.6h1.9v4.7h-1.9zM442.6,571.3h1.9v4.7h-1.9zM456.9,584.3h1.9v4.7h-1.9zM439.4,601.7h1.9v4.7h-1.9zM442.6,601.7h1.9v4.7h-1.9zM449,610.4h1.9v4.7h-1.9zM452.1,610.4h1.9v4.7h-1.9zM449,632.2h1.9v4.7h-1.9zM452.1,632.2h1.9v4.7h-1.9zM437.9,636.5h1.9v4.7h-1.9zM447.4,640.9h1.9v4.7h-1.9zM452.1,640.9h1.9v4.7h-1.9zM445.8,649.6h1.9v4.7h-1.9zM449,658.3h3.5v4.7h-3.5zM452.1,667h1.9v4.7h-1.9zM442.6,675.7h1.9v4.7h-1.9zM445.8,680.1h1.9v4.7h-1.9zM449,697.5h1.9v4.7h-1.9zM439.4,710.5h1.9v4.7h-1.9zM442.6,710.5h1.9v4.7h-1.9zM436.3,723.6h1.9v4.7h-1.9z"/>
<path fill="#e50000" d="M447.4,549.5h8.2v4.7h-8.2zM441,562.6h1.9v4.7h-1.9zM437.9,571.3h1.9v4.7h-1.9zM441,571.3h1.9v4.7h-1.9zM450.5,584.3h1.9v4.7h-1.9zM455.3,584.3h1.9v4.7h-1.9zM442.6,588.7h1.9v4.7h-1.9zM452.1,588.7h1.9v4.7h-1.9zM441,601.7h1.9v4.7h-1.9zM450.5,606.1h3.5v4.7h-3.5zM450.5,610.4h1.9v4.7h-1.9zM445.8,614.8h1.9v4.7h-1.9zM450.5,632.2h1.9v4.7h-1.9zM439.4,636.5h1.9v4.7h-1.9zM442.6,667h1.9v4.7h-1.9zM436.3,680.1h1.9v4.7h-1.9zM439.4,680.1h3.5v4.7h-3.5zM455.3,697.5h5.1v4.7h-5.1zM436.3,701.8h1.9v4.7h-1.9zM441,701.8h1.9v4.7h-1.9zM441,710.5h1.9v4.7h-1.9zM441,723.6h1.9v4.7h-1.9z"/>
<path fill="#b20000" d="M445.8,558.2h1.9v4.7h-1.9zM442.6,562.6h3.5v4.7h-3.5zM439.4,571.3h1.9v4.7h-1.9zM452.1,584.3h3.5v4.7h-3.5zM447.4,588.7h1.9v4.7h-1.9zM444.2,614.8h1.9v4.7h-1.9zM441,636.5h3.5v4.7h-3.5zM449,640.9h3.5v4.7h-3.5zM444.2,667h3.5v4.7h-3.5zM437.9,680.1h1.9v4.7h-1.9zM442.6,680.1h3.5v4.7h-3.5zM445.8,684.4h1.9v4.7h-1.9zM449,684.4h1.9v4.7h-1.9zM450.5,697.5h1.9v4.7h-1.9zM453.7,697.5h1.9v4.7h-1.9zM437.9,723.6h3.5v4.7h-3.5z"/>
<path fill="#7f0000" d="M447.4,558.2h5.1v4.7h-5.1zM444.2,588.7h3.5v4.7h-3.5zM449,588.7h3.5v4.7h-3.5zM447.4,667h5.1v4.7h-5.1zM447.4,684.4h1.9v4.7h-1.9zM452.1,697.5h1.9v4.7h-1.9zM437.9,701.8h3.5v4.7h-3.5z"/>
</g></g>
<clipPath id="hm2"><rect x="502.7" y="549.2" width="100.5" height="192"/></clipPath>
<rect x="502.7" y="549.2" width="100.5" height="192" fill="#0010c0"/>
<g clip-path="url(#hm2)"><g filter="url(#blurh)" shape-rendering="crispEdges">
<path fill="#00007f" d="M531,575.4h3.4v4.7h-3.4zM513.7,627.7h3.4v4.7h-3.4zM600.1,640.8h1.9v4.7h-1.9zM549.8,649.6h1.9v4.7h-1.9zM509,658.3h3.4v4.7h-3.4zM559.2,671.4h3.4v4.7h-3.4zM505.8,693.2h3.4v4.7h-3.4zM510.6,697.6h3.4v4.7h-3.4zM549.8,706.3h1.9v4.7h-1.9zM592.2,715h3.4v4.7h-3.4z"/>
<path fill="#0000b2" d="M502.7,553.6h3.4v4.7h-3.4zM507.4,553.6h3.4v4.7h-3.4zM567.1,553.6h3.4v4.7h-3.4zM505.8,557.9h5v4.7h-5zM521.5,557.9h1.9v4.7h-1.9zM513.7,562.3h9.7v4.7h-9.7zM502.7,566.7h6.6v4.7h-6.6zM554.5,566.7h3.4v4.7h-3.4zM593.8,566.7h1.9v4.7h-1.9zM567.1,571h8.2v4.7h-8.2zM515.3,575.4h1.9v4.7h-1.9zM529.4,575.4h1.9v4.7h-1.9zM534.1,575.4h3.4v4.7h-3.4zM518.4,584.1h3.4v4.7h-3.4zM518.4,588.5h3.4v4.7h-3.4zM507.4,592.8h1.9v4.7h-1.9zM515.3,592.8h8.2v4.7h-8.2zM502.7,597.2h1.9v4.7h-1.9zM518.4,597.2h1.9v4.7h-1.9zM502.7,601.6h1.9v4.7h-1.9zM515.3,601.6h5v4.7h-5zM535.7,601.6h3.4v4.7h-3.4zM545.1,601.6h5v4.7h-5zM587.5,601.6h3.4v4.7h-3.4zM505.8,605.9h3.4v4.7h-3.4zM510.6,605.9h12.9v4.7h-12.9zM505.8,610.3h1.9v4.7h-1.9zM579.6,610.3h5v4.7h-5zM590.6,610.3h1.9v4.7h-1.9zM593.8,610.3h1.9v4.7h-1.9zM504.3,614.7h11.3v4.7h-11.3zM520,614.7h3.4v4.7h-3.4zM571.8,614.7h6.6v4.7h-6.6zM579.6,614.7h5v4.7h-5zM504.3,619h1.9v4.7h-1.9zM548.2,619h3.4v4.7h-3.4zM513.7,623.4h3.4v4.7h-3.4zM509,627.7h5v4.7h-5zM516.8,627.7h3.4v4.7h-3.4zM531,627.7h1.9v4.7h-1.9zM505.8,636.5h3.4v4.7h-3.4zM507.4,640.8h8.2v4.7h-8.2zM538.8,640.8h6.6v4.7h-6.6zM592.2,640.8h8.2v4.7h-8.2zM601.6,640.8h1.9v4.7h-1.9zM505.8,645.2h3.4v4.7h-3.4zM513.7,645.2h5v4.7h-5zM563.9,645.2h3.4v4.7h-3.4zM568.7,645.2h5v4.7h-5zM509,649.6h8.2v4.7h-8.2zM526.3,649.6h1.9v4.7h-1.9zM548.2,649.6h1.9v4.7h-1.9zM551.4,649.6h1.9v4.7h-1.9zM504.3,653.9h5v4.7h-5zM502.7,658.3h6.6v4.7h-6.6zM512.1,658.3h9.7v4.7h-9.7zM576.5,658.3h5v4.7h-5zM590.6,658.3h5v4.7h-5zM512.1,667h1.9v4.7h-1.9zM520,667h1.9v4.7h-1.9zM557.7,671.4h1.9v4.7h-1.9zM562.4,671.4h1.9v4.7h-1.9zM576.5,671.4h5v4.7h-5zM505.8,675.7h5v4.7h-5zM515.3,675.7h3.4v4.7h-3.4zM520,675.7h1.9v4.7h-1.9zM512.1,684.5h3.4v4.7h-3.4zM502.7,693.2h3.4v4.7h-3.4zM509,693.2h8.2v4.7h-8.2zM520,693.2h1.9v4.7h-1.9zM507.4,697.6h3.4v4.7h-3.4zM513.7,697.6h1.9v4.7h-1.9zM520,697.6h3.4v4.7h-3.4zM510.6,701.9h1.9v4.7h-1.9zM590.6,701.9h3.4v4.7h-3.4zM502.7,706.3h8.2v4.7h-8.2zM546.7,706.3h3.4v4.7h-3.4zM551.4,706.3h3.4v4.7h-3.4zM571.8,706.3h1.9v4.7h-1.9zM578.1,706.3h8.2v4.7h-8.2zM587.5,706.3h1.9v4.7h-1.9zM592.2,706.3h1.9v4.7h-1.9zM600.1,706.3h3.4v4.7h-3.4zM502.7,710.7h3.4v4.7h-3.4zM516.8,715h1.9v4.7h-1.9zM571.8,715h3.4v4.7h-3.4zM590.6,715h1.9v4.7h-1.9zM595.3,715h3.4v4.7h-3.4zM579.6,719.4h6.6v4.7h-6.6zM516.8,723.7h5v4.7h-5zM551.4,723.7h6.6v4.7h-6.6zM507.4,728.1h3.4v4.7h-3.4zM520,728.1h3.4v4.7h-3.4zM504.3,732.5h3.4v4.7h-3.4zM518.4,732.5h3.4v4.7h-3.4zM576.5,732.5h1.9v4.7h-1.9zM585.9,732.5h1.9v4.7h-1.9zM505.8,736.8h1.9v4.7h-1.9zM515.3,736.8h3.4v4.7h-3.4zM568.7,736.8h1.9v4.7h-1.9zM571.8,736.8h9.7v4.7h-9.7z"/>
<path fill="#0000e5" d="M502.7,549.2h12.9v4.7h-12.9zM516.8,549.2h8.2v4.7h-8.2zM505.8,553.6h1.9v4.7h-1.9zM510.6,553.6h3.4v4.7h-3.4zM516.8,553.6h9.7v4.7h-9.7zM559.2,553.6h3.4v4.7h-3.4zM565.5,553.6h1.9v4.7h-1.9zM570.2,553.6h1.9v4.7h-1.9zM576.5,553.6h5v4.7h-5zM504.3,557.9h1.9v4.7h-1.9zM510.6,557.9h11.3v4.7h-11.3zM523.1,557.9h3.4v4.7h-3.4zM502.7,562.3h1.9v4.7h-1.9zM509,562.3h5v4.7h-5zM523.1,562.3h1.9v4.7h-1.9zM509,566.7h3.4v4.7h-3.4zM513.7,566.7h9.7v4.7h-9.7zM532.5,566.7h5v4.7h-5zM553,566.7h1.9v4.7h-1.9zM557.7,566.7h1.9v4.7h-1.9zM592.2,566.7h1.9v4.7h-1.9zM595.3,566.7h5v4.7h-5zM502.7,571h1.9v4.7h-1.9zM509,571h5v4.7h-5zM515.3,571h6.6v4.7h-6.6zM559.2,571h8.2v4.7h-8.2zM509,575.4h6.6v4.7h-6.6zM516.8,575.4h3.4v4.7h-3.4zM526.3,575.4h3.4v4.7h-3.4zM537.2,575.4h1.9v4.7h-1.9zM545.1,575.4h5v4.7h-5zM551.4,575.4h3.4v4.7h-3.4zM601.6,575.4h1.9v4.7h-1.9zM502.7,579.7h19.1v4.7h-19.1zM502.7,584.1h16v4.7h-16zM521.5,584.1h1.9v4.7h-1.9zM502.7,588.5h5v4.7h-5zM515.3,588.5h3.4v4.7h-3.4zM502.7,592.8h5v4.7h-5zM509,592.8h6.6v4.7h-6.6zM523.1,592.8h1.9v4.7h-1.9zM537.2,592.8h5v4.7h-5zM559.2,592.8h3.4v4.7h-3.4zM504.3,597.2h14.4v4.7h-14.4zM520,597.2h1.9v4.7h-1.9zM504.3,601.6h8.2v4.7h-8.2zM513.7,601.6h1.9v4.7h-1.9zM520,601.6h3.4v4.7h-3.4zM526.3,601.6h9.7v4.7h-9.7zM538.8,601.6h1.9v4.7h-1.9zM543.5,601.6h1.9v4.7h-1.9zM549.8,601.6h1.9v4.7h-1.9zM562.4,601.6h5v4.7h-5zM573.4,601.6h14.4v4.7h-14.4zM590.6,601.6h1.9v4.7h-1.9zM596.9,601.6h6.6v4.7h-6.6zM502.7,605.9h3.4v4.7h-3.4zM509,605.9h1.9v4.7h-1.9zM523.1,605.9h1.9v4.7h-1.9zM502.7,610.3h3.4v4.7h-3.4zM507.4,610.3h14.4v4.7h-14.4zM574.9,610.3h5v4.7h-5zM584.4,610.3h6.6v4.7h-6.6zM592.2,610.3h1.9v4.7h-1.9zM595.3,610.3h5v4.7h-5zM502.7,614.7h1.9v4.7h-1.9zM515.3,614.7h5v4.7h-5zM523.1,614.7h1.9v4.7h-1.9zM578.1,614.7h1.9v4.7h-1.9zM584.4,614.7h8.2v4.7h-8.2zM502.7,619h1.9v4.7h-1.9zM505.8,619h3.4v4.7h-3.4zM510.6,619h17.6v4.7h-17.6zM531,619h3.4v4.7h-3.4zM545.1,619h3.4v4.7h-3.4zM551.4,619h11.3v4.7h-11.3zM567.1,619h3.4v4.7h-3.4zM574.9,619h3.4v4.7h-3.4zM582.8,619h5v4.7h-5zM502.7,623.4h3.4v4.7h-3.4zM510.6,623.4h3.4v4.7h-3.4zM516.8,623.4h6.6v4.7h-6.6zM502.7,627.7h6.6v4.7h-6.6zM520,627.7h3.4v4.7h-3.4zM529.4,627.7h1.9v4.7h-1.9zM532.5,627.7h1.9v4.7h-1.9zM546.7,627.7h3.4v4.7h-3.4zM554.5,627.7h8.2v4.7h-8.2zM565.5,627.7h9.7v4.7h-9.7zM582.8,627.7h5v4.7h-5zM502.7,632.1h6.6v4.7h-6.6zM512.1,632.1h9.7v4.7h-9.7zM504.3,636.5h1.9v4.7h-1.9zM509,636.5h12.9v4.7h-12.9zM502.7,640.8h5v4.7h-5zM515.3,640.8h5v4.7h-5zM529.4,640.8h9.7v4.7h-9.7zM545.1,640.8h1.9v4.7h-1.9zM549.8,640.8h1.9v4.7h-1.9zM563.9,640.8h1.9v4.7h-1.9zM568.7,640.8h5v4.7h-5zM574.9,640.8h6.6v4.7h-6.6zM590.6,640.8h1.9v4.7h-1.9zM502.7,645.2h3.4v4.7h-3.4zM509,645.2h5v4.7h-5zM518.4,645.2h3.4v4.7h-3.4zM562.4,645.2h1.9v4.7h-1.9zM567.1,645.2h1.9v4.7h-1.9zM502.7,649.6h3.4v4.7h-3.4zM507.4,649.6h1.9v4.7h-1.9zM516.8,649.6h6.6v4.7h-6.6zM524.7,649.6h1.9v4.7h-1.9zM527.8,649.6h1.9v4.7h-1.9zM546.7,649.6h1.9v4.7h-1.9zM553,649.6h1.9v4.7h-1.9zM562.4,649.6h1.9v4.7h-1.9zM600.1,649.6h3.4v4.7h-3.4zM502.7,653.9h1.9v4.7h-1.9zM509,653.9h1.9v4.7h-1.9zM521.5,658.3h1.9v4.7h-1.9zM574.9,658.3h1.9v4.7h-1.9zM581.2,658.3h9.7v4.7h-9.7zM502.7,662.7h9.7v4.7h-9.7zM516.8,662.7h1.9v4.7h-1.9zM502.7,667h9.7v4.7h-9.7zM513.7,667h6.6v4.7h-6.6zM521.5,667h1.9v4.7h-1.9zM502.7,671.4h19.1v4.7h-19.1zM531,671.4h1.9v4.7h-1.9zM537.2,671.4h3.4v4.7h-3.4zM554.5,671.4h3.4v4.7h-3.4zM570.2,671.4h6.6v4.7h-6.6zM581.2,671.4h1.9v4.7h-1.9zM502.7,675.7h3.4v4.7h-3.4zM510.6,675.7h5v4.7h-5zM518.4,675.7h1.9v4.7h-1.9zM521.5,675.7h1.9v4.7h-1.9zM502.7,680.1h19.1v4.7h-19.1zM502.7,684.5h9.7v4.7h-9.7zM515.3,684.5h11.3v4.7h-11.3zM502.7,688.8h19.1v4.7h-19.1zM516.8,693.2h3.4v4.7h-3.4zM521.5,693.2h1.9v4.7h-1.9zM504.3,697.6h3.4v4.7h-3.4zM515.3,697.6h5v4.7h-5zM502.7,701.9h8.2v4.7h-8.2zM512.1,701.9h9.7v4.7h-9.7zM537.2,701.9h8.2v4.7h-8.2zM560.8,701.9h6.6v4.7h-6.6zM589.1,701.9h1.9v4.7h-1.9zM593.8,701.9h1.9v4.7h-1.9zM510.6,706.3h12.9v4.7h-12.9zM534.1,706.3h3.4v4.7h-3.4zM540.4,706.3h6.6v4.7h-6.6zM554.5,706.3h5v4.7h-5zM567.1,706.3h5v4.7h-5zM573.4,706.3h5v4.7h-5zM585.9,706.3h1.9v4.7h-1.9zM589.1,706.3h3.4v4.7h-3.4zM593.8,706.3h6.6v4.7h-6.6zM505.8,710.7h17.6v4.7h-17.6zM502.7,715h9.7v4.7h-9.7zM513.7,715h3.4v4.7h-3.4zM518.4,715h8.2v4.7h-8.2zM529.4,715h5v4.7h-5zM540.4,715h1.9v4.7h-1.9zM570.2,715h1.9v4.7h-1.9zM574.9,715h3.4v4.7h-3.4zM584.4,715h1.9v4.7h-1.9zM587.5,715h3.4v4.7h-3.4zM598.5,715h5v4.7h-5zM502.7,719.4h11.3v4.7h-11.3zM585.9,719.4h9.7v4.7h-9.7zM502.7,723.7h14.4v4.7h-14.4zM521.5,723.7h1.9v4.7h-1.9zM549.8,723.7h1.9v4.7h-1.9zM557.7,723.7h3.4v4.7h-3.4zM598.5,723.7h5v4.7h-5zM502.7,728.1h1.9v4.7h-1.9zM505.8,728.1h1.9v4.7h-1.9zM510.6,728.1h9.7v4.7h-9.7zM523.1,728.1h1.9v4.7h-1.9zM502.7,732.5h1.9v4.7h-1.9zM507.4,732.5h6.6v4.7h-6.6zM516.8,732.5h1.9v4.7h-1.9zM521.5,732.5h1.9v4.7h-1.9zM578.1,732.5h8.2v4.7h-8.2zM504.3,736.8h1.9v4.7h-1.9zM507.4,736.8h1.9v4.7h-1.9zM512.1,736.8h3.4v4.7h-3.4zM518.4,736.8h3.4v4.7h-3.4zM570.2,736.8h1.9v4.7h-1.9zM581.2,736.8h5v4.7h-5z"/>
<path fill="#0019ff" d="M515.3,549.2h1.9v4.7h-1.9zM524.7,549.2h1.9v4.7h-1.9zM513.7,553.6h3.4v4.7h-3.4zM526.3,553.6h1.9v4.7h-1.9zM534.1,553.6h1.9v4.7h-1.9zM540.4,553.6h12.9v4.7h-12.9zM557.7,553.6h1.9v4.7h-1.9zM562.4,553.6h3.4v4.7h-3.4zM571.8,553.6h1.9v4.7h-1.9zM581.2,553.6h1.9v4.7h-1.9zM596.9,553.6h5v4.7h-5zM502.7,557.9h1.9v4.7h-1.9zM504.3,562.3h5v4.7h-5zM524.7,562.3h6.6v4.7h-6.6zM512.1,566.7h1.9v4.7h-1.9zM523.1,566.7h1.9v4.7h-1.9zM526.3,566.7h6.6v4.7h-6.6zM537.2,566.7h3.4v4.7h-3.4zM542,566.7h3.4v4.7h-3.4zM549.8,566.7h3.4v4.7h-3.4zM559.2,566.7h1.9v4.7h-1.9zM589.1,566.7h3.4v4.7h-3.4zM600.1,566.7h1.9v4.7h-1.9zM504.3,571h5v4.7h-5zM513.7,571h1.9v4.7h-1.9zM521.5,571h3.4v4.7h-3.4zM557.7,571h1.9v4.7h-1.9zM574.9,571h1.9v4.7h-1.9zM502.7,575.4h6.6v4.7h-6.6zM520,575.4h6.6v4.7h-6.6zM538.8,575.4h1.9v4.7h-1.9zM543.5,575.4h1.9v4.7h-1.9zM549.8,575.4h1.9v4.7h-1.9zM554.5,575.4h6.6v4.7h-6.6zM579.6,575.4h6.6v4.7h-6.6zM595.3,575.4h6.6v4.7h-6.6zM523.1,584.1h1.9v4.7h-1.9zM507.4,588.5h5v4.7h-5zM513.7,588.5h1.9v4.7h-1.9zM524.7,592.8h12.9v4.7h-12.9zM542,592.8h1.9v4.7h-1.9zM562.4,592.8h1.9v4.7h-1.9zM581.2,592.8h3.4v4.7h-3.4zM521.5,597.2h1.9v4.7h-1.9zM512.1,601.6h1.9v4.7h-1.9zM523.1,601.6h3.4v4.7h-3.4zM540.4,601.6h3.4v4.7h-3.4zM551.4,601.6h3.4v4.7h-3.4zM559.2,601.6h3.4v4.7h-3.4zM567.1,601.6h6.6v4.7h-6.6zM592.2,601.6h1.9v4.7h-1.9zM595.3,601.6h1.9v4.7h-1.9zM565.5,605.9h1.9v4.7h-1.9zM571.8,605.9h3.4v4.7h-3.4zM521.5,610.3h3.4v4.7h-3.4zM524.7,614.7h1.9v4.7h-1.9zM509,619h1.9v4.7h-1.9zM527.8,619h3.4v4.7h-3.4zM534.1,619h1.9v4.7h-1.9zM543.5,619h1.9v4.7h-1.9zM562.4,619h5v4.7h-5zM570.2,619h5v4.7h-5zM578.1,619h5v4.7h-5zM587.5,619h3.4v4.7h-3.4zM598.5,619h5v4.7h-5zM505.8,623.4h5v4.7h-5zM523.1,623.4h1.9v4.7h-1.9zM523.1,627.7h6.6v4.7h-6.6zM534.1,627.7h1.9v4.7h-1.9zM545.1,627.7h1.9v4.7h-1.9zM549.8,627.7h5v4.7h-5zM562.4,627.7h3.4v4.7h-3.4zM574.9,627.7h1.9v4.7h-1.9zM581.2,627.7h1.9v4.7h-1.9zM587.5,627.7h1.9v4.7h-1.9zM598.5,627.7h5v4.7h-5zM509,632.1h3.4v4.7h-3.4zM521.5,632.1h1.9v4.7h-1.9zM502.7,636.5h1.9v4.7h-1.9zM521.5,636.5h5v4.7h-5zM540.4,636.5h5v4.7h-5zM520,640.8h9.7v4.7h-9.7zM546.7,640.8h3.4v4.7h-3.4zM551.4,640.8h5v4.7h-5zM562.4,640.8h1.9v4.7h-1.9zM565.5,640.8h3.4v4.7h-3.4zM573.4,640.8h1.9v4.7h-1.9zM581.2,640.8h1.9v4.7h-1.9zM589.1,640.8h1.9v4.7h-1.9zM521.5,645.2h1.9v4.7h-1.9zM505.8,649.6h1.9v4.7h-1.9zM523.1,649.6h1.9v4.7h-1.9zM529.4,649.6h9.7v4.7h-9.7zM545.1,649.6h1.9v4.7h-1.9zM554.5,649.6h3.4v4.7h-3.4zM559.2,649.6h3.4v4.7h-3.4zM563.9,649.6h6.6v4.7h-6.6zM587.5,649.6h5v4.7h-5zM598.5,649.6h1.9v4.7h-1.9zM510.6,653.9h14.4v4.7h-14.4zM573.4,658.3h1.9v4.7h-1.9zM595.3,658.3h1.9v4.7h-1.9zM512.1,662.7h5v4.7h-5zM518.4,662.7h5v4.7h-5zM521.5,671.4h9.7v4.7h-9.7zM532.5,671.4h5v4.7h-5zM540.4,671.4h14.4v4.7h-14.4zM568.7,671.4h1.9v4.7h-1.9zM582.8,671.4h3.4v4.7h-3.4zM598.5,671.4h5v4.7h-5zM523.1,675.7h1.9v4.7h-1.9zM521.5,680.1h1.9v4.7h-1.9zM526.3,684.5h1.9v4.7h-1.9zM521.5,688.8h3.4v4.7h-3.4zM523.1,693.2h6.6v4.7h-6.6zM537.2,693.2h1.9v4.7h-1.9zM543.5,693.2h3.4v4.7h-3.4zM502.7,697.6h1.9v4.7h-1.9zM523.1,697.6h1.9v4.7h-1.9zM545.1,701.9h1.9v4.7h-1.9zM559.2,701.9h1.9v4.7h-1.9zM567.1,701.9h1.9v4.7h-1.9zM587.5,701.9h1.9v4.7h-1.9zM595.3,701.9h8.2v4.7h-8.2zM523.1,706.3h3.4v4.7h-3.4zM531,706.3h3.4v4.7h-3.4zM537.2,706.3h3.4v4.7h-3.4zM559.2,706.3h8.2v4.7h-8.2zM523.1,710.7h1.9v4.7h-1.9zM512.1,715h1.9v4.7h-1.9zM526.3,715h3.4v4.7h-3.4zM534.1,715h1.9v4.7h-1.9zM537.2,715h3.4v4.7h-3.4zM565.5,715h1.9v4.7h-1.9zM568.7,715h1.9v4.7h-1.9zM578.1,715h6.6v4.7h-6.6zM585.9,715h1.9v4.7h-1.9zM513.7,719.4h9.7v4.7h-9.7zM542,719.4h1.9v4.7h-1.9zM578.1,719.4h1.9v4.7h-1.9zM523.1,723.7h14.4v4.7h-14.4zM538.8,723.7h11.3v4.7h-11.3zM560.8,723.7h1.9v4.7h-1.9zM582.8,723.7h6.6v4.7h-6.6zM504.3,728.1h1.9v4.7h-1.9zM513.7,732.5h3.4v4.7h-3.4zM574.9,732.5h1.9v4.7h-1.9zM587.5,732.5h1.9v4.7h-1.9zM502.7,736.8h1.9v4.7h-1.9zM509,736.8h3.4v4.7h-3.4zM521.5,736.8h1.9v4.7h-1.9zM567.1,736.8h1.9v4.7h-1.9z"/>
<path fill="#004cff" d="M526.3,549.2h1.9v4.7h-1.9zM549.8,549.2h3.4v4.7h-3.4zM574.9,549.2h3.4v4.7h-3.4zM527.8,553.6h6.6v4.7h-6.6zM535.7,553.6h5v4.7h-5zM553,553.6h5v4.7h-5zM573.4,553.6h3.4v4.7h-3.4zM582.8,553.6h3.4v4.7h-3.4zM590.6,553.6h6.6v4.7h-6.6zM601.6,553.6h1.9v4.7h-1.9zM526.3,557.9h1.9v4.7h-1.9zM531,562.3h1.9v4.7h-1.9zM535.7,562.3h9.7v4.7h-9.7zM524.7,566.7h1.9v4.7h-1.9zM540.4,566.7h1.9v4.7h-1.9zM545.1,566.7h5v4.7h-5zM560.8,566.7h1.9v4.7h-1.9zM565.5,566.7h8.2v4.7h-8.2zM578.1,566.7h11.3v4.7h-11.3zM601.6,566.7h1.9v4.7h-1.9zM524.7,571h1.9v4.7h-1.9zM540.4,571h1.9v4.7h-1.9zM546.7,571h3.4v4.7h-3.4zM540.4,575.4h3.4v4.7h-3.4zM560.8,575.4h1.9v4.7h-1.9zM585.9,575.4h9.7v4.7h-9.7zM537.2,579.7h1.9v4.7h-1.9zM540.4,579.7h5v4.7h-5zM546.7,584.1h1.9v4.7h-1.9zM512.1,588.5h1.9v4.7h-1.9zM543.5,592.8h3.4v4.7h-3.4zM557.7,592.8h1.9v4.7h-1.9zM568.7,592.8h6.6v4.7h-6.6zM579.6,592.8h1.9v4.7h-1.9zM584.4,592.8h11.3v4.7h-11.3zM601.6,592.8h1.9v4.7h-1.9zM523.1,597.2h1.9v4.7h-1.9zM559.2,597.2h5v4.7h-5zM573.4,597.2h3.4v4.7h-3.4zM554.5,601.6h5v4.7h-5zM593.8,601.6h1.9v4.7h-1.9zM524.7,605.9h1.9v4.7h-1.9zM563.9,605.9h1.9v4.7h-1.9zM567.1,605.9h5v4.7h-5zM574.9,605.9h1.9v4.7h-1.9zM524.7,610.3h3.4v4.7h-3.4zM573.4,610.3h1.9v4.7h-1.9zM600.1,610.3h1.9v4.7h-1.9zM570.2,614.7h1.9v4.7h-1.9zM592.2,614.7h1.9v4.7h-1.9zM535.7,619h1.9v4.7h-1.9zM538.8,619h5v4.7h-5zM590.6,619h3.4v4.7h-3.4zM596.9,619h1.9v4.7h-1.9zM524.7,623.4h1.9v4.7h-1.9zM535.7,627.7h9.7v4.7h-9.7zM576.5,627.7h5v4.7h-5zM589.1,627.7h9.7v4.7h-9.7zM523.1,632.1h1.9v4.7h-1.9zM526.3,636.5h6.6v4.7h-6.6zM537.2,636.5h3.4v4.7h-3.4zM545.1,636.5h1.9v4.7h-1.9zM556.1,640.8h1.9v4.7h-1.9zM559.2,640.8h3.4v4.7h-3.4zM582.8,640.8h6.6v4.7h-6.6zM523.1,645.2h1.9v4.7h-1.9zM560.8,645.2h1.9v4.7h-1.9zM573.4,645.2h1.9v4.7h-1.9zM538.8,649.6h6.6v4.7h-6.6zM557.7,649.6h1.9v4.7h-1.9zM592.2,649.6h3.4v4.7h-3.4zM596.9,649.6h1.9v4.7h-1.9zM524.7,653.9h1.9v4.7h-1.9zM523.1,658.3h1.9v4.7h-1.9zM523.1,662.7h5v4.7h-5zM523.1,667h1.9v4.7h-1.9zM543.5,667h3.4v4.7h-3.4zM563.9,671.4h1.9v4.7h-1.9zM567.1,671.4h1.9v4.7h-1.9zM585.9,671.4h3.4v4.7h-3.4zM593.8,671.4h5v4.7h-5zM524.7,675.7h1.9v4.7h-1.9zM523.1,680.1h1.9v4.7h-1.9zM527.8,684.5h1.9v4.7h-1.9zM587.5,684.5h5v4.7h-5zM524.7,688.8h1.9v4.7h-1.9zM529.4,693.2h3.4v4.7h-3.4zM535.7,693.2h1.9v4.7h-1.9zM538.8,693.2h5v4.7h-5zM546.7,693.2h1.9v4.7h-1.9zM524.7,697.6h1.9v4.7h-1.9zM545.1,697.6h1.9v4.7h-1.9zM595.3,697.6h3.4v4.7h-3.4zM546.7,701.9h3.4v4.7h-3.4zM557.7,701.9h1.9v4.7h-1.9zM584.4,701.9h3.4v4.7h-3.4zM526.3,706.3h5v4.7h-5zM524.7,710.7h3.4v4.7h-3.4zM535.7,715h1.9v4.7h-1.9zM567.1,715h1.9v4.7h-1.9zM523.1,719.4h1.9v4.7h-1.9zM534.1,719.4h8.2v4.7h-8.2zM543.5,719.4h1.9v4.7h-1.9zM595.3,719.4h1.9v4.7h-1.9zM537.2,723.7h1.9v4.7h-1.9zM562.4,723.7h1.9v4.7h-1.9zM567.1,723.7h1.9v4.7h-1.9zM576.5,723.7h6.6v4.7h-6.6zM589.1,723.7h1.9v4.7h-1.9zM593.8,723.7h5v4.7h-5zM524.7,728.1h1.9v4.7h-1.9zM523.1,732.5h3.4v4.7h-3.4zM523.1,736.8h3.4v4.7h-3.4zM535.7,736.8h3.4v4.7h-3.4zM542,736.8h1.9v4.7h-1.9zM585.9,736.8h1.9v4.7h-1.9z"/>
<path fill="#007fff" d="M527.8,549.2h1.9v4.7h-1.9zM546.7,549.2h3.4v4.7h-3.4zM553,549.2h1.9v4.7h-1.9zM563.9,549.2h3.4v4.7h-3.4zM573.4,549.2h1.9v4.7h-1.9zM578.1,549.2h1.9v4.7h-1.9zM592.2,549.2h1.9v4.7h-1.9zM585.9,553.6h5v4.7h-5zM527.8,557.9h1.9v4.7h-1.9zM554.5,557.9h1.9v4.7h-1.9zM589.1,557.9h5v4.7h-5zM532.5,562.3h3.4v4.7h-3.4zM545.1,562.3h9.7v4.7h-9.7zM598.5,562.3h1.9v4.7h-1.9zM562.4,566.7h3.4v4.7h-3.4zM573.4,566.7h5v4.7h-5zM526.3,571h14.4v4.7h-14.4zM542,571h5v4.7h-5zM549.8,571h5v4.7h-5zM556.1,571h1.9v4.7h-1.9zM538.8,579.7h1.9v4.7h-1.9zM545.1,579.7h1.9v4.7h-1.9zM524.7,584.1h3.4v4.7h-3.4zM545.1,584.1h1.9v4.7h-1.9zM548.2,584.1h3.4v4.7h-3.4zM521.5,588.5h1.9v4.7h-1.9zM537.2,588.5h1.9v4.7h-1.9zM563.9,592.8h1.9v4.7h-1.9zM567.1,592.8h1.9v4.7h-1.9zM574.9,592.8h1.9v4.7h-1.9zM595.3,592.8h1.9v4.7h-1.9zM600.1,592.8h1.9v4.7h-1.9zM524.7,597.2h5v4.7h-5zM563.9,597.2h1.9v4.7h-1.9zM571.8,597.2h1.9v4.7h-1.9zM576.5,597.2h1.9v4.7h-1.9zM526.3,605.9h1.9v4.7h-1.9zM538.8,605.9h6.6v4.7h-6.6zM576.5,605.9h1.9v4.7h-1.9zM527.8,610.3h6.6v4.7h-6.6zM542,610.3h1.9v4.7h-1.9zM526.3,614.7h1.9v4.7h-1.9zM537.2,619h1.9v4.7h-1.9zM593.8,619h1.9v4.7h-1.9zM526.3,623.4h3.4v4.7h-3.4zM524.7,632.1h5v4.7h-5zM546.7,632.1h1.9v4.7h-1.9zM532.5,636.5h5v4.7h-5zM546.7,636.5h6.6v4.7h-6.6zM557.7,640.8h1.9v4.7h-1.9zM570.2,649.6h1.9v4.7h-1.9zM595.3,649.6h1.9v4.7h-1.9zM526.3,653.9h6.6v4.7h-6.6zM524.7,658.3h1.9v4.7h-1.9zM571.8,658.3h1.9v4.7h-1.9zM596.9,658.3h1.9v4.7h-1.9zM527.8,662.7h1.9v4.7h-1.9zM524.7,667h3.4v4.7h-3.4zM540.4,667h3.4v4.7h-3.4zM546.7,667h1.9v4.7h-1.9zM565.5,671.4h1.9v4.7h-1.9zM589.1,671.4h1.9v4.7h-1.9zM592.2,671.4h1.9v4.7h-1.9zM526.3,675.7h1.9v4.7h-1.9zM524.7,680.1h3.4v4.7h-3.4zM538.8,680.1h1.9v4.7h-1.9zM529.4,684.5h14.4v4.7h-14.4zM545.1,684.5h6.6v4.7h-6.6zM582.8,684.5h5v4.7h-5zM592.2,684.5h3.4v4.7h-3.4zM598.5,684.5h5v4.7h-5zM526.3,688.8h1.9v4.7h-1.9zM542,688.8h6.6v4.7h-6.6zM551.4,688.8h3.4v4.7h-3.4zM532.5,693.2h3.4v4.7h-3.4zM548.2,693.2h1.9v4.7h-1.9zM526.3,697.6h1.9v4.7h-1.9zM542,697.6h3.4v4.7h-3.4zM546.7,697.6h1.9v4.7h-1.9zM551.4,697.6h1.9v4.7h-1.9zM593.8,697.6h1.9v4.7h-1.9zM598.5,697.6h1.9v4.7h-1.9zM535.7,701.9h1.9v4.7h-1.9zM556.1,701.9h1.9v4.7h-1.9zM568.7,701.9h1.9v4.7h-1.9zM527.8,710.7h1.9v4.7h-1.9zM543.5,710.7h3.4v4.7h-3.4zM542,715h1.9v4.7h-1.9zM563.9,715h1.9v4.7h-1.9zM524.7,719.4h1.9v4.7h-1.9zM529.4,719.4h5v4.7h-5zM545.1,719.4h3.4v4.7h-3.4zM563.9,723.7h3.4v4.7h-3.4zM568.7,723.7h3.4v4.7h-3.4zM573.4,723.7h3.4v4.7h-3.4zM590.6,723.7h3.4v4.7h-3.4zM526.3,728.1h1.9v4.7h-1.9zM526.3,732.5h3.4v4.7h-3.4zM548.2,732.5h1.9v4.7h-1.9zM560.8,732.5h3.4v4.7h-3.4zM526.3,736.8h1.9v4.7h-1.9zM534.1,736.8h1.9v4.7h-1.9zM538.8,736.8h3.4v4.7h-3.4zM543.5,736.8h1.9v4.7h-1.9z"/>
<path fill="#00b2ff" d="M529.4,549.2h1.9v4.7h-1.9zM535.7,549.2h11.3v4.7h-11.3zM554.5,549.2h1.9v4.7h-1.9zM562.4,549.2h1.9v4.7h-1.9zM567.1,549.2h6.6v4.7h-6.6zM579.6,549.2h5v4.7h-5zM590.6,549.2h1.9v4.7h-1.9zM593.8,549.2h1.9v4.7h-1.9zM601.6,549.2h1.9v4.7h-1.9zM529.4,557.9h1.9v4.7h-1.9zM553,557.9h1.9v4.7h-1.9zM556.1,557.9h1.9v4.7h-1.9zM574.9,557.9h9.7v4.7h-9.7zM587.5,557.9h1.9v4.7h-1.9zM593.8,557.9h8.2v4.7h-8.2zM554.5,562.3h5v4.7h-5zM589.1,562.3h1.9v4.7h-1.9zM596.9,562.3h1.9v4.7h-1.9zM600.1,562.3h3.4v4.7h-3.4zM554.5,571h1.9v4.7h-1.9zM576.5,571h1.9v4.7h-1.9zM562.4,575.4h1.9v4.7h-1.9zM578.1,575.4h1.9v4.7h-1.9zM521.5,579.7h1.9v4.7h-1.9zM535.7,579.7h1.9v4.7h-1.9zM546.7,579.7h5v4.7h-5zM527.8,584.1h5v4.7h-5zM543.5,584.1h1.9v4.7h-1.9zM551.4,584.1h1.9v4.7h-1.9zM538.8,588.5h5v4.7h-5zM546.7,592.8h1.9v4.7h-1.9zM576.5,592.8h3.4v4.7h-3.4zM596.9,592.8h3.4v4.7h-3.4zM529.4,597.2h1.9v4.7h-1.9zM557.7,597.2h1.9v4.7h-1.9zM565.5,597.2h6.6v4.7h-6.6zM578.1,597.2h1.9v4.7h-1.9zM582.8,597.2h1.9v4.7h-1.9zM587.5,597.2h3.4v4.7h-3.4zM595.3,597.2h3.4v4.7h-3.4zM601.6,597.2h1.9v4.7h-1.9zM535.7,605.9h3.4v4.7h-3.4zM545.1,605.9h1.9v4.7h-1.9zM562.4,605.9h1.9v4.7h-1.9zM578.1,605.9h5v4.7h-5zM601.6,605.9h1.9v4.7h-1.9zM534.1,610.3h8.2v4.7h-8.2zM543.5,610.3h3.4v4.7h-3.4zM527.8,614.7h1.9v4.7h-1.9zM532.5,614.7h3.4v4.7h-3.4zM595.3,619h1.9v4.7h-1.9zM529.4,623.4h1.9v4.7h-1.9zM534.1,623.4h1.9v4.7h-1.9zM542,623.4h1.9v4.7h-1.9zM529.4,632.1h3.4v4.7h-3.4zM538.8,632.1h1.9v4.7h-1.9zM543.5,632.1h3.4v4.7h-3.4zM601.6,632.1h1.9v4.7h-1.9zM524.7,645.2h1.9v4.7h-1.9zM585.9,649.6h1.9v4.7h-1.9zM532.5,653.9h1.9v4.7h-1.9zM526.3,658.3h1.9v4.7h-1.9zM563.9,658.3h1.9v4.7h-1.9zM529.4,662.7h14.4v4.7h-14.4zM545.1,662.7h3.4v4.7h-3.4zM527.8,667h1.9v4.7h-1.9zM538.8,667h1.9v4.7h-1.9zM548.2,667h6.6v4.7h-6.6zM590.6,671.4h1.9v4.7h-1.9zM527.8,675.7h6.6v4.7h-6.6zM527.8,680.1h5v4.7h-5zM535.7,680.1h3.4v4.7h-3.4zM540.4,680.1h1.9v4.7h-1.9zM543.5,684.5h1.9v4.7h-1.9zM551.4,684.5h1.9v4.7h-1.9zM563.9,684.5h12.9v4.7h-12.9zM578.1,684.5h5v4.7h-5zM595.3,684.5h3.4v4.7h-3.4zM527.8,688.8h1.9v4.7h-1.9zM534.1,688.8h3.4v4.7h-3.4zM538.8,688.8h3.4v4.7h-3.4zM548.2,688.8h3.4v4.7h-3.4zM554.5,688.8h1.9v4.7h-1.9zM549.8,693.2h1.9v4.7h-1.9zM527.8,697.6h1.9v4.7h-1.9zM537.2,697.6h5v4.7h-5zM548.2,697.6h3.4v4.7h-3.4zM553,697.6h1.9v4.7h-1.9zM573.4,697.6h3.4v4.7h-3.4zM584.4,697.6h3.4v4.7h-3.4zM592.2,697.6h1.9v4.7h-1.9zM600.1,697.6h1.9v4.7h-1.9zM521.5,701.9h1.9v4.7h-1.9zM549.8,701.9h1.9v4.7h-1.9zM554.5,701.9h1.9v4.7h-1.9zM582.8,701.9h1.9v4.7h-1.9zM529.4,710.7h1.9v4.7h-1.9zM540.4,710.7h3.4v4.7h-3.4zM546.7,710.7h1.9v4.7h-1.9zM526.3,719.4h3.4v4.7h-3.4zM548.2,719.4h6.6v4.7h-6.6zM571.8,723.7h1.9v4.7h-1.9zM527.8,728.1h1.9v4.7h-1.9zM529.4,732.5h6.6v4.7h-6.6zM545.1,732.5h3.4v4.7h-3.4zM549.8,732.5h5v4.7h-5zM559.2,732.5h1.9v4.7h-1.9zM563.9,732.5h1.9v4.7h-1.9zM573.4,732.5h1.9v4.7h-1.9zM527.8,736.8h6.6v4.7h-6.6zM545.1,736.8h3.4v4.7h-3.4z"/>
<path fill="#00e5ff" d="M531,549.2h5v4.7h-5zM556.1,549.2h6.6v4.7h-6.6zM584.4,549.2h1.9v4.7h-1.9zM595.3,549.2h1.9v4.7h-1.9zM598.5,549.2h3.4v4.7h-3.4zM531,557.9h6.6v4.7h-6.6zM540.4,557.9h3.4v4.7h-3.4zM557.7,557.9h6.6v4.7h-6.6zM573.4,557.9h1.9v4.7h-1.9zM584.4,557.9h3.4v4.7h-3.4zM559.2,562.3h1.9v4.7h-1.9zM582.8,562.3h6.6v4.7h-6.6zM590.6,562.3h6.6v4.7h-6.6zM578.1,571h1.9v4.7h-1.9zM584.4,571h3.4v4.7h-3.4zM551.4,579.7h1.9v4.7h-1.9zM562.4,579.7h5v4.7h-5zM532.5,584.1h11.3v4.7h-11.3zM553,584.1h1.9v4.7h-1.9zM543.5,588.5h1.9v4.7h-1.9zM551.4,588.5h5v4.7h-5zM573.4,588.5h5v4.7h-5zM590.6,588.5h1.9v4.7h-1.9zM565.5,592.8h1.9v4.7h-1.9zM531,597.2h1.9v4.7h-1.9zM535.7,597.2h6.6v4.7h-6.6zM546.7,597.2h3.4v4.7h-3.4zM556.1,597.2h1.9v4.7h-1.9zM579.6,597.2h3.4v4.7h-3.4zM584.4,597.2h3.4v4.7h-3.4zM590.6,597.2h1.9v4.7h-1.9zM593.8,597.2h1.9v4.7h-1.9zM598.5,597.2h3.4v4.7h-3.4zM527.8,605.9h1.9v4.7h-1.9zM532.5,605.9h3.4v4.7h-3.4zM553,605.9h3.4v4.7h-3.4zM582.8,605.9h1.9v4.7h-1.9zM600.1,605.9h1.9v4.7h-1.9zM546.7,610.3h3.4v4.7h-3.4zM529.4,614.7h3.4v4.7h-3.4zM535.7,614.7h8.2v4.7h-8.2zM531,623.4h3.4v4.7h-3.4zM535.7,623.4h6.6v4.7h-6.6zM543.5,623.4h6.6v4.7h-6.6zM595.3,623.4h1.9v4.7h-1.9zM532.5,632.1h1.9v4.7h-1.9zM537.2,632.1h1.9v4.7h-1.9zM540.4,632.1h3.4v4.7h-3.4zM548.2,632.1h1.9v4.7h-1.9zM562.4,632.1h8.2v4.7h-8.2zM600.1,632.1h1.9v4.7h-1.9zM553,636.5h1.9v4.7h-1.9zM595.3,636.5h3.4v4.7h-3.4zM526.3,645.2h1.9v4.7h-1.9zM529.4,645.2h8.2v4.7h-8.2zM545.1,645.2h3.4v4.7h-3.4zM549.8,645.2h5v4.7h-5zM559.2,645.2h1.9v4.7h-1.9zM534.1,653.9h12.9v4.7h-12.9zM576.5,653.9h3.4v4.7h-3.4zM540.4,658.3h1.9v4.7h-1.9zM562.4,658.3h1.9v4.7h-1.9zM565.5,658.3h1.9v4.7h-1.9zM570.2,658.3h1.9v4.7h-1.9zM598.5,658.3h5v4.7h-5zM543.5,662.7h1.9v4.7h-1.9zM548.2,662.7h1.9v4.7h-1.9zM529.4,667h9.7v4.7h-9.7zM554.5,667h3.4v4.7h-3.4zM562.4,667h3.4v4.7h-3.4zM574.9,667h5v4.7h-5zM534.1,675.7h6.6v4.7h-6.6zM542,675.7h3.4v4.7h-3.4zM593.8,675.7h1.9v4.7h-1.9zM532.5,680.1h3.4v4.7h-3.4zM574.9,680.1h5v4.7h-5zM584.4,680.1h1.9v4.7h-1.9zM553,684.5h11.3v4.7h-11.3zM576.5,684.5h1.9v4.7h-1.9zM529.4,688.8h5v4.7h-5zM537.2,688.8h1.9v4.7h-1.9zM570.2,688.8h5v4.7h-5zM578.1,688.8h3.4v4.7h-3.4zM595.3,688.8h6.6v4.7h-6.6zM551.4,693.2h1.9v4.7h-1.9zM529.4,697.6h8.2v4.7h-8.2zM554.5,697.6h1.9v4.7h-1.9zM576.5,697.6h3.4v4.7h-3.4zM581.2,697.6h3.4v4.7h-3.4zM587.5,697.6h5v4.7h-5zM601.6,697.6h1.9v4.7h-1.9zM551.4,701.9h3.4v4.7h-3.4zM531,710.7h1.9v4.7h-1.9zM534.1,710.7h6.6v4.7h-6.6zM551.4,710.7h1.9v4.7h-1.9zM554.5,719.4h6.6v4.7h-6.6zM576.5,719.4h1.9v4.7h-1.9zM601.6,719.4h1.9v4.7h-1.9zM529.4,728.1h1.9v4.7h-1.9zM542,728.1h14.4v4.7h-14.4zM567.1,728.1h8.2v4.7h-8.2zM535.7,732.5h9.7v4.7h-9.7zM554.5,732.5h5v4.7h-5zM565.5,732.5h8.2v4.7h-8.2zM589.1,732.5h1.9v4.7h-1.9zM548.2,736.8h1.9v4.7h-1.9z"/>
<path fill="#19ffe5" d="M585.9,549.2h1.9v4.7h-1.9zM589.1,549.2h1.9v4.7h-1.9zM596.9,549.2h1.9v4.7h-1.9zM537.2,557.9h3.4v4.7h-3.4zM543.5,557.9h5v4.7h-5zM563.9,557.9h9.7v4.7h-9.7zM601.6,557.9h1.9v4.7h-1.9zM560.8,562.3h14.4v4.7h-14.4zM581.2,562.3h1.9v4.7h-1.9zM579.6,571h5v4.7h-5zM587.5,571h1.9v4.7h-1.9zM601.6,571h1.9v4.7h-1.9zM553,579.7h1.9v4.7h-1.9zM559.2,579.7h3.4v4.7h-3.4zM567.1,579.7h1.9v4.7h-1.9zM598.5,579.7h5v4.7h-5zM554.5,584.1h1.9v4.7h-1.9zM581.2,584.1h1.9v4.7h-1.9zM590.6,584.1h1.9v4.7h-1.9zM535.7,588.5h1.9v4.7h-1.9zM549.8,588.5h1.9v4.7h-1.9zM556.1,588.5h1.9v4.7h-1.9zM560.8,588.5h6.6v4.7h-6.6zM570.2,588.5h3.4v4.7h-3.4zM578.1,588.5h1.9v4.7h-1.9zM581.2,588.5h5v4.7h-5zM589.1,588.5h1.9v4.7h-1.9zM592.2,588.5h1.9v4.7h-1.9zM595.3,588.5h8.2v4.7h-8.2zM532.5,597.2h3.4v4.7h-3.4zM542,597.2h5v4.7h-5zM549.8,597.2h6.6v4.7h-6.6zM592.2,597.2h1.9v4.7h-1.9zM529.4,605.9h3.4v4.7h-3.4zM546.7,605.9h6.6v4.7h-6.6zM556.1,605.9h1.9v4.7h-1.9zM560.8,605.9h1.9v4.7h-1.9zM584.4,605.9h5v4.7h-5zM592.2,605.9h8.2v4.7h-8.2zM549.8,610.3h1.9v4.7h-1.9zM553,610.3h8.2v4.7h-8.2zM601.6,610.3h1.9v4.7h-1.9zM543.5,614.7h1.9v4.7h-1.9zM549.8,614.7h5v4.7h-5zM562.4,614.7h3.4v4.7h-3.4zM593.8,614.7h1.9v4.7h-1.9zM601.6,614.7h1.9v4.7h-1.9zM549.8,623.4h6.6v4.7h-6.6zM593.8,623.4h1.9v4.7h-1.9zM596.9,623.4h6.6v4.7h-6.6zM534.1,632.1h3.4v4.7h-3.4zM570.2,632.1h1.9v4.7h-1.9zM574.9,632.1h6.6v4.7h-6.6zM598.5,632.1h1.9v4.7h-1.9zM554.5,636.5h6.6v4.7h-6.6zM584.4,636.5h1.9v4.7h-1.9zM592.2,636.5h3.4v4.7h-3.4zM598.5,636.5h3.4v4.7h-3.4zM527.8,645.2h1.9v4.7h-1.9zM537.2,645.2h1.9v4.7h-1.9zM540.4,645.2h5v4.7h-5zM548.2,645.2h1.9v4.7h-1.9zM554.5,645.2h3.4v4.7h-3.4zM574.9,645.2h1.9v4.7h-1.9zM585.9,645.2h5v4.7h-5zM567.1,653.9h1.9v4.7h-1.9zM574.9,653.9h1.9v4.7h-1.9zM579.6,653.9h1.9v4.7h-1.9zM584.4,653.9h3.4v4.7h-3.4zM593.8,653.9h8.2v4.7h-8.2zM527.8,658.3h12.9v4.7h-12.9zM542,658.3h20.7v4.7h-20.7zM567.1,658.3h3.4v4.7h-3.4zM549.8,662.7h9.7v4.7h-9.7zM590.6,662.7h3.4v4.7h-3.4zM557.7,667h5v4.7h-5zM565.5,667h5v4.7h-5zM573.4,667h1.9v4.7h-1.9zM579.6,667h1.9v4.7h-1.9zM540.4,675.7h1.9v4.7h-1.9zM545.1,675.7h1.9v4.7h-1.9zM589.1,675.7h5v4.7h-5zM595.3,675.7h1.9v4.7h-1.9zM573.4,680.1h1.9v4.7h-1.9zM579.6,680.1h1.9v4.7h-1.9zM582.8,680.1h1.9v4.7h-1.9zM585.9,680.1h3.4v4.7h-3.4zM556.1,688.8h1.9v4.7h-1.9zM560.8,688.8h3.4v4.7h-3.4zM568.7,688.8h1.9v4.7h-1.9zM574.9,688.8h3.4v4.7h-3.4zM581.2,688.8h14.4v4.7h-14.4zM601.6,688.8h1.9v4.7h-1.9zM553,693.2h1.9v4.7h-1.9zM579.6,697.6h1.9v4.7h-1.9zM532.5,710.7h1.9v4.7h-1.9zM548.2,710.7h3.4v4.7h-3.4zM553,710.7h9.7v4.7h-9.7zM565.5,710.7h3.4v4.7h-3.4zM576.5,710.7h1.9v4.7h-1.9zM560.8,719.4h3.4v4.7h-3.4zM596.9,719.4h1.9v4.7h-1.9zM600.1,719.4h1.9v4.7h-1.9zM531,728.1h11.3v4.7h-11.3zM556.1,728.1h3.4v4.7h-3.4zM562.4,728.1h5v4.7h-5zM574.9,728.1h3.4v4.7h-3.4zM590.6,732.5h6.6v4.7h-6.6zM565.5,736.8h1.9v4.7h-1.9zM587.5,736.8h1.9v4.7h-1.9z"/>
<path fill="#4cffb2" d="M587.5,549.2h1.9v4.7h-1.9zM548.2,557.9h1.9v4.7h-1.9zM551.4,557.9h1.9v4.7h-1.9zM574.9,562.3h1.9v4.7h-1.9zM579.6,562.3h1.9v4.7h-1.9zM589.1,571h1.9v4.7h-1.9zM593.8,571h3.4v4.7h-3.4zM600.1,571h1.9v4.7h-1.9zM554.5,579.7h5v4.7h-5zM568.7,579.7h1.9v4.7h-1.9zM595.3,579.7h3.4v4.7h-3.4zM556.1,584.1h16v4.7h-16zM573.4,584.1h8.2v4.7h-8.2zM582.8,584.1h1.9v4.7h-1.9zM589.1,584.1h1.9v4.7h-1.9zM592.2,584.1h1.9v4.7h-1.9zM545.1,588.5h1.9v4.7h-1.9zM548.2,588.5h1.9v4.7h-1.9zM557.7,588.5h3.4v4.7h-3.4zM567.1,588.5h3.4v4.7h-3.4zM579.6,588.5h1.9v4.7h-1.9zM585.9,588.5h3.4v4.7h-3.4zM593.8,588.5h1.9v4.7h-1.9zM556.1,592.8h1.9v4.7h-1.9zM557.7,605.9h3.4v4.7h-3.4zM589.1,605.9h3.4v4.7h-3.4zM551.4,610.3h1.9v4.7h-1.9zM560.8,610.3h1.9v4.7h-1.9zM563.9,610.3h3.4v4.7h-3.4zM571.8,610.3h1.9v4.7h-1.9zM545.1,614.7h1.9v4.7h-1.9zM548.2,614.7h1.9v4.7h-1.9zM554.5,614.7h1.9v4.7h-1.9zM565.5,614.7h1.9v4.7h-1.9zM568.7,614.7h1.9v4.7h-1.9zM556.1,623.4h3.4v4.7h-3.4zM560.8,623.4h3.4v4.7h-3.4zM579.6,623.4h1.9v4.7h-1.9zM585.9,623.4h8.2v4.7h-8.2zM560.8,632.1h1.9v4.7h-1.9zM571.8,632.1h3.4v4.7h-3.4zM581.2,632.1h1.9v4.7h-1.9zM596.9,632.1h1.9v4.7h-1.9zM560.8,636.5h1.9v4.7h-1.9zM563.9,636.5h11.3v4.7h-11.3zM582.8,636.5h1.9v4.7h-1.9zM585.9,636.5h6.6v4.7h-6.6zM601.6,636.5h1.9v4.7h-1.9zM538.8,645.2h1.9v4.7h-1.9zM557.7,645.2h1.9v4.7h-1.9zM584.4,645.2h1.9v4.7h-1.9zM590.6,645.2h1.9v4.7h-1.9zM571.8,649.6h1.9v4.7h-1.9zM546.7,653.9h1.9v4.7h-1.9zM565.5,653.9h1.9v4.7h-1.9zM568.7,653.9h3.4v4.7h-3.4zM573.4,653.9h1.9v4.7h-1.9zM581.2,653.9h3.4v4.7h-3.4zM587.5,653.9h3.4v4.7h-3.4zM592.2,653.9h1.9v4.7h-1.9zM601.6,653.9h1.9v4.7h-1.9zM559.2,662.7h1.9v4.7h-1.9zM579.6,662.7h3.4v4.7h-3.4zM585.9,662.7h5v4.7h-5zM593.8,662.7h9.7v4.7h-9.7zM570.2,667h3.4v4.7h-3.4zM581.2,667h1.9v4.7h-1.9zM584.4,667h5v4.7h-5zM598.5,667h3.4v4.7h-3.4zM546.7,675.7h3.4v4.7h-3.4zM556.1,675.7h1.9v4.7h-1.9zM587.5,675.7h1.9v4.7h-1.9zM596.9,675.7h6.6v4.7h-6.6zM571.8,680.1h1.9v4.7h-1.9zM581.2,680.1h1.9v4.7h-1.9zM589.1,680.1h6.6v4.7h-6.6zM557.7,688.8h3.4v4.7h-3.4zM563.9,688.8h1.9v4.7h-1.9zM567.1,688.8h1.9v4.7h-1.9zM554.5,693.2h6.6v4.7h-6.6zM562.4,693.2h5v4.7h-5zM571.8,693.2h1.9v4.7h-1.9zM600.1,693.2h1.9v4.7h-1.9zM571.8,697.6h1.9v4.7h-1.9zM570.2,701.9h1.9v4.7h-1.9zM562.4,710.7h3.4v4.7h-3.4zM568.7,710.7h3.4v4.7h-3.4zM573.4,710.7h3.4v4.7h-3.4zM563.9,719.4h12.9v4.7h-12.9zM559.2,728.1h3.4v4.7h-3.4zM601.6,728.1h1.9v4.7h-1.9zM596.9,732.5h6.6v4.7h-6.6zM549.8,736.8h1.9v4.7h-1.9zM553,736.8h5v4.7h-5zM593.8,736.8h1.9v4.7h-1.9z"/>
<path fill="#7fff7f" d="M549.8,557.9h1.9v4.7h-1.9zM576.5,562.3h3.4v4.7h-3.4zM590.6,571h3.4v4.7h-3.4zM596.9,571h3.4v4.7h-3.4zM563.9,575.4h1.9v4.7h-1.9zM576.5,575.4h1.9v4.7h-1.9zM570.2,579.7h6.6v4.7h-6.6zM589.1,579.7h6.6v4.7h-6.6zM571.8,584.1h1.9v4.7h-1.9zM584.4,584.1h5v4.7h-5zM593.8,584.1h5v4.7h-5zM601.6,584.1h1.9v4.7h-1.9zM546.7,588.5h1.9v4.7h-1.9zM548.2,592.8h1.9v4.7h-1.9zM562.4,610.3h1.9v4.7h-1.9zM567.1,610.3h1.9v4.7h-1.9zM546.7,614.7h1.9v4.7h-1.9zM556.1,614.7h6.6v4.7h-6.6zM567.1,614.7h1.9v4.7h-1.9zM595.3,614.7h6.6v4.7h-6.6zM559.2,623.4h1.9v4.7h-1.9zM563.9,623.4h1.9v4.7h-1.9zM568.7,623.4h11.3v4.7h-11.3zM581.2,623.4h5v4.7h-5zM582.8,632.1h1.9v4.7h-1.9zM590.6,632.1h6.6v4.7h-6.6zM562.4,636.5h1.9v4.7h-1.9zM574.9,636.5h1.9v4.7h-1.9zM581.2,636.5h1.9v4.7h-1.9zM576.5,645.2h1.9v4.7h-1.9zM582.8,645.2h1.9v4.7h-1.9zM592.2,645.2h11.3v4.7h-11.3zM584.4,649.6h1.9v4.7h-1.9zM563.9,653.9h1.9v4.7h-1.9zM571.8,653.9h1.9v4.7h-1.9zM590.6,653.9h1.9v4.7h-1.9zM560.8,662.7h6.6v4.7h-6.6zM578.1,662.7h1.9v4.7h-1.9zM582.8,662.7h3.4v4.7h-3.4zM582.8,667h1.9v4.7h-1.9zM589.1,667h1.9v4.7h-1.9zM596.9,667h1.9v4.7h-1.9zM601.6,667h1.9v4.7h-1.9zM549.8,675.7h6.6v4.7h-6.6zM557.7,675.7h1.9v4.7h-1.9zM560.8,675.7h1.9v4.7h-1.9zM542,680.1h1.9v4.7h-1.9zM570.2,680.1h1.9v4.7h-1.9zM595.3,680.1h1.9v4.7h-1.9zM565.5,688.8h1.9v4.7h-1.9zM560.8,693.2h1.9v4.7h-1.9zM567.1,693.2h5v4.7h-5zM573.4,693.2h3.4v4.7h-3.4zM585.9,693.2h3.4v4.7h-3.4zM598.5,693.2h1.9v4.7h-1.9zM601.6,693.2h1.9v4.7h-1.9zM581.2,701.9h1.9v4.7h-1.9zM571.8,710.7h1.9v4.7h-1.9zM578.1,710.7h1.9v4.7h-1.9zM595.3,710.7h5v4.7h-5zM543.5,715h1.9v4.7h-1.9zM562.4,715h1.9v4.7h-1.9zM598.5,719.4h1.9v4.7h-1.9zM578.1,728.1h1.9v4.7h-1.9zM551.4,736.8h1.9v4.7h-1.9zM557.7,736.8h1.9v4.7h-1.9zM562.4,736.8h3.4v4.7h-3.4zM592.2,736.8h1.9v4.7h-1.9zM595.3,736.8h1.9v4.7h-1.9zM598.5,736.8h5v4.7h-5z"/>
<path fill="#b2ff4c" d="M534.1,579.7h1.9v4.7h-1.9zM576.5,579.7h5v4.7h-5zM584.4,579.7h5v4.7h-5zM598.5,584.1h3.4v4.7h-3.4zM568.7,610.3h1.9v4.7h-1.9zM565.5,623.4h3.4v4.7h-3.4zM584.4,632.1h6.6v4.7h-6.6zM576.5,636.5h5v4.7h-5zM578.1,645.2h5v4.7h-5zM573.4,649.6h1.9v4.7h-1.9zM579.6,649.6h1.9v4.7h-1.9zM562.4,653.9h1.9v4.7h-1.9zM567.1,662.7h3.4v4.7h-3.4zM590.6,667h6.6v4.7h-6.6zM559.2,675.7h1.9v4.7h-1.9zM562.4,675.7h1.9v4.7h-1.9zM562.4,680.1h8.2v4.7h-8.2zM598.5,680.1h5v4.7h-5zM576.5,693.2h3.4v4.7h-3.4zM589.1,693.2h9.7v4.7h-9.7zM556.1,697.6h1.9v4.7h-1.9zM571.8,701.9h1.9v4.7h-1.9zM593.8,710.7h1.9v4.7h-1.9zM600.1,710.7h3.4v4.7h-3.4zM546.7,715h5v4.7h-5zM559.2,736.8h3.4v4.7h-3.4zM589.1,736.8h3.4v4.7h-3.4zM596.9,736.8h1.9v4.7h-1.9z"/>
<path fill="#e5ff19" d="M565.5,575.4h11.3v4.7h-11.3zM581.2,579.7h3.4v4.7h-3.4zM549.8,592.8h6.6v4.7h-6.6zM570.2,610.3h1.9v4.7h-1.9zM549.8,632.1h1.9v4.7h-1.9zM559.2,632.1h1.9v4.7h-1.9zM574.9,649.6h5v4.7h-5zM581.2,649.6h1.9v4.7h-1.9zM548.2,653.9h1.9v4.7h-1.9zM560.8,653.9h1.9v4.7h-1.9zM570.2,662.7h8.2v4.7h-8.2zM563.9,675.7h1.9v4.7h-1.9zM585.9,675.7h1.9v4.7h-1.9zM546.7,680.1h1.9v4.7h-1.9zM553,680.1h5v4.7h-5zM560.8,680.1h1.9v4.7h-1.9zM596.9,680.1h1.9v4.7h-1.9zM579.6,693.2h6.6v4.7h-6.6zM570.2,697.6h1.9v4.7h-1.9zM534.1,701.9h1.9v4.7h-1.9zM573.4,701.9h5v4.7h-5zM579.6,701.9h1.9v4.7h-1.9zM579.6,710.7h1.9v4.7h-1.9zM587.5,710.7h1.9v4.7h-1.9zM592.2,710.7h1.9v4.7h-1.9zM545.1,715h1.9v4.7h-1.9zM551.4,715h1.9v4.7h-1.9zM556.1,715h3.4v4.7h-3.4zM579.6,728.1h5v4.7h-5zM587.5,728.1h1.9v4.7h-1.9zM600.1,728.1h1.9v4.7h-1.9z"/>
<path fill="#ffe500" d="M523.1,579.7h1.9v4.7h-1.9zM523.1,588.5h1.9v4.7h-1.9zM534.1,588.5h1.9v4.7h-1.9zM553,632.1h1.9v4.7h-1.9zM582.8,649.6h1.9v4.7h-1.9zM557.7,653.9h3.4v4.7h-3.4zM565.5,675.7h8.2v4.7h-8.2zM578.1,675.7h1.9v4.7h-1.9zM584.4,675.7h1.9v4.7h-1.9zM543.5,680.1h3.4v4.7h-3.4zM548.2,680.1h1.9v4.7h-1.9zM551.4,680.1h1.9v4.7h-1.9zM557.7,680.1h3.4v4.7h-3.4zM562.4,697.6h3.4v4.7h-3.4zM523.1,701.9h1.9v4.7h-1.9zM578.1,701.9h1.9v4.7h-1.9zM585.9,710.7h1.9v4.7h-1.9zM589.1,710.7h3.4v4.7h-3.4zM553,715h3.4v4.7h-3.4zM559.2,715h3.4v4.7h-3.4zM585.9,728.1h1.9v4.7h-1.9zM589.1,728.1h1.9v4.7h-1.9zM592.2,728.1h1.9v4.7h-1.9zM596.9,728.1h1.9v4.7h-1.9z"/>
<path fill="#ffb200" d="M526.3,588.5h3.4v4.7h-3.4zM551.4,632.1h1.9v4.7h-1.9zM554.5,632.1h5v4.7h-5zM553,653.9h5v4.7h-5zM573.4,675.7h5v4.7h-5zM579.6,675.7h5v4.7h-5zM549.8,680.1h1.9v4.7h-1.9zM557.7,697.6h5v4.7h-5zM565.5,697.6h1.9v4.7h-1.9zM568.7,697.6h1.9v4.7h-1.9zM526.3,701.9h3.4v4.7h-3.4zM581.2,710.7h5v4.7h-5zM584.4,728.1h1.9v4.7h-1.9zM590.6,728.1h1.9v4.7h-1.9zM593.8,728.1h3.4v4.7h-3.4zM598.5,728.1h1.9v4.7h-1.9z"/>
<path fill="#ff7f00" d="M527.8,579.7h1.9v4.7h-1.9zM524.7,588.5h1.9v4.7h-1.9zM532.5,588.5h1.9v4.7h-1.9zM549.8,653.9h3.4v4.7h-3.4zM567.1,697.6h1.9v4.7h-1.9zM524.7,701.9h1.9v4.7h-1.9zM529.4,701.9h1.9v4.7h-1.9z"/>
<path fill="#ff4c00" d="M526.3,579.7h1.9v4.7h-1.9zM529.4,579.7h1.9v4.7h-1.9zM532.5,579.7h1.9v4.7h-1.9zM529.4,588.5h3.4v4.7h-3.4zM531,701.9h3.4v4.7h-3.4z"/>
<path fill="#ff1900" d="M524.7,579.7h1.9v4.7h-1.9zM531,579.7h1.9v4.7h-1.9z"/>
</g></g>
<line x1="411.6" y1="549.5" x2="411.6" y2="741" stroke="#f5a623" stroke-width="1.5" stroke-dasharray="4.5 2.5"/>
<line x1="434.1" y1="549.5" x2="434.1" y2="741" stroke="#d62030" stroke-width="1.5" stroke-dasharray="4.5 2.5"/>
<line x1="448.3" y1="549.5" x2="448.3" y2="741" stroke="#3a4a55" stroke-width="1.5" stroke-dasharray="4.5 2.5"/>
<line x1="522.2" y1="549.2" x2="522.2" y2="741.2" stroke="#f5a623" stroke-width="1.5" stroke-dasharray="4.5 2.5"/>
<line x1="544.9" y1="549.2" x2="544.9" y2="741.2" stroke="#f4f4f4" stroke-width="1.5" stroke-dasharray="4.5 2.5"/>
<line x1="558.9" y1="549.2" x2="558.9" y2="741.2" stroke="#4a5a5a" stroke-width="1.5" stroke-dasharray="4.5 2.5"/>
<text x="411.6" y="751.2" font-size="9.5" fill="#f5b030" stroke="#f5b030" stroke-width="0.3" text-anchor="middle">L</text>
<text x="434.1" y="751.2" font-size="9.5" fill="#c03a50" stroke="#c03a50" stroke-width="0.3" text-anchor="middle">T</text>
<text x="448.3" y="751.2" font-size="9.5" fill="#5a6670" stroke="#5a6670" stroke-width="0.3" text-anchor="middle">R</text>
<text x="522.2" y="752.2" font-size="9.5" fill="#f5b030" stroke="#f5b030" stroke-width="0.3" text-anchor="middle">L</text>
<text x="544.9" y="752.2" font-size="9.5" fill="#8a8a8a" stroke="#8a8a8a" stroke-width="0.3" text-anchor="middle">M</text>
<text x="558.9" y="752.2" font-size="9.5" fill="#5a6670" stroke="#5a6670" stroke-width="0.3" text-anchor="middle">R</text>
<rect x="363.5" y="684.8" width="5.2" height="44.2" fill="url(#jet)"/>
<text x="358.5" y="686" font-size="9.3" fill="#1a1a1a" stroke="#1a1a1a" stroke-width="0.3" text-anchor="end">1</text>
<text x="358.5" y="732" font-size="9.3" fill="#1a1a1a" stroke="#1a1a1a" stroke-width="0.3" text-anchor="end">0</text>
<text x="378.6" y="706" font-size="10" fill="#1a1a1a" stroke="#1a1a1a" stroke-width="0.3" text-anchor="middle" transform="rotate(-90 378.6 706)">Norm. ΔF/F</text>
<line x1="639.1" y1="559.1" x2="658.2" y2="559.1" stroke="#c00000" stroke-width="2"/>
<text x="663.5" y="563.2" font-size="13.8" fill="#1a1a1a" stroke="#1a1a1a" stroke-width="0.3" text-anchor="start">Maternal defense</text>
<line x1="639.1" y1="574.4" x2="658.2" y2="574.4" stroke="#3a3a3a" stroke-width="2"/>
<text x="663" y="578.8" font-size="13.8" fill="#1a1a1a" stroke="#1a1a1a" stroke-width="0.3" text-anchor="start">Normal retrieval</text>
<line x1="689.1" y1="625.7" x2="689.1" y2="718" stroke="#f8c21c" stroke-width="2.1" stroke-dasharray="7.6 3.6"/>
<line x1="718.5" y1="626.6" x2="718.5" y2="718" stroke="#f0202c" stroke-width="2.1" stroke-dasharray="7.6 3.6"/>
<line x1="737.9" y1="627.5" x2="737.9" y2="718" stroke="#3c4c72" stroke-width="2.1" stroke-dasharray="7.6 3.6"/>
<path d="M669.5,710.8 L670.3,711.4 L671.1,710.6 L671.9,711.1 L672.7,710.8 L673.5,710.6 L674.3,711.4 L675.1,711.1 L675.9,710.8 L676.7,711 L677.5,711.2 L678.3,710.8 L679.1,710.9 L679.9,710.2 L680.7,710.2 L681.5,710.2 L682.3,709.9 L683.1,709.6 L683.9,709.5 L684.7,710.1 L685.5,710.5 L686.3,710.7 L687.1,711 L687.9,710.5 L688.7,710.9 L689.5,711.3 L690.3,711.7 L691.1,711.3 L691.9,711.3 L692.7,710.6 L693.5,710.4 L694.3,708.9 L695.1,708 L695.9,708.3 L696.7,706.5 L697.5,706.5 L698.3,705.8 L699.1,704.8 L699.9,704 L700.7,703.1 L701.5,702.4 L702.3,700.9 L703.1,699.5 L703.9,698.3 L704.7,697 L705.5,696.3 L706.3,695.3 L707.1,695.4 L707.9,693.9 L708.7,693.1 L709.5,692.5 L710.3,691.4 L711.1,692.4 L711.9,690.6 L712.7,690.5 L713.5,690.1 L714.3,690.7 L715.1,689.2 L715.9,689.5 L716.7,688.7 L717.5,688.3 L718.3,687.7 L719.1,687.7 L719.9,686.7 L720.7,686.4 L721.5,686.2 L722.3,686.6 L723.1,684.6 L723.9,685.1 L724.7,684.9 L725.5,683.9 L726.3,683.6 L727.1,682.8 L727.9,683.1 L728.7,682.4 L729.5,681.6 L730.3,681.1 L731.1,680.7 L731.9,680.3 L732.7,679.6 L733.5,680.5 L734.3,678.9 L735.1,677.2 L735.9,677.7 L736.7,677.8 L737.5,677.9 L738.3,677.5 L739.1,677.3 L739.9,677.3 L740.7,677.6 L741.5,677 L742.3,676.6 L743.1,677.4 L743.9,677.1 L744.7,676.6 L745.5,678.1 L746.3,678.4 L747.1,678.2 L747.9,678.1 L748.7,678.9 L749.5,679 L750.3,679.2 L751.1,679.4 L751.9,680.2 L752.7,681.6 L753.5,682 L754.3,682 L755.1,683.2 L755.9,683.9 L756.7,684.9 L757.5,685.8 L758.3,686 L759.1,686.3 L759.9,686.9 L760.7,687 L761.5,688.1 L762.3,689.3 L763.1,689.4 L763.9,689.4 L764.7,689.5 L765.5,689.4 L766.3,689.5 L767.1,689.9 L767.9,690 L768.7,690.4 L769.5,690.2 L770.3,691.1 L771.1,691.6 L771.9,691.4 L772.7,690.9 L773.5,691.8 L774.3,692.8 L775.1,692.5 L775.9,692.6 L776.7,692.7 L777.5,693.3 L778.3,693 L779.1,693.8 L779.9,693.7 L780.7,694.2 L781.5,694.2 L782.3,694.1 L783.1,693.6 L783.9,693.8 L784.7,694.1 L785.5,694.8 L786.3,695 L787.1,694.8 L787.9,695.2" fill="none" stroke="#bbb" stroke-width="4.5" opacity="0.45"/>
<path d="M669.5,712.4 L670.3,712.8 L671.1,712.5 L671.9,712.9 L672.7,713.4 L673.5,713.5 L674.3,714.3 L675.1,713.7 L675.9,714.1 L676.7,714 L677.5,714.1 L678.3,714.6 L679.1,714.5 L679.9,714.3 L680.7,714 L681.5,714.4 L682.3,713.8 L683.1,712 L683.9,711.8 L684.7,711 L685.5,710.4 L686.3,711.3 L687.1,711.1 L687.9,710.2 L688.7,710.9 L689.5,711 L690.3,710.6 L691.1,710.6 L691.9,710.8 L692.7,711.3 L693.5,710.7 L694.3,710 L695.1,710 L695.9,708.2 L696.7,706.9 L697.5,706 L698.3,705.7 L699.1,704.2 L699.9,703.9 L700.7,701.9 L701.5,700.5 L702.3,699.8 L703.1,698.5 L703.9,697.4 L704.7,696.9 L705.5,696.2 L706.3,695.3 L707.1,694.4 L707.9,694.5 L708.7,693.7 L709.5,692.7 L710.3,692.6 L711.1,691.1 L711.9,690.6 L712.7,690.3 L713.5,689.5 L714.3,688.4 L715.1,688.1 L715.9,687.1 L716.7,686.3 L717.5,685.4 L718.3,685.7 L719.1,683.7 L719.9,682.2 L720.7,679.9 L721.5,677.4 L722.3,675.5 L723.1,673.3 L723.9,671 L724.7,667.6 L725.5,665.3 L726.3,663.2 L727.1,660.6 L727.9,658.2 L728.7,656 L729.5,653 L730.3,651.2 L731.1,647.5 L731.9,646.1 L732.7,644.3 L733.5,644.7 L734.3,644.3 L735.1,644.8 L735.9,644.1 L736.7,642.7 L737.5,643.6 L738.3,642.6 L739.1,642.6 L739.9,643.7 L740.7,645.1 L741.5,645.6 L742.3,646.6 L743.1,647 L743.9,649.8 L744.7,651 L745.5,652.5 L746.3,654.1 L747.1,655.5 L747.9,656.9 L748.7,657.8 L749.5,659.3 L750.3,661.1 L751.1,663 L751.9,664.1 L752.7,665.4 L753.5,666.8 L754.3,668.3 L755.1,669.5 L755.9,670.5 L756.7,671.6 L757.5,673.6 L758.3,674.9 L759.1,676 L759.9,679 L760.7,679.9 L761.5,680.9 L762.3,681.8 L763.1,682.1 L763.9,683.8 L764.7,684.6 L765.5,685.6 L766.3,687.1 L767.1,688.4 L767.9,689.2 L768.7,689.1 L769.5,690.1 L770.3,689.9 L771.1,689.1 L771.9,689.6 L772.7,689.6 L773.5,689.5 L774.3,689.9 L775.1,689.9 L775.9,690.8 L776.7,690.5 L777.5,690.3 L778.3,690.8 L779.1,690.3 L779.9,690.8 L780.7,690.6 L781.5,691.2 L782.3,690.6 L783.1,691 L783.9,690.2 L784.7,690.5 L785.5,690.9 L786.3,691.4 L787.1,692.5 L787.9,693" fill="none" stroke="#f0b0b0" stroke-width="4.5" opacity="0.45"/>
<path d="M669.5,710.8 L670.3,711.4 L671.1,710.6 L671.9,711.1 L672.7,710.8 L673.5,710.6 L674.3,711.4 L675.1,711.1 L675.9,710.8 L676.7,711 L677.5,711.2 L678.3,710.8 L679.1,710.9 L679.9,710.2 L680.7,710.2 L681.5,710.2 L682.3,709.9 L683.1,709.6 L683.9,709.5 L684.7,710.1 L685.5,710.5 L686.3,710.7 L687.1,711 L687.9,710.5 L688.7,710.9 L689.5,711.3 L690.3,711.7 L691.1,711.3 L691.9,711.3 L692.7,710.6 L693.5,710.4 L694.3,708.9 L695.1,708 L695.9,708.3 L696.7,706.5 L697.5,706.5 L698.3,705.8 L699.1,704.8 L699.9,704 L700.7,703.1 L701.5,702.4 L702.3,700.9 L703.1,699.5 L703.9,698.3 L704.7,697 L705.5,696.3 L706.3,695.3 L707.1,695.4 L707.9,693.9 L708.7,693.1 L709.5,692.5 L710.3,691.4 L711.1,692.4 L711.9,690.6 L712.7,690.5 L713.5,690.1 L714.3,690.7 L715.1,689.2 L715.9,689.5 L716.7,688.7 L717.5,688.3 L718.3,687.7 L719.1,687.7 L719.9,686.7 L720.7,686.4 L721.5,686.2 L722.3,686.6 L723.1,684.6 L723.9,685.1 L724.7,684.9 L725.5,683.9 L726.3,683.6 L727.1,682.8 L727.9,683.1 L728.7,682.4 L729.5,681.6 L730.3,681.1 L731.1,680.7 L731.9,680.3 L732.7,679.6 L733.5,680.5 L734.3,678.9 L735.1,677.2 L735.9,677.7 L736.7,677.8 L737.5,677.9 L738.3,677.5 L739.1,677.3 L739.9,677.3 L740.7,677.6 L741.5,677 L742.3,676.6 L743.1,677.4 L743.9,677.1 L744.7,676.6 L745.5,678.1 L746.3,678.4 L747.1,678.2 L747.9,678.1 L748.7,678.9 L749.5,679 L750.3,679.2 L751.1,679.4 L751.9,680.2 L752.7,681.6 L753.5,682 L754.3,682 L755.1,683.2 L755.9,683.9 L756.7,684.9 L757.5,685.8 L758.3,686 L759.1,686.3 L759.9,686.9 L760.7,687 L761.5,688.1 L762.3,689.3 L763.1,689.4 L763.9,689.4 L764.7,689.5 L765.5,689.4 L766.3,689.5 L767.1,689.9 L767.9,690 L768.7,690.4 L769.5,690.2 L770.3,691.1 L771.1,691.6 L771.9,691.4 L772.7,690.9 L773.5,691.8 L774.3,692.8 L775.1,692.5 L775.9,692.6 L776.7,692.7 L777.5,693.3 L778.3,693 L779.1,693.8 L779.9,693.7 L780.7,694.2 L781.5,694.2 L782.3,694.1 L783.1,693.6 L783.9,693.8 L784.7,694.1 L785.5,694.8 L786.3,695 L787.1,694.8 L787.9,695.2" fill="none" stroke="#3c3c3c" stroke-width="2.1" stroke-linejoin="round"/>
<path d="M669.5,712.4 L670.3,712.8 L671.1,712.5 L671.9,712.9 L672.7,713.4 L673.5,713.5 L674.3,714.3 L675.1,713.7 L675.9,714.1 L676.7,714 L677.5,714.1 L678.3,714.6 L679.1,714.5 L679.9,714.3 L680.7,714 L681.5,714.4 L682.3,713.8 L683.1,712 L683.9,711.8 L684.7,711 L685.5,710.4 L686.3,711.3 L687.1,711.1 L687.9,710.2 L688.7,710.9 L689.5,711 L690.3,710.6 L691.1,710.6 L691.9,710.8 L692.7,711.3 L693.5,710.7 L694.3,710 L695.1,710 L695.9,708.2 L696.7,706.9 L697.5,706 L698.3,705.7 L699.1,704.2 L699.9,703.9 L700.7,701.9 L701.5,700.5 L702.3,699.8 L703.1,698.5 L703.9,697.4 L704.7,696.9 L705.5,696.2 L706.3,695.3 L707.1,694.4 L707.9,694.5 L708.7,693.7 L709.5,692.7 L710.3,692.6 L711.1,691.1 L711.9,690.6 L712.7,690.3 L713.5,689.5 L714.3,688.4 L715.1,688.1 L715.9,687.1 L716.7,686.3 L717.5,685.4 L718.3,685.7 L719.1,683.7 L719.9,682.2 L720.7,679.9 L721.5,677.4 L722.3,675.5 L723.1,673.3 L723.9,671 L724.7,667.6 L725.5,665.3 L726.3,663.2 L727.1,660.6 L727.9,658.2 L728.7,656 L729.5,653 L730.3,651.2 L731.1,647.5 L731.9,646.1 L732.7,644.3 L733.5,644.7 L734.3,644.3 L735.1,644.8 L735.9,644.1 L736.7,642.7 L737.5,643.6 L738.3,642.6 L739.1,642.6 L739.9,643.7 L740.7,645.1 L741.5,645.6 L742.3,646.6 L743.1,647 L743.9,649.8 L744.7,651 L745.5,652.5 L746.3,654.1 L747.1,655.5 L747.9,656.9 L748.7,657.8 L749.5,659.3 L750.3,661.1 L751.1,663 L751.9,664.1 L752.7,665.4 L753.5,666.8 L754.3,668.3 L755.1,669.5 L755.9,670.5 L756.7,671.6 L757.5,673.6 L758.3,674.9 L759.1,676 L759.9,679 L760.7,679.9 L761.5,680.9 L762.3,681.8 L763.1,682.1 L763.9,683.8 L764.7,684.6 L765.5,685.6 L766.3,687.1 L767.1,688.4 L767.9,689.2 L768.7,689.1 L769.5,690.1 L770.3,689.9 L771.1,689.1 L771.9,689.6 L772.7,689.6 L773.5,689.5 L774.3,689.9 L775.1,689.9 L775.9,690.8 L776.7,690.5 L777.5,690.3 L778.3,690.8 L779.1,690.3 L779.9,690.8 L780.7,690.6 L781.5,691.2 L782.3,690.6 L783.1,691 L783.9,690.2 L784.7,690.5 L785.5,690.9 L786.3,691.4 L787.1,692.5 L787.9,693" fill="none" stroke="#c00a14" stroke-width="2.1" stroke-linejoin="round"/>
<line x1="669.5" y1="611.5" x2="669.5" y2="718.7" stroke="#333" stroke-width="1.5"/>
<line x1="669.5" y1="718" x2="788.2" y2="718" stroke="#333" stroke-width="1.5"/>
<line x1="665.3" y1="611.5" x2="669.5" y2="611.5" stroke="#333" stroke-width="1.4"/>
<text x="657" y="616.3" font-size="13.3" fill="#1a1a1a" stroke="#1a1a1a" stroke-width="0.3" text-anchor="end">4</text>
<line x1="665.3" y1="665" x2="669.5" y2="665" stroke="#333" stroke-width="1.4"/>
<text x="657" y="669.8" font-size="13.3" fill="#1a1a1a" stroke="#1a1a1a" stroke-width="0.3" text-anchor="end">2</text>
<line x1="665.3" y1="718" x2="669.5" y2="718" stroke="#333" stroke-width="1.4"/>
<text x="657" y="722.8" font-size="13.3" fill="#1a1a1a" stroke="#1a1a1a" stroke-width="0.3" text-anchor="end">0</text>
<line x1="689.1" y1="718" x2="689.1" y2="722.2" stroke="#333" stroke-width="1.4"/>
<text x="689.1" y="737.6" font-size="13.3" fill="#1a1a1a" stroke="#1a1a1a" stroke-width="0.3" text-anchor="middle">0</text>
<line x1="728.8" y1="718" x2="728.8" y2="722.2" stroke="#333" stroke-width="1.4"/>
<text x="728.8" y="737.6" font-size="13.3" fill="#1a1a1a" stroke="#1a1a1a" stroke-width="0.3" text-anchor="middle">4</text>
<line x1="768" y1="718" x2="768" y2="722.2" stroke="#333" stroke-width="1.4"/>
<text x="768" y="737.6" font-size="13.3" fill="#1a1a1a" stroke="#1a1a1a" stroke-width="0.3" text-anchor="middle">8</text>
<text x="727.4" y="754.7" font-size="13" fill="#1a1a1a" stroke="#1a1a1a" stroke-width="0.3" text-anchor="middle">Time (s)</text>
<text x="641" y="670" font-size="13.9" fill="#1a1a1a" stroke="#1a1a1a" stroke-width="0.3" text-anchor="middle" transform="rotate(-90 641 670)">zscored ΔF/F</text>
<path d="M719,598.6 L727.2,613.3 L710.8,613.3 Z" fill="#f5c518" stroke="#6aa84f" stroke-width="1" stroke-linejoin="round"/>
<text x="719" y="611.8" font-size="10.3" fill="#e02020" text-anchor="middle" font-weight="bold">!</text>
<rect x="864.7" y="619.1" width="16.4" height="50.6" fill="#fff" stroke="#d0021b" stroke-width="1.8"/>
<rect x="902.8" y="669.7" width="16.7" height="7.4" fill="#fff" stroke="#a6a6a6" stroke-width="1.6"/>
<line x1="872.9" y1="598" x2="872.9" y2="618.2" stroke="#222" stroke-width="1.2"/>
<line x1="865.9" y1="598" x2="879.9" y2="598" stroke="#222" stroke-width="1.2"/>
<line x1="911.2" y1="693.8" x2="911.2" y2="669.7" stroke="#222" stroke-width="1.2"/>
<line x1="904.2" y1="693.8" x2="918.2" y2="693.8" stroke="#222" stroke-width="1.2"/>
<line x1="847.6" y1="574.4" x2="847.6" y2="702.4" stroke="#222" stroke-width="1.2"/>
<line x1="843.2" y1="669.7" x2="930.6" y2="669.7" stroke="#222" stroke-width="1.2"/>
<line x1="843.2" y1="574.4" x2="847.6" y2="574.4" stroke="#222" stroke-width="1.2"/>
<text x="838.7" y="579.2" font-size="13.8" fill="#1a1a1a" stroke="#1a1a1a" stroke-width="0.3" text-anchor="end">1.5</text>
<line x1="843.2" y1="606.2" x2="847.6" y2="606.2" stroke="#222" stroke-width="1.2"/>
<text x="838.7" y="611" font-size="13.8" fill="#1a1a1a" stroke="#1a1a1a" stroke-width="0.3" text-anchor="end">1.0</text>
<line x1="843.2" y1="637.9" x2="847.6" y2="637.9" stroke="#222" stroke-width="1.2"/>
<text x="838.7" y="642.7" font-size="13.8" fill="#1a1a1a" stroke="#1a1a1a" stroke-width="0.3" text-anchor="end">0.5</text>
<line x1="843.2" y1="669.7" x2="847.6" y2="669.7" stroke="#222" stroke-width="1.2"/>
<text x="838.7" y="674.5" font-size="13.8" fill="#1a1a1a" stroke="#1a1a1a" stroke-width="0.3" text-anchor="end">0</text>
<line x1="843.2" y1="701.8" x2="847.6" y2="701.8" stroke="#222" stroke-width="1.2"/>
<text x="838.7" y="706.6" font-size="13.8" fill="#1a1a1a" stroke="#1a1a1a" stroke-width="0.3" text-anchor="end">-0.5</text>
<line x1="872.9" y1="669.7" x2="872.9" y2="674" stroke="#222" stroke-width="1.2"/>
<line x1="911.2" y1="669.7" x2="911.2" y2="674" stroke="#222" stroke-width="1.2"/>
<text x="806.3" y="640.7" font-size="13.1" fill="#1a1a1a" stroke="#1a1a1a" stroke-width="0.3" text-anchor="middle" transform="rotate(-90 806.3 640.7)">Δ Slope</text>
<path d="M872.6,574 V570.3 H905 V574" fill="none" stroke="#444" stroke-width="1.1"/>
<text x="889.4" y="571.6" font-size="13.6" fill="#555" stroke="#555" stroke-width="0.3" text-anchor="middle">*</text>
<text x="872" y="727.4" font-size="13.7" fill="#1a1a1a" stroke="#1a1a1a" stroke-width="0.3" text-anchor="middle">Maternal</text>
<text x="871.2" y="743.8" font-size="13.7" fill="#1a1a1a" stroke="#1a1a1a" stroke-width="0.3" text-anchor="middle">defense</text>
<text x="928" y="727.4" font-size="13.7" fill="#1a1a1a" stroke="#1a1a1a" stroke-width="0.3" text-anchor="middle">Normal</text>
<text x="931.8" y="743.8" font-size="13.7" fill="#1a1a1a" stroke="#1a1a1a" stroke-width="0.3" text-anchor="middle">retrieval</text>
</svg>
</body></html>
